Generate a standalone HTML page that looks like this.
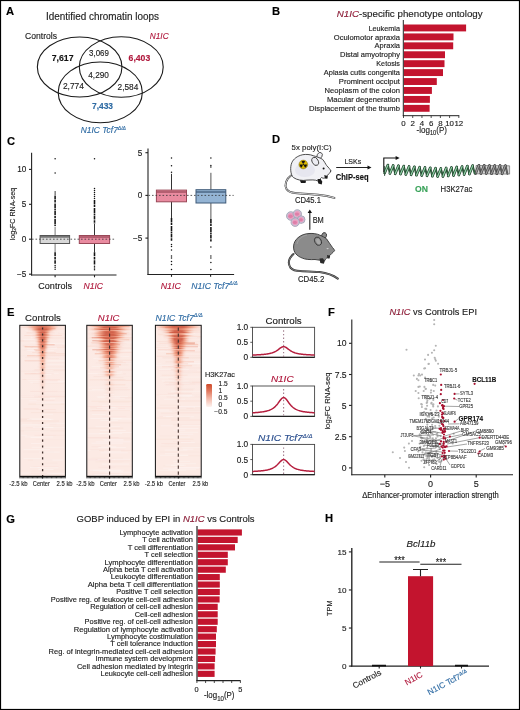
<!DOCTYPE html>
<html><head><meta charset="utf-8"><style>
html,body{margin:0;padding:0;background:#fff;}
body{width:520px;height:710px;overflow:hidden;}
svg{display:block;font-family:"Liberation Sans", sans-serif;will-change:transform;}
</style></head><body>
<svg width="520" height="710" viewBox="0 0 520 710">
<defs><linearGradient id="g0_0" x1="0.5" x2="1" y1="0" y2="0" spreadMethod="reflect"><stop offset="0.0" stop-color="#d0543a" stop-opacity="1.00"/><stop offset="0.08" stop-color="#d2583d" stop-opacity="1.00"/><stop offset="0.16" stop-color="#d76347" stop-opacity="1.00"/><stop offset="0.25" stop-color="#e07559" stop-opacity="1.00"/><stop offset="0.35" stop-color="#ec8e70" stop-opacity="1.00"/><stop offset="0.5" stop-color="#f4b39e" stop-opacity="0.98"/><stop offset="0.7" stop-color="#f9d7cc" stop-opacity="0.47"/><stop offset="1.0" stop-color="#fceae5" stop-opacity="0.19"/></linearGradient><linearGradient id="g0_1" x1="0.5" x2="1" y1="0" y2="0" spreadMethod="reflect"><stop offset="0.0" stop-color="#d0543a" stop-opacity="1.00"/><stop offset="0.08" stop-color="#d2583d" stop-opacity="1.00"/><stop offset="0.16" stop-color="#d76347" stop-opacity="1.00"/><stop offset="0.25" stop-color="#e07559" stop-opacity="1.00"/><stop offset="0.35" stop-color="#ec8e70" stop-opacity="1.00"/><stop offset="0.5" stop-color="#f4b39e" stop-opacity="0.98"/><stop offset="0.7" stop-color="#f9d7cc" stop-opacity="0.47"/><stop offset="1.0" stop-color="#fceae5" stop-opacity="0.19"/></linearGradient><linearGradient id="g0_2" x1="0.5" x2="1" y1="0" y2="0" spreadMethod="reflect"><stop offset="0.0" stop-color="#d0543a" stop-opacity="1.00"/><stop offset="0.08" stop-color="#d2583d" stop-opacity="1.00"/><stop offset="0.16" stop-color="#d76347" stop-opacity="1.00"/><stop offset="0.25" stop-color="#e07559" stop-opacity="1.00"/><stop offset="0.35" stop-color="#ec8e70" stop-opacity="1.00"/><stop offset="0.5" stop-color="#f4b39e" stop-opacity="0.98"/><stop offset="0.7" stop-color="#f9d7cc" stop-opacity="0.47"/><stop offset="1.0" stop-color="#fceae5" stop-opacity="0.19"/></linearGradient><linearGradient id="g0_3" x1="0.5" x2="1" y1="0" y2="0" spreadMethod="reflect"><stop offset="0.0" stop-color="#c8442a" stop-opacity="1.00"/><stop offset="0.08" stop-color="#c8442a" stop-opacity="1.00"/><stop offset="0.16" stop-color="#cc4d32" stop-opacity="1.00"/><stop offset="0.25" stop-color="#dc6e52" stop-opacity="1.00"/><stop offset="0.35" stop-color="#f09577" stop-opacity="1.00"/><stop offset="0.5" stop-color="#f7c6b7" stop-opacity="0.70"/><stop offset="0.7" stop-color="#fbe5de" stop-opacity="0.27"/><stop offset="1.0" stop-color="#fcede9" stop-opacity="0.15"/></linearGradient><linearGradient id="g0_4" x1="0.5" x2="1" y1="0" y2="0" spreadMethod="reflect"><stop offset="0.0" stop-color="#c8442a" stop-opacity="1.00"/><stop offset="0.08" stop-color="#c8442a" stop-opacity="1.00"/><stop offset="0.16" stop-color="#c9462b" stop-opacity="1.00"/><stop offset="0.25" stop-color="#da6a4e" stop-opacity="1.00"/><stop offset="0.35" stop-color="#ef9476" stop-opacity="1.00"/><stop offset="0.5" stop-color="#f7c8b8" stop-opacity="0.69"/><stop offset="0.7" stop-color="#fbe6e0" stop-opacity="0.26"/><stop offset="1.0" stop-color="#fcede9" stop-opacity="0.15"/></linearGradient><linearGradient id="g0_5" x1="0.5" x2="1" y1="0" y2="0" spreadMethod="reflect"><stop offset="0.0" stop-color="#ce5137" stop-opacity="1.00"/><stop offset="0.08" stop-color="#d2593e" stop-opacity="1.00"/><stop offset="0.16" stop-color="#dd6f53" stop-opacity="1.00"/><stop offset="0.25" stop-color="#ed9072" stop-opacity="1.00"/><stop offset="0.35" stop-color="#f4b5a1" stop-opacity="0.95"/><stop offset="0.5" stop-color="#f9dad1" stop-opacity="0.42"/><stop offset="0.7" stop-color="#fcebe6" stop-opacity="0.18"/><stop offset="1.0" stop-color="#fcede9" stop-opacity="0.15"/></linearGradient><linearGradient id="g0_6" x1="0.5" x2="1" y1="0" y2="0" spreadMethod="reflect"><stop offset="0.0" stop-color="#d0543a" stop-opacity="1.00"/><stop offset="0.08" stop-color="#d66145" stop-opacity="1.00"/><stop offset="0.16" stop-color="#e57f62" stop-opacity="1.00"/><stop offset="0.25" stop-color="#f3a991" stop-opacity="1.00"/><stop offset="0.35" stop-color="#f8cfc2" stop-opacity="0.58"/><stop offset="0.5" stop-color="#fbe8e2" stop-opacity="0.23"/><stop offset="0.7" stop-color="#fcede9" stop-opacity="0.15"/><stop offset="1.0" stop-color="#fcede9" stop-opacity="0.15"/></linearGradient><linearGradient id="g0_7" x1="0.5" x2="1" y1="0" y2="0" spreadMethod="reflect"><stop offset="0.0" stop-color="#c8442a" stop-opacity="1.00"/><stop offset="0.08" stop-color="#c8442a" stop-opacity="1.00"/><stop offset="0.16" stop-color="#d9674b" stop-opacity="1.00"/><stop offset="0.25" stop-color="#f2a389" stop-opacity="1.00"/><stop offset="0.35" stop-color="#f8d1c5" stop-opacity="0.55"/><stop offset="0.5" stop-color="#fceae5" stop-opacity="0.20"/><stop offset="0.7" stop-color="#fcede9" stop-opacity="0.15"/><stop offset="1.0" stop-color="#fcede9" stop-opacity="0.15"/></linearGradient><linearGradient id="g0_8" x1="0.5" x2="1" y1="0" y2="0" spreadMethod="reflect"><stop offset="0.0" stop-color="#d45c41" stop-opacity="1.00"/><stop offset="0.08" stop-color="#db6b4f" stop-opacity="1.00"/><stop offset="0.16" stop-color="#ed9072" stop-opacity="1.00"/><stop offset="0.25" stop-color="#f5bdab" stop-opacity="0.84"/><stop offset="0.35" stop-color="#faddd4" stop-opacity="0.38"/><stop offset="0.5" stop-color="#fcebe7" stop-opacity="0.17"/><stop offset="0.7" stop-color="#fcede9" stop-opacity="0.15"/><stop offset="1.0" stop-color="#fcede9" stop-opacity="0.15"/></linearGradient><linearGradient id="g0_9" x1="0.5" x2="1" y1="0" y2="0" spreadMethod="reflect"><stop offset="0.0" stop-color="#c8442a" stop-opacity="1.00"/><stop offset="0.08" stop-color="#ca492f" stop-opacity="1.00"/><stop offset="0.16" stop-color="#de7155" stop-opacity="1.00"/><stop offset="0.25" stop-color="#f2a58b" stop-opacity="1.00"/><stop offset="0.35" stop-color="#f8d0c3" stop-opacity="0.57"/><stop offset="0.5" stop-color="#fbe9e4" stop-opacity="0.21"/><stop offset="0.7" stop-color="#fcede9" stop-opacity="0.15"/><stop offset="1.0" stop-color="#fcede9" stop-opacity="0.15"/></linearGradient><linearGradient id="g0_10" x1="0.5" x2="1" y1="0" y2="0" spreadMethod="reflect"><stop offset="0.0" stop-color="#cc4d32" stop-opacity="1.00"/><stop offset="0.08" stop-color="#d25a3e" stop-opacity="1.00"/><stop offset="0.16" stop-color="#e27a5e" stop-opacity="1.00"/><stop offset="0.25" stop-color="#f2a68d" stop-opacity="1.00"/><stop offset="0.35" stop-color="#f8cec0" stop-opacity="0.60"/><stop offset="0.5" stop-color="#fbe7e2" stop-opacity="0.23"/><stop offset="0.7" stop-color="#fcede9" stop-opacity="0.15"/><stop offset="1.0" stop-color="#fcede9" stop-opacity="0.15"/></linearGradient><linearGradient id="g0_11" x1="0.5" x2="1" y1="0" y2="0" spreadMethod="reflect"><stop offset="0.0" stop-color="#d9674b" stop-opacity="1.00"/><stop offset="0.08" stop-color="#e2795d" stop-opacity="1.00"/><stop offset="0.16" stop-color="#f2a388" stop-opacity="1.00"/><stop offset="0.25" stop-color="#f8cec1" stop-opacity="0.59"/><stop offset="0.35" stop-color="#fbe6df" stop-opacity="0.26"/><stop offset="0.5" stop-color="#fcede9" stop-opacity="0.16"/><stop offset="0.7" stop-color="#fcede9" stop-opacity="0.15"/><stop offset="1.0" stop-color="#fcede9" stop-opacity="0.15"/></linearGradient><linearGradient id="g0_12" x1="0.5" x2="1" y1="0" y2="0" spreadMethod="reflect"><stop offset="0.0" stop-color="#c8442a" stop-opacity="1.00"/><stop offset="0.08" stop-color="#cd4f34" stop-opacity="1.00"/><stop offset="0.16" stop-color="#e07559" stop-opacity="1.00"/><stop offset="0.25" stop-color="#f2a88f" stop-opacity="1.00"/><stop offset="0.35" stop-color="#f8d1c5" stop-opacity="0.55"/><stop offset="0.5" stop-color="#fbe9e4" stop-opacity="0.21"/><stop offset="0.7" stop-color="#fcede9" stop-opacity="0.15"/><stop offset="1.0" stop-color="#fcede9" stop-opacity="0.15"/></linearGradient><linearGradient id="g0_13" x1="0.5" x2="1" y1="0" y2="0" spreadMethod="reflect"><stop offset="0.0" stop-color="#cc4d33" stop-opacity="1.00"/><stop offset="0.08" stop-color="#d86448" stop-opacity="1.00"/><stop offset="0.16" stop-color="#f09779" stop-opacity="1.00"/><stop offset="0.25" stop-color="#f7cbbd" stop-opacity="0.64"/><stop offset="0.35" stop-color="#fbe5df" stop-opacity="0.26"/><stop offset="0.5" stop-color="#fcede9" stop-opacity="0.15"/><stop offset="0.7" stop-color="#fcede9" stop-opacity="0.15"/><stop offset="1.0" stop-color="#fcede9" stop-opacity="0.15"/></linearGradient><linearGradient id="g0_14" x1="0.5" x2="1" y1="0" y2="0" spreadMethod="reflect"><stop offset="0.0" stop-color="#c8442a" stop-opacity="1.00"/><stop offset="0.08" stop-color="#d2593e" stop-opacity="1.00"/><stop offset="0.16" stop-color="#ed8f72" stop-opacity="1.00"/><stop offset="0.25" stop-color="#f7c8b8" stop-opacity="0.69"/><stop offset="0.35" stop-color="#fbe5de" stop-opacity="0.27"/><stop offset="0.5" stop-color="#fcede9" stop-opacity="0.15"/><stop offset="0.7" stop-color="#fcede9" stop-opacity="0.15"/><stop offset="1.0" stop-color="#fcede9" stop-opacity="0.15"/></linearGradient><linearGradient id="g0_15" x1="0.5" x2="1" y1="0" y2="0" spreadMethod="reflect"><stop offset="0.0" stop-color="#df7356" stop-opacity="1.00"/><stop offset="0.08" stop-color="#e78366" stop-opacity="1.00"/><stop offset="0.16" stop-color="#f3a890" stop-opacity="1.00"/><stop offset="0.25" stop-color="#f8d0c3" stop-opacity="0.57"/><stop offset="0.35" stop-color="#fbe6e0" stop-opacity="0.25"/><stop offset="0.5" stop-color="#fcede9" stop-opacity="0.16"/><stop offset="0.7" stop-color="#fcede9" stop-opacity="0.15"/><stop offset="1.0" stop-color="#fcede9" stop-opacity="0.15"/></linearGradient><linearGradient id="g0_16" x1="0.5" x2="1" y1="0" y2="0" spreadMethod="reflect"><stop offset="0.0" stop-color="#cd4e34" stop-opacity="1.00"/><stop offset="0.08" stop-color="#d76247" stop-opacity="1.00"/><stop offset="0.16" stop-color="#ed9073" stop-opacity="1.00"/><stop offset="0.25" stop-color="#f6c4b3" stop-opacity="0.74"/><stop offset="0.35" stop-color="#fae2db" stop-opacity="0.31"/><stop offset="0.5" stop-color="#fcece8" stop-opacity="0.16"/><stop offset="0.7" stop-color="#fcede9" stop-opacity="0.15"/><stop offset="1.0" stop-color="#fcede9" stop-opacity="0.15"/></linearGradient><linearGradient id="g0_17" x1="0.5" x2="1" y1="0" y2="0" spreadMethod="reflect"><stop offset="0.0" stop-color="#d0543a" stop-opacity="1.00"/><stop offset="0.08" stop-color="#dc6e52" stop-opacity="1.00"/><stop offset="0.16" stop-color="#f2a48a" stop-opacity="1.00"/><stop offset="0.25" stop-color="#f9d5ca" stop-opacity="0.50"/><stop offset="0.35" stop-color="#fbe9e4" stop-opacity="0.21"/><stop offset="0.5" stop-color="#fcede9" stop-opacity="0.15"/><stop offset="0.7" stop-color="#fcede9" stop-opacity="0.15"/><stop offset="1.0" stop-color="#fcede9" stop-opacity="0.15"/></linearGradient><linearGradient id="g0_18" x1="0.5" x2="1" y1="0" y2="0" spreadMethod="reflect"><stop offset="0.0" stop-color="#df7458" stop-opacity="1.00"/><stop offset="0.08" stop-color="#e88669" stop-opacity="1.00"/><stop offset="0.16" stop-color="#f3ae97" stop-opacity="1.00"/><stop offset="0.25" stop-color="#f9d5ca" stop-opacity="0.49"/><stop offset="0.35" stop-color="#fbe8e3" stop-opacity="0.22"/><stop offset="0.5" stop-color="#fcede9" stop-opacity="0.15"/><stop offset="0.7" stop-color="#fcede9" stop-opacity="0.15"/><stop offset="1.0" stop-color="#fcede9" stop-opacity="0.15"/></linearGradient><linearGradient id="g0_19" x1="0.5" x2="1" y1="0" y2="0" spreadMethod="reflect"><stop offset="0.0" stop-color="#cd4e34" stop-opacity="1.00"/><stop offset="0.08" stop-color="#d8664a" stop-opacity="1.00"/><stop offset="0.16" stop-color="#f0997c" stop-opacity="1.00"/><stop offset="0.25" stop-color="#f8cdbf" stop-opacity="0.61"/><stop offset="0.35" stop-color="#fbe6e0" stop-opacity="0.25"/><stop offset="0.5" stop-color="#fcede9" stop-opacity="0.15"/><stop offset="0.7" stop-color="#fcede9" stop-opacity="0.15"/><stop offset="1.0" stop-color="#fcede9" stop-opacity="0.15"/></linearGradient><linearGradient id="g0_20" x1="0.5" x2="1" y1="0" y2="0" spreadMethod="reflect"><stop offset="0.0" stop-color="#d35a3f" stop-opacity="1.00"/><stop offset="0.08" stop-color="#e2795d" stop-opacity="1.00"/><stop offset="0.16" stop-color="#f4b6a1" stop-opacity="0.95"/><stop offset="0.25" stop-color="#fae0d8" stop-opacity="0.34"/><stop offset="0.35" stop-color="#fcece7" stop-opacity="0.17"/><stop offset="0.5" stop-color="#fcede9" stop-opacity="0.15"/><stop offset="0.7" stop-color="#fcede9" stop-opacity="0.15"/><stop offset="1.0" stop-color="#fcede9" stop-opacity="0.15"/></linearGradient><linearGradient id="g0_21" x1="0.5" x2="1" y1="0" y2="0" spreadMethod="reflect"><stop offset="0.0" stop-color="#cf5338" stop-opacity="1.00"/><stop offset="0.08" stop-color="#df7458" stop-opacity="1.00"/><stop offset="0.16" stop-color="#f4b29d" stop-opacity="0.99"/><stop offset="0.25" stop-color="#fadfd7" stop-opacity="0.35"/><stop offset="0.35" stop-color="#fcece7" stop-opacity="0.17"/><stop offset="0.5" stop-color="#fcede9" stop-opacity="0.15"/><stop offset="0.7" stop-color="#fcede9" stop-opacity="0.15"/><stop offset="1.0" stop-color="#fcede9" stop-opacity="0.15"/></linearGradient><linearGradient id="g0_22" x1="0.5" x2="1" y1="0" y2="0" spreadMethod="reflect"><stop offset="0.0" stop-color="#da684d" stop-opacity="1.00"/><stop offset="0.08" stop-color="#e57f62" stop-opacity="1.00"/><stop offset="0.16" stop-color="#f3af98" stop-opacity="1.00"/><stop offset="0.25" stop-color="#f9d9cf" stop-opacity="0.44"/><stop offset="0.35" stop-color="#fceae5" stop-opacity="0.20"/><stop offset="0.5" stop-color="#fcede9" stop-opacity="0.15"/><stop offset="0.7" stop-color="#fcede9" stop-opacity="0.15"/><stop offset="1.0" stop-color="#fcede9" stop-opacity="0.15"/></linearGradient><linearGradient id="g0_23" x1="0.5" x2="1" y1="0" y2="0" spreadMethod="reflect"><stop offset="0.0" stop-color="#da694e" stop-opacity="1.00"/><stop offset="0.08" stop-color="#e88669" stop-opacity="1.00"/><stop offset="0.16" stop-color="#f5bdaa" stop-opacity="0.84"/><stop offset="0.25" stop-color="#fae2db" stop-opacity="0.31"/><stop offset="0.35" stop-color="#fcece8" stop-opacity="0.16"/><stop offset="0.5" stop-color="#fcede9" stop-opacity="0.15"/><stop offset="0.7" stop-color="#fcede9" stop-opacity="0.15"/><stop offset="1.0" stop-color="#fcede9" stop-opacity="0.15"/></linearGradient><linearGradient id="g0_24" x1="0.5" x2="1" y1="0" y2="0" spreadMethod="reflect"><stop offset="0.0" stop-color="#e57f62" stop-opacity="1.00"/><stop offset="0.08" stop-color="#f0997c" stop-opacity="1.00"/><stop offset="0.16" stop-color="#f7c8ba" stop-opacity="0.68"/><stop offset="0.25" stop-color="#fbe6df" stop-opacity="0.26"/><stop offset="0.35" stop-color="#fcece8" stop-opacity="0.16"/><stop offset="0.5" stop-color="#fcede9" stop-opacity="0.15"/><stop offset="0.7" stop-color="#fcede9" stop-opacity="0.15"/><stop offset="1.0" stop-color="#fcede9" stop-opacity="0.15"/></linearGradient><linearGradient id="g0_25" x1="0.5" x2="1" y1="0" y2="0" spreadMethod="reflect"><stop offset="0.0" stop-color="#e37c5f" stop-opacity="1.00"/><stop offset="0.08" stop-color="#f09678" stop-opacity="1.00"/><stop offset="0.16" stop-color="#f7c6b7" stop-opacity="0.70"/><stop offset="0.25" stop-color="#fbe5df" stop-opacity="0.27"/><stop offset="0.35" stop-color="#fcece8" stop-opacity="0.16"/><stop offset="0.5" stop-color="#fcede9" stop-opacity="0.15"/><stop offset="0.7" stop-color="#fcede9" stop-opacity="0.15"/><stop offset="1.0" stop-color="#fcede9" stop-opacity="0.15"/></linearGradient><linearGradient id="g0_26" x1="0.5" x2="1" y1="0" y2="0" spreadMethod="reflect"><stop offset="0.0" stop-color="#f09779" stop-opacity="1.00"/><stop offset="0.08" stop-color="#f3ad96" stop-opacity="1.00"/><stop offset="0.16" stop-color="#f8d3c7" stop-opacity="0.53"/><stop offset="0.25" stop-color="#fbe8e3" stop-opacity="0.22"/><stop offset="0.35" stop-color="#fcede9" stop-opacity="0.15"/><stop offset="0.5" stop-color="#fcede9" stop-opacity="0.15"/><stop offset="0.7" stop-color="#fcede9" stop-opacity="0.15"/><stop offset="1.0" stop-color="#fcede9" stop-opacity="0.15"/></linearGradient><linearGradient id="g0_27" x1="0.5" x2="1" y1="0" y2="0" spreadMethod="reflect"><stop offset="0.0" stop-color="#de7054" stop-opacity="1.00"/><stop offset="0.08" stop-color="#ea8b6d" stop-opacity="1.00"/><stop offset="0.16" stop-color="#f6beac" stop-opacity="0.82"/><stop offset="0.25" stop-color="#fae2db" stop-opacity="0.31"/><stop offset="0.35" stop-color="#fcece8" stop-opacity="0.17"/><stop offset="0.5" stop-color="#fcede9" stop-opacity="0.15"/><stop offset="0.7" stop-color="#fcede9" stop-opacity="0.15"/><stop offset="1.0" stop-color="#fcede9" stop-opacity="0.15"/></linearGradient><linearGradient id="g0_28" x1="0.5" x2="1" y1="0" y2="0" spreadMethod="reflect"><stop offset="0.0" stop-color="#ef9375" stop-opacity="1.00"/><stop offset="0.08" stop-color="#f3aa92" stop-opacity="1.00"/><stop offset="0.16" stop-color="#f8d1c5" stop-opacity="0.55"/><stop offset="0.25" stop-color="#fbe8e2" stop-opacity="0.22"/><stop offset="0.35" stop-color="#fcede9" stop-opacity="0.15"/><stop offset="0.5" stop-color="#fcede9" stop-opacity="0.15"/><stop offset="0.7" stop-color="#fcede9" stop-opacity="0.15"/><stop offset="1.0" stop-color="#fcede9" stop-opacity="0.15"/></linearGradient><linearGradient id="g0_29" x1="0.5" x2="1" y1="0" y2="0" spreadMethod="reflect"><stop offset="0.0" stop-color="#ee9173" stop-opacity="1.00"/><stop offset="0.08" stop-color="#f3ab93" stop-opacity="1.00"/><stop offset="0.16" stop-color="#f9d4c9" stop-opacity="0.50"/><stop offset="0.25" stop-color="#fce9e4" stop-opacity="0.20"/><stop offset="0.35" stop-color="#fcede9" stop-opacity="0.15"/><stop offset="0.5" stop-color="#fcede9" stop-opacity="0.15"/><stop offset="0.7" stop-color="#fcede9" stop-opacity="0.15"/><stop offset="1.0" stop-color="#fcede9" stop-opacity="0.15"/></linearGradient><linearGradient id="g0_30" x1="0.5" x2="1" y1="0" y2="0" spreadMethod="reflect"><stop offset="0.0" stop-color="#e47d60" stop-opacity="1.00"/><stop offset="0.08" stop-color="#f0987b" stop-opacity="1.00"/><stop offset="0.16" stop-color="#f7cabb" stop-opacity="0.66"/><stop offset="0.25" stop-color="#fbe6e1" stop-opacity="0.24"/><stop offset="0.35" stop-color="#fcede8" stop-opacity="0.16"/><stop offset="0.5" stop-color="#fcede9" stop-opacity="0.15"/><stop offset="0.7" stop-color="#fcede9" stop-opacity="0.15"/><stop offset="1.0" stop-color="#fcede9" stop-opacity="0.15"/></linearGradient><linearGradient id="g0_31" x1="0.5" x2="1" y1="0" y2="0" spreadMethod="reflect"><stop offset="0.0" stop-color="#f19f84" stop-opacity="1.00"/><stop offset="0.08" stop-color="#f4b49e" stop-opacity="0.98"/><stop offset="0.16" stop-color="#f9d6cb" stop-opacity="0.49"/><stop offset="0.25" stop-color="#fbe9e4" stop-opacity="0.21"/><stop offset="0.35" stop-color="#fcede9" stop-opacity="0.15"/><stop offset="0.5" stop-color="#fcede9" stop-opacity="0.15"/><stop offset="0.7" stop-color="#fcede9" stop-opacity="0.15"/><stop offset="1.0" stop-color="#fcede9" stop-opacity="0.15"/></linearGradient><linearGradient id="g0_32" x1="0.5" x2="1" y1="0" y2="0" spreadMethod="reflect"><stop offset="0.0" stop-color="#f09577" stop-opacity="1.00"/><stop offset="0.08" stop-color="#f3ae97" stop-opacity="1.00"/><stop offset="0.16" stop-color="#f9d6cb" stop-opacity="0.48"/><stop offset="0.25" stop-color="#fceae5" stop-opacity="0.20"/><stop offset="0.35" stop-color="#fcede9" stop-opacity="0.15"/><stop offset="0.5" stop-color="#fcede9" stop-opacity="0.15"/><stop offset="0.7" stop-color="#fcede9" stop-opacity="0.15"/><stop offset="1.0" stop-color="#fcede9" stop-opacity="0.15"/></linearGradient><linearGradient id="g0_33" x1="0.5" x2="1" y1="0" y2="0" spreadMethod="reflect"><stop offset="0.0" stop-color="#f2a186" stop-opacity="1.00"/><stop offset="0.08" stop-color="#f4b6a2" stop-opacity="0.94"/><stop offset="0.16" stop-color="#f9d8ce" stop-opacity="0.45"/><stop offset="0.25" stop-color="#fceae5" stop-opacity="0.20"/><stop offset="0.35" stop-color="#fcede9" stop-opacity="0.15"/><stop offset="0.5" stop-color="#fcede9" stop-opacity="0.15"/><stop offset="0.7" stop-color="#fcede9" stop-opacity="0.15"/><stop offset="1.0" stop-color="#fcede9" stop-opacity="0.15"/></linearGradient><linearGradient id="g0_34" x1="0.5" x2="1" y1="0" y2="0" spreadMethod="reflect"><stop offset="0.0" stop-color="#f3ab93" stop-opacity="1.00"/><stop offset="0.08" stop-color="#f5beab" stop-opacity="0.83"/><stop offset="0.16" stop-color="#fadbd2" stop-opacity="0.40"/><stop offset="0.25" stop-color="#fceae6" stop-opacity="0.19"/><stop offset="0.35" stop-color="#fcede9" stop-opacity="0.15"/><stop offset="0.5" stop-color="#fcede9" stop-opacity="0.15"/><stop offset="0.7" stop-color="#fcede9" stop-opacity="0.15"/><stop offset="1.0" stop-color="#fcede9" stop-opacity="0.15"/></linearGradient><linearGradient id="g0_35" x1="0.5" x2="1" y1="0" y2="0" spreadMethod="reflect"><stop offset="0.0" stop-color="#f19c80" stop-opacity="1.00"/><stop offset="0.08" stop-color="#f4b49f" stop-opacity="0.97"/><stop offset="0.16" stop-color="#f9d9cf" stop-opacity="0.44"/><stop offset="0.25" stop-color="#fceae5" stop-opacity="0.19"/><stop offset="0.35" stop-color="#fcede9" stop-opacity="0.15"/><stop offset="0.5" stop-color="#fcede9" stop-opacity="0.15"/><stop offset="0.7" stop-color="#fcede9" stop-opacity="0.15"/><stop offset="1.0" stop-color="#fcede9" stop-opacity="0.15"/></linearGradient><linearGradient id="g0_36" x1="0.5" x2="1" y1="0" y2="0" spreadMethod="reflect"><stop offset="0.0" stop-color="#f2a186" stop-opacity="1.00"/><stop offset="0.08" stop-color="#f5b9a5" stop-opacity="0.90"/><stop offset="0.16" stop-color="#fadcd3" stop-opacity="0.40"/><stop offset="0.25" stop-color="#fcebe6" stop-opacity="0.18"/><stop offset="0.35" stop-color="#fcede9" stop-opacity="0.15"/><stop offset="0.5" stop-color="#fcede9" stop-opacity="0.15"/><stop offset="0.7" stop-color="#fcede9" stop-opacity="0.15"/><stop offset="1.0" stop-color="#fcede9" stop-opacity="0.15"/></linearGradient><linearGradient id="g0_37" x1="0.5" x2="1" y1="0" y2="0" spreadMethod="reflect"><stop offset="0.0" stop-color="#f4b29d" stop-opacity="0.99"/><stop offset="0.08" stop-color="#f6c4b4" stop-opacity="0.74"/><stop offset="0.16" stop-color="#fadfd7" stop-opacity="0.35"/><stop offset="0.25" stop-color="#fcebe7" stop-opacity="0.18"/><stop offset="0.35" stop-color="#fcede9" stop-opacity="0.15"/><stop offset="0.5" stop-color="#fcede9" stop-opacity="0.15"/><stop offset="0.7" stop-color="#fcede9" stop-opacity="0.15"/><stop offset="1.0" stop-color="#fcede9" stop-opacity="0.15"/></linearGradient><linearGradient id="g0_38" x1="0.5" x2="1" y1="0" y2="0" spreadMethod="reflect"><stop offset="0.0" stop-color="#f09577" stop-opacity="1.00"/><stop offset="0.08" stop-color="#f4b09a" stop-opacity="1.00"/><stop offset="0.16" stop-color="#f9d9cf" stop-opacity="0.44"/><stop offset="0.25" stop-color="#fcebe6" stop-opacity="0.18"/><stop offset="0.35" stop-color="#fcede9" stop-opacity="0.15"/><stop offset="0.5" stop-color="#fcede9" stop-opacity="0.15"/><stop offset="0.7" stop-color="#fcede9" stop-opacity="0.15"/><stop offset="1.0" stop-color="#fcede9" stop-opacity="0.15"/></linearGradient><linearGradient id="g0_39" x1="0.5" x2="1" y1="0" y2="0" spreadMethod="reflect"><stop offset="0.0" stop-color="#f3ae97" stop-opacity="1.00"/><stop offset="0.08" stop-color="#f6c2b1" stop-opacity="0.77"/><stop offset="0.16" stop-color="#fadfd7" stop-opacity="0.35"/><stop offset="0.25" stop-color="#fcebe7" stop-opacity="0.17"/><stop offset="0.35" stop-color="#fcede9" stop-opacity="0.15"/><stop offset="0.5" stop-color="#fcede9" stop-opacity="0.15"/><stop offset="0.7" stop-color="#fcede9" stop-opacity="0.15"/><stop offset="1.0" stop-color="#fcede9" stop-opacity="0.15"/></linearGradient><linearGradient id="g0_40" x1="0.5" x2="1" y1="0" y2="0" spreadMethod="reflect"><stop offset="0.0" stop-color="#f3ae97" stop-opacity="1.00"/><stop offset="0.08" stop-color="#f6c1b0" stop-opacity="0.78"/><stop offset="0.16" stop-color="#faded6" stop-opacity="0.36"/><stop offset="0.25" stop-color="#fcebe7" stop-opacity="0.18"/><stop offset="0.35" stop-color="#fcede9" stop-opacity="0.15"/><stop offset="0.5" stop-color="#fcede9" stop-opacity="0.15"/><stop offset="0.7" stop-color="#fcede9" stop-opacity="0.15"/><stop offset="1.0" stop-color="#fcede9" stop-opacity="0.15"/></linearGradient><linearGradient id="g0_41" x1="0.5" x2="1" y1="0" y2="0" spreadMethod="reflect"><stop offset="0.0" stop-color="#f4b09a" stop-opacity="1.00"/><stop offset="0.08" stop-color="#f6c4b3" stop-opacity="0.74"/><stop offset="0.16" stop-color="#fae0d8" stop-opacity="0.34"/><stop offset="0.25" stop-color="#fcece7" stop-opacity="0.17"/><stop offset="0.35" stop-color="#fcede9" stop-opacity="0.15"/><stop offset="0.5" stop-color="#fcede9" stop-opacity="0.15"/><stop offset="0.7" stop-color="#fcede9" stop-opacity="0.15"/><stop offset="1.0" stop-color="#fcede9" stop-opacity="0.15"/></linearGradient><linearGradient id="g0_42" x1="0.5" x2="1" y1="0" y2="0" spreadMethod="reflect"><stop offset="0.0" stop-color="#f2a389" stop-opacity="1.00"/><stop offset="0.08" stop-color="#f5baa7" stop-opacity="0.88"/><stop offset="0.16" stop-color="#fadcd3" stop-opacity="0.39"/><stop offset="0.25" stop-color="#fcebe6" stop-opacity="0.18"/><stop offset="0.35" stop-color="#fcede9" stop-opacity="0.15"/><stop offset="0.5" stop-color="#fcede9" stop-opacity="0.15"/><stop offset="0.7" stop-color="#fcede9" stop-opacity="0.15"/><stop offset="1.0" stop-color="#fcede9" stop-opacity="0.15"/></linearGradient><linearGradient id="g0_43" x1="0.5" x2="1" y1="0" y2="0" spreadMethod="reflect"><stop offset="0.0" stop-color="#f4b39e" stop-opacity="0.98"/><stop offset="0.08" stop-color="#f7c6b7" stop-opacity="0.71"/><stop offset="0.16" stop-color="#fae1da" stop-opacity="0.32"/><stop offset="0.25" stop-color="#fcece7" stop-opacity="0.17"/><stop offset="0.35" stop-color="#fcede9" stop-opacity="0.15"/><stop offset="0.5" stop-color="#fcede9" stop-opacity="0.15"/><stop offset="0.7" stop-color="#fcede9" stop-opacity="0.15"/><stop offset="1.0" stop-color="#fcede9" stop-opacity="0.15"/></linearGradient><linearGradient id="g0_44" x1="0.5" x2="1" y1="0" y2="0" spreadMethod="reflect"><stop offset="0.0" stop-color="#f4b39d" stop-opacity="0.99"/><stop offset="0.08" stop-color="#f7c6b7" stop-opacity="0.71"/><stop offset="0.16" stop-color="#fae2da" stop-opacity="0.32"/><stop offset="0.25" stop-color="#fcece8" stop-opacity="0.17"/><stop offset="0.35" stop-color="#fcede9" stop-opacity="0.15"/><stop offset="0.5" stop-color="#fcede9" stop-opacity="0.15"/><stop offset="0.7" stop-color="#fcede9" stop-opacity="0.15"/><stop offset="1.0" stop-color="#fcede9" stop-opacity="0.15"/></linearGradient><linearGradient id="g0_45" x1="0.5" x2="1" y1="0" y2="0" spreadMethod="reflect"><stop offset="0.0" stop-color="#f6c0ae" stop-opacity="0.80"/><stop offset="0.08" stop-color="#f8cfc1" stop-opacity="0.59"/><stop offset="0.16" stop-color="#fbe4dd" stop-opacity="0.29"/><stop offset="0.25" stop-color="#fcece8" stop-opacity="0.16"/><stop offset="0.35" stop-color="#fcede9" stop-opacity="0.15"/><stop offset="0.5" stop-color="#fcede9" stop-opacity="0.15"/><stop offset="0.7" stop-color="#fcede9" stop-opacity="0.15"/><stop offset="1.0" stop-color="#fcede9" stop-opacity="0.15"/></linearGradient><linearGradient id="g0_46" x1="0.5" x2="1" y1="0" y2="0" spreadMethod="reflect"><stop offset="0.0" stop-color="#f6bfad" stop-opacity="0.81"/><stop offset="0.08" stop-color="#f8cec1" stop-opacity="0.60"/><stop offset="0.16" stop-color="#fbe3dd" stop-opacity="0.29"/><stop offset="0.25" stop-color="#fcece8" stop-opacity="0.16"/><stop offset="0.35" stop-color="#fcede9" stop-opacity="0.15"/><stop offset="0.5" stop-color="#fcede9" stop-opacity="0.15"/><stop offset="0.7" stop-color="#fcede9" stop-opacity="0.15"/><stop offset="1.0" stop-color="#fcede9" stop-opacity="0.15"/></linearGradient><linearGradient id="g0_47" x1="0.5" x2="1" y1="0" y2="0" spreadMethod="reflect"><stop offset="0.0" stop-color="#f4b49f" stop-opacity="0.97"/><stop offset="0.08" stop-color="#f7c7b7" stop-opacity="0.70"/><stop offset="0.16" stop-color="#fae1da" stop-opacity="0.32"/><stop offset="0.25" stop-color="#fcece7" stop-opacity="0.17"/><stop offset="0.35" stop-color="#fcede9" stop-opacity="0.15"/><stop offset="0.5" stop-color="#fcede9" stop-opacity="0.15"/><stop offset="0.7" stop-color="#fcede9" stop-opacity="0.15"/><stop offset="1.0" stop-color="#fcede9" stop-opacity="0.15"/></linearGradient><linearGradient id="g0_48" x1="0.5" x2="1" y1="0" y2="0" spreadMethod="reflect"><stop offset="0.0" stop-color="#f4b39e" stop-opacity="0.98"/><stop offset="0.08" stop-color="#f7c7b7" stop-opacity="0.70"/><stop offset="0.16" stop-color="#fae2da" stop-opacity="0.31"/><stop offset="0.25" stop-color="#fcece8" stop-opacity="0.17"/><stop offset="0.35" stop-color="#fcede9" stop-opacity="0.15"/><stop offset="0.5" stop-color="#fcede9" stop-opacity="0.15"/><stop offset="0.7" stop-color="#fcede9" stop-opacity="0.15"/><stop offset="1.0" stop-color="#fcede9" stop-opacity="0.15"/></linearGradient><linearGradient id="g0_49" x1="0.5" x2="1" y1="0" y2="0" spreadMethod="reflect"><stop offset="0.0" stop-color="#f7c8ba" stop-opacity="0.67"/><stop offset="0.08" stop-color="#f9d5c9" stop-opacity="0.50"/><stop offset="0.16" stop-color="#fbe6e0" stop-opacity="0.25"/><stop offset="0.25" stop-color="#fcece8" stop-opacity="0.16"/><stop offset="0.35" stop-color="#fcede9" stop-opacity="0.15"/><stop offset="0.5" stop-color="#fcede9" stop-opacity="0.15"/><stop offset="0.7" stop-color="#fcede9" stop-opacity="0.15"/><stop offset="1.0" stop-color="#fcede9" stop-opacity="0.15"/></linearGradient><linearGradient id="g0_50" x1="0.5" x2="1" y1="0" y2="0" spreadMethod="reflect"><stop offset="0.0" stop-color="#f6bfad" stop-opacity="0.82"/><stop offset="0.08" stop-color="#f8cec1" stop-opacity="0.59"/><stop offset="0.16" stop-color="#fbe4dd" stop-opacity="0.28"/><stop offset="0.25" stop-color="#fcece8" stop-opacity="0.16"/><stop offset="0.35" stop-color="#fcede9" stop-opacity="0.15"/><stop offset="0.5" stop-color="#fcede9" stop-opacity="0.15"/><stop offset="0.7" stop-color="#fcede9" stop-opacity="0.15"/><stop offset="1.0" stop-color="#fcede9" stop-opacity="0.15"/></linearGradient><linearGradient id="g0_51" x1="0.5" x2="1" y1="0" y2="0" spreadMethod="reflect"><stop offset="0.0" stop-color="#f5bdaa" stop-opacity="0.85"/><stop offset="0.08" stop-color="#f8cdbf" stop-opacity="0.61"/><stop offset="0.16" stop-color="#fbe4dd" stop-opacity="0.28"/><stop offset="0.25" stop-color="#fcece8" stop-opacity="0.16"/><stop offset="0.35" stop-color="#fcede9" stop-opacity="0.15"/><stop offset="0.5" stop-color="#fcede9" stop-opacity="0.15"/><stop offset="0.7" stop-color="#fcede9" stop-opacity="0.15"/><stop offset="1.0" stop-color="#fcede9" stop-opacity="0.15"/></linearGradient><linearGradient id="g0_52" x1="0.5" x2="1" y1="0" y2="0" spreadMethod="reflect"><stop offset="0.0" stop-color="#f6c1b0" stop-opacity="0.78"/><stop offset="0.08" stop-color="#f8d0c3" stop-opacity="0.57"/><stop offset="0.16" stop-color="#fbe4de" stop-opacity="0.27"/><stop offset="0.25" stop-color="#fcece8" stop-opacity="0.16"/><stop offset="0.35" stop-color="#fcede9" stop-opacity="0.15"/><stop offset="0.5" stop-color="#fcede9" stop-opacity="0.15"/><stop offset="0.7" stop-color="#fcede9" stop-opacity="0.15"/><stop offset="1.0" stop-color="#fcede9" stop-opacity="0.15"/></linearGradient><linearGradient id="g0_53" x1="0.5" x2="1" y1="0" y2="0" spreadMethod="reflect"><stop offset="0.0" stop-color="#f8cdc0" stop-opacity="0.61"/><stop offset="0.08" stop-color="#f9d8ce" stop-opacity="0.45"/><stop offset="0.16" stop-color="#fbe7e1" stop-opacity="0.23"/><stop offset="0.25" stop-color="#fcece8" stop-opacity="0.16"/><stop offset="0.35" stop-color="#fcede9" stop-opacity="0.15"/><stop offset="0.5" stop-color="#fcede9" stop-opacity="0.15"/><stop offset="0.7" stop-color="#fcede9" stop-opacity="0.15"/><stop offset="1.0" stop-color="#fcede9" stop-opacity="0.15"/></linearGradient><linearGradient id="g0_54" x1="0.5" x2="1" y1="0" y2="0" spreadMethod="reflect"><stop offset="0.0" stop-color="#f5bdab" stop-opacity="0.84"/><stop offset="0.08" stop-color="#f8cec0" stop-opacity="0.60"/><stop offset="0.16" stop-color="#fbe4de" stop-opacity="0.27"/><stop offset="0.25" stop-color="#fcece8" stop-opacity="0.16"/><stop offset="0.35" stop-color="#fcede9" stop-opacity="0.15"/><stop offset="0.5" stop-color="#fcede9" stop-opacity="0.15"/><stop offset="0.7" stop-color="#fcede9" stop-opacity="0.15"/><stop offset="1.0" stop-color="#fcede9" stop-opacity="0.15"/></linearGradient><linearGradient id="g0_55" x1="0.5" x2="1" y1="0" y2="0" spreadMethod="reflect"><stop offset="0.0" stop-color="#f8cdc0" stop-opacity="0.61"/><stop offset="0.08" stop-color="#f9d8ce" stop-opacity="0.45"/><stop offset="0.16" stop-color="#fbe7e1" stop-opacity="0.23"/><stop offset="0.25" stop-color="#fcece8" stop-opacity="0.16"/><stop offset="0.35" stop-color="#fcede9" stop-opacity="0.15"/><stop offset="0.5" stop-color="#fcede9" stop-opacity="0.15"/><stop offset="0.7" stop-color="#fcede9" stop-opacity="0.15"/><stop offset="1.0" stop-color="#fcede9" stop-opacity="0.15"/></linearGradient><linearGradient id="g0_56" x1="0.5" x2="1" y1="0" y2="0" spreadMethod="reflect"><stop offset="0.0" stop-color="#f6c3b2" stop-opacity="0.76"/><stop offset="0.08" stop-color="#f8d1c5" stop-opacity="0.55"/><stop offset="0.16" stop-color="#fbe5df" stop-opacity="0.26"/><stop offset="0.25" stop-color="#fcece8" stop-opacity="0.16"/><stop offset="0.35" stop-color="#fcede9" stop-opacity="0.15"/><stop offset="0.5" stop-color="#fcede9" stop-opacity="0.15"/><stop offset="0.7" stop-color="#fcede9" stop-opacity="0.15"/><stop offset="1.0" stop-color="#fcede9" stop-opacity="0.15"/></linearGradient><linearGradient id="g0_57" x1="0.5" x2="1" y1="0" y2="0" spreadMethod="reflect"><stop offset="0.0" stop-color="#f6c3b2" stop-opacity="0.76"/><stop offset="0.08" stop-color="#f8d2c5" stop-opacity="0.55"/><stop offset="0.16" stop-color="#fbe5df" stop-opacity="0.26"/><stop offset="0.25" stop-color="#fcece8" stop-opacity="0.16"/><stop offset="0.35" stop-color="#fcede9" stop-opacity="0.15"/><stop offset="0.5" stop-color="#fcede9" stop-opacity="0.15"/><stop offset="0.7" stop-color="#fcede9" stop-opacity="0.15"/><stop offset="1.0" stop-color="#fcede9" stop-opacity="0.15"/></linearGradient><linearGradient id="g0_58" x1="0.5" x2="1" y1="0" y2="0" spreadMethod="reflect"><stop offset="0.0" stop-color="#f8d1c4" stop-opacity="0.56"/><stop offset="0.08" stop-color="#f9dbd1" stop-opacity="0.42"/><stop offset="0.16" stop-color="#fbe8e2" stop-opacity="0.22"/><stop offset="0.25" stop-color="#fcede8" stop-opacity="0.16"/><stop offset="0.35" stop-color="#fcede9" stop-opacity="0.15"/><stop offset="0.5" stop-color="#fcede9" stop-opacity="0.15"/><stop offset="0.7" stop-color="#fcede9" stop-opacity="0.15"/><stop offset="1.0" stop-color="#fcede9" stop-opacity="0.15"/></linearGradient><linearGradient id="g0_59" x1="0.5" x2="1" y1="0" y2="0" spreadMethod="reflect"><stop offset="0.0" stop-color="#f7c6b7" stop-opacity="0.71"/><stop offset="0.08" stop-color="#f9d4c8" stop-opacity="0.51"/><stop offset="0.16" stop-color="#fbe6e0" stop-opacity="0.25"/><stop offset="0.25" stop-color="#fcece8" stop-opacity="0.16"/><stop offset="0.35" stop-color="#fcede9" stop-opacity="0.15"/><stop offset="0.5" stop-color="#fcede9" stop-opacity="0.15"/><stop offset="0.7" stop-color="#fcede9" stop-opacity="0.15"/><stop offset="1.0" stop-color="#fcede9" stop-opacity="0.15"/></linearGradient><linearGradient id="g0_60" x1="0.5" x2="1" y1="0" y2="0" spreadMethod="reflect"><stop offset="0.0" stop-color="#f7cabc" stop-opacity="0.65"/><stop offset="0.08" stop-color="#f9d6cc" stop-opacity="0.47"/><stop offset="0.16" stop-color="#fbe7e1" stop-opacity="0.24"/><stop offset="0.25" stop-color="#fcece8" stop-opacity="0.16"/><stop offset="0.35" stop-color="#fcede9" stop-opacity="0.15"/><stop offset="0.5" stop-color="#fcede9" stop-opacity="0.15"/><stop offset="0.7" stop-color="#fcede9" stop-opacity="0.15"/><stop offset="1.0" stop-color="#fcede9" stop-opacity="0.15"/></linearGradient><linearGradient id="g0_61" x1="0.5" x2="1" y1="0" y2="0" spreadMethod="reflect"><stop offset="0.0" stop-color="#f8cfc2" stop-opacity="0.58"/><stop offset="0.08" stop-color="#f9dad0" stop-opacity="0.43"/><stop offset="0.16" stop-color="#fbe8e2" stop-opacity="0.23"/><stop offset="0.25" stop-color="#fcede8" stop-opacity="0.16"/><stop offset="0.35" stop-color="#fcede9" stop-opacity="0.15"/><stop offset="0.5" stop-color="#fcede9" stop-opacity="0.15"/><stop offset="0.7" stop-color="#fcede9" stop-opacity="0.15"/><stop offset="1.0" stop-color="#fcede9" stop-opacity="0.15"/></linearGradient><linearGradient id="g0_62" x1="0.5" x2="1" y1="0" y2="0" spreadMethod="reflect"><stop offset="0.0" stop-color="#f9d7cc" stop-opacity="0.47"/><stop offset="0.08" stop-color="#fadfd6" stop-opacity="0.36"/><stop offset="0.16" stop-color="#fbe9e4" stop-opacity="0.21"/><stop offset="0.25" stop-color="#fcede9" stop-opacity="0.15"/><stop offset="0.35" stop-color="#fcede9" stop-opacity="0.15"/><stop offset="0.5" stop-color="#fcede9" stop-opacity="0.15"/><stop offset="0.7" stop-color="#fcede9" stop-opacity="0.15"/><stop offset="1.0" stop-color="#fcede9" stop-opacity="0.15"/></linearGradient><linearGradient id="g0_63" x1="0.5" x2="1" y1="0" y2="0" spreadMethod="reflect"><stop offset="0.0" stop-color="#f9d4c8" stop-opacity="0.51"/><stop offset="0.08" stop-color="#faddd4" stop-opacity="0.39"/><stop offset="0.16" stop-color="#fbe8e3" stop-opacity="0.22"/><stop offset="0.25" stop-color="#fcede9" stop-opacity="0.16"/><stop offset="0.35" stop-color="#fcede9" stop-opacity="0.15"/><stop offset="0.5" stop-color="#fcede9" stop-opacity="0.15"/><stop offset="0.7" stop-color="#fcede9" stop-opacity="0.15"/><stop offset="1.0" stop-color="#fcede9" stop-opacity="0.15"/></linearGradient><linearGradient id="g0_64" x1="0.5" x2="1" y1="0" y2="0" spreadMethod="reflect"><stop offset="0.0" stop-color="#f9d5ca" stop-opacity="0.49"/><stop offset="0.08" stop-color="#faded5" stop-opacity="0.37"/><stop offset="0.16" stop-color="#fbe9e4" stop-opacity="0.21"/><stop offset="0.25" stop-color="#fcede9" stop-opacity="0.15"/><stop offset="0.35" stop-color="#fcede9" stop-opacity="0.15"/><stop offset="0.5" stop-color="#fcede9" stop-opacity="0.15"/><stop offset="0.7" stop-color="#fcede9" stop-opacity="0.15"/><stop offset="1.0" stop-color="#fcede9" stop-opacity="0.15"/></linearGradient><linearGradient id="g0_65" x1="0.5" x2="1" y1="0" y2="0" spreadMethod="reflect"><stop offset="0.0" stop-color="#f9d9ce" stop-opacity="0.44"/><stop offset="0.08" stop-color="#fae0d8" stop-opacity="0.34"/><stop offset="0.16" stop-color="#fce9e4" stop-opacity="0.20"/><stop offset="0.25" stop-color="#fcede9" stop-opacity="0.15"/><stop offset="0.35" stop-color="#fcede9" stop-opacity="0.15"/><stop offset="0.5" stop-color="#fcede9" stop-opacity="0.15"/><stop offset="0.7" stop-color="#fcede9" stop-opacity="0.15"/><stop offset="1.0" stop-color="#fcede9" stop-opacity="0.15"/></linearGradient><linearGradient id="g0_66" x1="0.5" x2="1" y1="0" y2="0" spreadMethod="reflect"><stop offset="0.0" stop-color="#f9d8ce" stop-opacity="0.45"/><stop offset="0.08" stop-color="#fadfd7" stop-opacity="0.34"/><stop offset="0.16" stop-color="#fbe9e4" stop-opacity="0.20"/><stop offset="0.25" stop-color="#fcede9" stop-opacity="0.15"/><stop offset="0.35" stop-color="#fcede9" stop-opacity="0.15"/><stop offset="0.5" stop-color="#fcede9" stop-opacity="0.15"/><stop offset="0.7" stop-color="#fcede9" stop-opacity="0.15"/><stop offset="1.0" stop-color="#fcede9" stop-opacity="0.15"/></linearGradient><linearGradient id="g0_67" x1="0.5" x2="1" y1="0" y2="0" spreadMethod="reflect"><stop offset="0.0" stop-color="#f9d5ca" stop-opacity="0.49"/><stop offset="0.08" stop-color="#faddd5" stop-opacity="0.37"/><stop offset="0.16" stop-color="#fbe9e4" stop-opacity="0.21"/><stop offset="0.25" stop-color="#fcede9" stop-opacity="0.15"/><stop offset="0.35" stop-color="#fcede9" stop-opacity="0.15"/><stop offset="0.5" stop-color="#fcede9" stop-opacity="0.15"/><stop offset="0.7" stop-color="#fcede9" stop-opacity="0.15"/><stop offset="1.0" stop-color="#fcede9" stop-opacity="0.15"/></linearGradient><linearGradient id="g0_68" x1="0.5" x2="1" y1="0" y2="0" spreadMethod="reflect"><stop offset="0.0" stop-color="#fadcd3" stop-opacity="0.39"/><stop offset="0.08" stop-color="#fbe2db" stop-opacity="0.31"/><stop offset="0.16" stop-color="#fceae5" stop-opacity="0.19"/><stop offset="0.25" stop-color="#fcede9" stop-opacity="0.15"/><stop offset="0.35" stop-color="#fcede9" stop-opacity="0.15"/><stop offset="0.5" stop-color="#fcede9" stop-opacity="0.15"/><stop offset="0.7" stop-color="#fcede9" stop-opacity="0.15"/><stop offset="1.0" stop-color="#fcede9" stop-opacity="0.15"/></linearGradient><linearGradient id="g0_69" x1="0.5" x2="1" y1="0" y2="0" spreadMethod="reflect"><stop offset="0.0" stop-color="#f9d6cb" stop-opacity="0.48"/><stop offset="0.08" stop-color="#faded6" stop-opacity="0.36"/><stop offset="0.16" stop-color="#fbe9e4" stop-opacity="0.21"/><stop offset="0.25" stop-color="#fcede9" stop-opacity="0.15"/><stop offset="0.35" stop-color="#fcede9" stop-opacity="0.15"/><stop offset="0.5" stop-color="#fcede9" stop-opacity="0.15"/><stop offset="0.7" stop-color="#fcede9" stop-opacity="0.15"/><stop offset="1.0" stop-color="#fcede9" stop-opacity="0.15"/></linearGradient><linearGradient id="g0_70" x1="0.5" x2="1" y1="0" y2="0" spreadMethod="reflect"><stop offset="0.0" stop-color="#faded5" stop-opacity="0.37"/><stop offset="0.08" stop-color="#fbe3dc" stop-opacity="0.29"/><stop offset="0.16" stop-color="#fceae6" stop-opacity="0.19"/><stop offset="0.25" stop-color="#fcede9" stop-opacity="0.15"/><stop offset="0.35" stop-color="#fcede9" stop-opacity="0.15"/><stop offset="0.5" stop-color="#fcede9" stop-opacity="0.15"/><stop offset="0.7" stop-color="#fcede9" stop-opacity="0.15"/><stop offset="1.0" stop-color="#fcede9" stop-opacity="0.15"/></linearGradient><linearGradient id="g0_71" x1="0.5" x2="1" y1="0" y2="0" spreadMethod="reflect"><stop offset="0.0" stop-color="#f9d9d0" stop-opacity="0.43"/><stop offset="0.08" stop-color="#fae0d9" stop-opacity="0.33"/><stop offset="0.16" stop-color="#fceae5" stop-opacity="0.20"/><stop offset="0.25" stop-color="#fcede9" stop-opacity="0.15"/><stop offset="0.35" stop-color="#fcede9" stop-opacity="0.15"/><stop offset="0.5" stop-color="#fcede9" stop-opacity="0.15"/><stop offset="0.7" stop-color="#fcede9" stop-opacity="0.15"/><stop offset="1.0" stop-color="#fcede9" stop-opacity="0.15"/></linearGradient><linearGradient id="g0_72" x1="0.5" x2="1" y1="0" y2="0" spreadMethod="reflect"><stop offset="0.0" stop-color="#f9dad1" stop-opacity="0.42"/><stop offset="0.08" stop-color="#fae1d9" stop-opacity="0.32"/><stop offset="0.16" stop-color="#fceae5" stop-opacity="0.20"/><stop offset="0.25" stop-color="#fcede9" stop-opacity="0.15"/><stop offset="0.35" stop-color="#fcede9" stop-opacity="0.15"/><stop offset="0.5" stop-color="#fcede9" stop-opacity="0.15"/><stop offset="0.7" stop-color="#fcede9" stop-opacity="0.15"/><stop offset="1.0" stop-color="#fcede9" stop-opacity="0.15"/></linearGradient><linearGradient id="g0_73" x1="0.5" x2="1" y1="0" y2="0" spreadMethod="reflect"><stop offset="0.0" stop-color="#fadfd6" stop-opacity="0.36"/><stop offset="0.08" stop-color="#fbe4dd" stop-opacity="0.28"/><stop offset="0.16" stop-color="#fcebe6" stop-opacity="0.19"/><stop offset="0.25" stop-color="#fcede9" stop-opacity="0.15"/><stop offset="0.35" stop-color="#fcede9" stop-opacity="0.15"/><stop offset="0.5" stop-color="#fcede9" stop-opacity="0.15"/><stop offset="0.7" stop-color="#fcede9" stop-opacity="0.15"/><stop offset="1.0" stop-color="#fcede9" stop-opacity="0.15"/></linearGradient><linearGradient id="g0_74" x1="0.5" x2="1" y1="0" y2="0" spreadMethod="reflect"><stop offset="0.0" stop-color="#fadfd7" stop-opacity="0.35"/><stop offset="0.08" stop-color="#fbe4de" stop-opacity="0.28"/><stop offset="0.16" stop-color="#fcebe6" stop-opacity="0.18"/><stop offset="0.25" stop-color="#fcede9" stop-opacity="0.15"/><stop offset="0.35" stop-color="#fcede9" stop-opacity="0.15"/><stop offset="0.5" stop-color="#fcede9" stop-opacity="0.15"/><stop offset="0.7" stop-color="#fcede9" stop-opacity="0.15"/><stop offset="1.0" stop-color="#fcede9" stop-opacity="0.15"/></linearGradient><linearGradient id="g1_0" x1="0.5" x2="1" y1="0" y2="0" spreadMethod="reflect"><stop offset="0.0" stop-color="#c8442a" stop-opacity="1.00"/><stop offset="0.08" stop-color="#c9462c" stop-opacity="1.00"/><stop offset="0.16" stop-color="#cc4c32" stop-opacity="1.00"/><stop offset="0.25" stop-color="#d2583d" stop-opacity="1.00"/><stop offset="0.35" stop-color="#da684d" stop-opacity="1.00"/><stop offset="0.5" stop-color="#e88668" stop-opacity="1.00"/><stop offset="0.7" stop-color="#f3ad96" stop-opacity="1.00"/><stop offset="1.0" stop-color="#f9d6cc" stop-opacity="0.47"/></linearGradient><linearGradient id="g1_1" x1="0.5" x2="1" y1="0" y2="0" spreadMethod="reflect"><stop offset="0.0" stop-color="#c8442a" stop-opacity="1.00"/><stop offset="0.08" stop-color="#c9462c" stop-opacity="1.00"/><stop offset="0.16" stop-color="#cc4c32" stop-opacity="1.00"/><stop offset="0.25" stop-color="#d2583d" stop-opacity="1.00"/><stop offset="0.35" stop-color="#da684d" stop-opacity="1.00"/><stop offset="0.5" stop-color="#e88668" stop-opacity="1.00"/><stop offset="0.7" stop-color="#f3ad96" stop-opacity="1.00"/><stop offset="1.0" stop-color="#f9d6cc" stop-opacity="0.47"/></linearGradient><linearGradient id="g1_2" x1="0.5" x2="1" y1="0" y2="0" spreadMethod="reflect"><stop offset="0.0" stop-color="#c8442a" stop-opacity="1.00"/><stop offset="0.08" stop-color="#c8442a" stop-opacity="1.00"/><stop offset="0.16" stop-color="#c8442a" stop-opacity="1.00"/><stop offset="0.25" stop-color="#c8442a" stop-opacity="1.00"/><stop offset="0.35" stop-color="#d9664a" stop-opacity="1.00"/><stop offset="0.5" stop-color="#f2a389" stop-opacity="1.00"/><stop offset="0.7" stop-color="#f9d6cb" stop-opacity="0.48"/><stop offset="1.0" stop-color="#fcebe7" stop-opacity="0.18"/></linearGradient><linearGradient id="g1_3" x1="0.5" x2="1" y1="0" y2="0" spreadMethod="reflect"><stop offset="0.0" stop-color="#d2583d" stop-opacity="1.00"/><stop offset="0.08" stop-color="#d35a3f" stop-opacity="1.00"/><stop offset="0.16" stop-color="#d66045" stop-opacity="1.00"/><stop offset="0.25" stop-color="#db6c50" stop-opacity="1.00"/><stop offset="0.35" stop-color="#e37c60" stop-opacity="1.00"/><stop offset="0.5" stop-color="#f0997b" stop-opacity="1.00"/><stop offset="0.7" stop-color="#f5bdab" stop-opacity="0.83"/><stop offset="1.0" stop-color="#fadfd7" stop-opacity="0.35"/></linearGradient><linearGradient id="g1_4" x1="0.5" x2="1" y1="0" y2="0" spreadMethod="reflect"><stop offset="0.0" stop-color="#c8442a" stop-opacity="1.00"/><stop offset="0.08" stop-color="#c8442a" stop-opacity="1.00"/><stop offset="0.16" stop-color="#c8442a" stop-opacity="1.00"/><stop offset="0.25" stop-color="#c8442a" stop-opacity="1.00"/><stop offset="0.35" stop-color="#c8442a" stop-opacity="1.00"/><stop offset="0.5" stop-color="#e07458" stop-opacity="1.00"/><stop offset="0.7" stop-color="#f5b7a3" stop-opacity="0.93"/><stop offset="1.0" stop-color="#fbe4dd" stop-opacity="0.29"/></linearGradient><linearGradient id="g1_5" x1="0.5" x2="1" y1="0" y2="0" spreadMethod="reflect"><stop offset="0.0" stop-color="#e9886a" stop-opacity="1.00"/><stop offset="0.08" stop-color="#eb8b6e" stop-opacity="1.00"/><stop offset="0.16" stop-color="#f09678" stop-opacity="1.00"/><stop offset="0.25" stop-color="#f2a88f" stop-opacity="1.00"/><stop offset="0.35" stop-color="#f5bdab" stop-opacity="0.83"/><stop offset="0.5" stop-color="#f9d7cd" stop-opacity="0.46"/><stop offset="0.7" stop-color="#fbe8e3" stop-opacity="0.22"/><stop offset="1.0" stop-color="#fcede9" stop-opacity="0.15"/></linearGradient><linearGradient id="g1_6" x1="0.5" x2="1" y1="0" y2="0" spreadMethod="reflect"><stop offset="0.0" stop-color="#c8442a" stop-opacity="1.00"/><stop offset="0.08" stop-color="#c8442a" stop-opacity="1.00"/><stop offset="0.16" stop-color="#c8442a" stop-opacity="1.00"/><stop offset="0.25" stop-color="#d05439" stop-opacity="1.00"/><stop offset="0.35" stop-color="#e37c5f" stop-opacity="1.00"/><stop offset="0.5" stop-color="#f4b29c" stop-opacity="1.00"/><stop offset="0.7" stop-color="#fadcd3" stop-opacity="0.40"/><stop offset="1.0" stop-color="#fcece7" stop-opacity="0.17"/></linearGradient><linearGradient id="g1_7" x1="0.5" x2="1" y1="0" y2="0" spreadMethod="reflect"><stop offset="0.0" stop-color="#c8442a" stop-opacity="1.00"/><stop offset="0.08" stop-color="#c8442a" stop-opacity="1.00"/><stop offset="0.16" stop-color="#c8442a" stop-opacity="1.00"/><stop offset="0.25" stop-color="#d2593e" stop-opacity="1.00"/><stop offset="0.35" stop-color="#e2785c" stop-opacity="1.00"/><stop offset="0.5" stop-color="#f2a78e" stop-opacity="1.00"/><stop offset="0.7" stop-color="#f8d3c7" stop-opacity="0.53"/><stop offset="1.0" stop-color="#fceae5" stop-opacity="0.20"/></linearGradient><linearGradient id="g1_8" x1="0.5" x2="1" y1="0" y2="0" spreadMethod="reflect"><stop offset="0.0" stop-color="#c8442a" stop-opacity="1.00"/><stop offset="0.08" stop-color="#c8442a" stop-opacity="1.00"/><stop offset="0.16" stop-color="#c8442a" stop-opacity="1.00"/><stop offset="0.25" stop-color="#d1573c" stop-opacity="1.00"/><stop offset="0.35" stop-color="#de7255" stop-opacity="1.00"/><stop offset="0.5" stop-color="#f19b7f" stop-opacity="1.00"/><stop offset="0.7" stop-color="#f7c8b9" stop-opacity="0.68"/><stop offset="1.0" stop-color="#fbe6e0" stop-opacity="0.25"/></linearGradient><linearGradient id="g1_9" x1="0.5" x2="1" y1="0" y2="0" spreadMethod="reflect"><stop offset="0.0" stop-color="#c8442a" stop-opacity="1.00"/><stop offset="0.08" stop-color="#c8442a" stop-opacity="1.00"/><stop offset="0.16" stop-color="#c8442a" stop-opacity="1.00"/><stop offset="0.25" stop-color="#d35b40" stop-opacity="1.00"/><stop offset="0.35" stop-color="#e47e61" stop-opacity="1.00"/><stop offset="0.5" stop-color="#f4b099" stop-opacity="1.00"/><stop offset="0.7" stop-color="#f9d9cf" stop-opacity="0.43"/><stop offset="1.0" stop-color="#fcebe7" stop-opacity="0.18"/></linearGradient><linearGradient id="g1_10" x1="0.5" x2="1" y1="0" y2="0" spreadMethod="reflect"><stop offset="0.0" stop-color="#c8442a" stop-opacity="1.00"/><stop offset="0.08" stop-color="#c8442a" stop-opacity="1.00"/><stop offset="0.16" stop-color="#c8442a" stop-opacity="1.00"/><stop offset="0.25" stop-color="#c8442a" stop-opacity="1.00"/><stop offset="0.35" stop-color="#d66045" stop-opacity="1.00"/><stop offset="0.5" stop-color="#f19e82" stop-opacity="1.00"/><stop offset="0.7" stop-color="#f8d3c7" stop-opacity="0.52"/><stop offset="1.0" stop-color="#fcebe6" stop-opacity="0.18"/></linearGradient><linearGradient id="g1_11" x1="0.5" x2="1" y1="0" y2="0" spreadMethod="reflect"><stop offset="0.0" stop-color="#d86549" stop-opacity="1.00"/><stop offset="0.08" stop-color="#da694d" stop-opacity="1.00"/><stop offset="0.16" stop-color="#e07559" stop-opacity="1.00"/><stop offset="0.25" stop-color="#ea896c" stop-opacity="1.00"/><stop offset="0.35" stop-color="#f2a389" stop-opacity="1.00"/><stop offset="0.5" stop-color="#f7c7b7" stop-opacity="0.70"/><stop offset="0.7" stop-color="#fae2da" stop-opacity="0.31"/><stop offset="1.0" stop-color="#fcece8" stop-opacity="0.16"/></linearGradient><linearGradient id="g1_12" x1="0.5" x2="1" y1="0" y2="0" spreadMethod="reflect"><stop offset="0.0" stop-color="#c8442a" stop-opacity="1.00"/><stop offset="0.08" stop-color="#c8442a" stop-opacity="1.00"/><stop offset="0.16" stop-color="#c8442a" stop-opacity="1.00"/><stop offset="0.25" stop-color="#c8442a" stop-opacity="1.00"/><stop offset="0.35" stop-color="#d66045" stop-opacity="1.00"/><stop offset="0.5" stop-color="#f09779" stop-opacity="1.00"/><stop offset="0.7" stop-color="#f8cdbf" stop-opacity="0.62"/><stop offset="1.0" stop-color="#fbe9e4" stop-opacity="0.21"/></linearGradient><linearGradient id="g1_13" x1="0.5" x2="1" y1="0" y2="0" spreadMethod="reflect"><stop offset="0.0" stop-color="#c8442a" stop-opacity="1.00"/><stop offset="0.08" stop-color="#c8442a" stop-opacity="1.00"/><stop offset="0.16" stop-color="#c8442a" stop-opacity="1.00"/><stop offset="0.25" stop-color="#da684c" stop-opacity="1.00"/><stop offset="0.35" stop-color="#f19c7f" stop-opacity="1.00"/><stop offset="0.5" stop-color="#f8d2c6" stop-opacity="0.54"/><stop offset="0.7" stop-color="#fceae4" stop-opacity="0.20"/><stop offset="1.0" stop-color="#fcede9" stop-opacity="0.15"/></linearGradient><linearGradient id="g1_14" x1="0.5" x2="1" y1="0" y2="0" spreadMethod="reflect"><stop offset="0.0" stop-color="#e57f62" stop-opacity="1.00"/><stop offset="0.08" stop-color="#e88568" stop-opacity="1.00"/><stop offset="0.16" stop-color="#f09577" stop-opacity="1.00"/><stop offset="0.25" stop-color="#f3af99" stop-opacity="1.00"/><stop offset="0.35" stop-color="#f7cabc" stop-opacity="0.65"/><stop offset="0.5" stop-color="#fbe3db" stop-opacity="0.30"/><stop offset="0.7" stop-color="#fcece8" stop-opacity="0.17"/><stop offset="1.0" stop-color="#fcede9" stop-opacity="0.15"/></linearGradient><linearGradient id="g1_15" x1="0.5" x2="1" y1="0" y2="0" spreadMethod="reflect"><stop offset="0.0" stop-color="#c8442a" stop-opacity="1.00"/><stop offset="0.08" stop-color="#c8442a" stop-opacity="1.00"/><stop offset="0.16" stop-color="#c8442a" stop-opacity="1.00"/><stop offset="0.25" stop-color="#de7256" stop-opacity="1.00"/><stop offset="0.35" stop-color="#f2a88f" stop-opacity="1.00"/><stop offset="0.5" stop-color="#f9dad0" stop-opacity="0.43"/><stop offset="0.7" stop-color="#fcebe7" stop-opacity="0.18"/><stop offset="1.0" stop-color="#fcede9" stop-opacity="0.15"/></linearGradient><linearGradient id="g1_16" x1="0.5" x2="1" y1="0" y2="0" spreadMethod="reflect"><stop offset="0.0" stop-color="#c8442a" stop-opacity="1.00"/><stop offset="0.08" stop-color="#c8442a" stop-opacity="1.00"/><stop offset="0.16" stop-color="#c8442a" stop-opacity="1.00"/><stop offset="0.25" stop-color="#cb4a30" stop-opacity="1.00"/><stop offset="0.35" stop-color="#e37c60" stop-opacity="1.00"/><stop offset="0.5" stop-color="#f5baa7" stop-opacity="0.88"/><stop offset="0.7" stop-color="#fae2db" stop-opacity="0.31"/><stop offset="1.0" stop-color="#fcede8" stop-opacity="0.16"/></linearGradient><linearGradient id="g1_17" x1="0.5" x2="1" y1="0" y2="0" spreadMethod="reflect"><stop offset="0.0" stop-color="#f2a58b" stop-opacity="1.00"/><stop offset="0.08" stop-color="#f3a890" stop-opacity="1.00"/><stop offset="0.16" stop-color="#f4b29c" stop-opacity="1.00"/><stop offset="0.25" stop-color="#f6c0af" stop-opacity="0.79"/><stop offset="0.35" stop-color="#f8d1c5" stop-opacity="0.55"/><stop offset="0.5" stop-color="#fbe3dc" stop-opacity="0.30"/><stop offset="0.7" stop-color="#fcebe7" stop-opacity="0.17"/><stop offset="1.0" stop-color="#fcede9" stop-opacity="0.15"/></linearGradient><linearGradient id="g1_18" x1="0.5" x2="1" y1="0" y2="0" spreadMethod="reflect"><stop offset="0.0" stop-color="#c8442a" stop-opacity="1.00"/><stop offset="0.08" stop-color="#c8442a" stop-opacity="1.00"/><stop offset="0.16" stop-color="#cd4e34" stop-opacity="1.00"/><stop offset="0.25" stop-color="#de7256" stop-opacity="1.00"/><stop offset="0.35" stop-color="#f19b7f" stop-opacity="1.00"/><stop offset="0.5" stop-color="#f7ccbe" stop-opacity="0.62"/><stop offset="0.7" stop-color="#fbe7e1" stop-opacity="0.23"/><stop offset="1.0" stop-color="#fcede9" stop-opacity="0.15"/></linearGradient><linearGradient id="g1_19" x1="0.5" x2="1" y1="0" y2="0" spreadMethod="reflect"><stop offset="0.0" stop-color="#c8442a" stop-opacity="1.00"/><stop offset="0.08" stop-color="#cb4a2f" stop-opacity="1.00"/><stop offset="0.16" stop-color="#d76347" stop-opacity="1.00"/><stop offset="0.25" stop-color="#e9896b" stop-opacity="1.00"/><stop offset="0.35" stop-color="#f4b29d" stop-opacity="1.00"/><stop offset="0.5" stop-color="#f9dad1" stop-opacity="0.42"/><stop offset="0.7" stop-color="#fcebe6" stop-opacity="0.18"/><stop offset="1.0" stop-color="#fcede9" stop-opacity="0.15"/></linearGradient><linearGradient id="g1_20" x1="0.5" x2="1" y1="0" y2="0" spreadMethod="reflect"><stop offset="0.0" stop-color="#d55f44" stop-opacity="1.00"/><stop offset="0.08" stop-color="#d9664b" stop-opacity="1.00"/><stop offset="0.16" stop-color="#e27a5d" stop-opacity="1.00"/><stop offset="0.25" stop-color="#f0987a" stop-opacity="1.00"/><stop offset="0.35" stop-color="#f5baa7" stop-opacity="0.89"/><stop offset="0.5" stop-color="#fadcd3" stop-opacity="0.40"/><stop offset="0.7" stop-color="#fcebe6" stop-opacity="0.18"/><stop offset="1.0" stop-color="#fcede9" stop-opacity="0.15"/></linearGradient><linearGradient id="g1_21" x1="0.5" x2="1" y1="0" y2="0" spreadMethod="reflect"><stop offset="0.0" stop-color="#de7255" stop-opacity="1.00"/><stop offset="0.08" stop-color="#e1775b" stop-opacity="1.00"/><stop offset="0.16" stop-color="#e88669" stop-opacity="1.00"/><stop offset="0.25" stop-color="#f19e82" stop-opacity="1.00"/><stop offset="0.35" stop-color="#f5baa7" stop-opacity="0.88"/><stop offset="0.5" stop-color="#f9d9d0" stop-opacity="0.43"/><stop offset="0.7" stop-color="#fceae5" stop-opacity="0.20"/><stop offset="1.0" stop-color="#fcede9" stop-opacity="0.15"/></linearGradient><linearGradient id="g1_22" x1="0.5" x2="1" y1="0" y2="0" spreadMethod="reflect"><stop offset="0.0" stop-color="#cd4d33" stop-opacity="1.00"/><stop offset="0.08" stop-color="#d0543a" stop-opacity="1.00"/><stop offset="0.16" stop-color="#d9674c" stop-opacity="1.00"/><stop offset="0.25" stop-color="#e88568" stop-opacity="1.00"/><stop offset="0.35" stop-color="#f3a890" stop-opacity="1.00"/><stop offset="0.5" stop-color="#f8d1c5" stop-opacity="0.55"/><stop offset="0.7" stop-color="#fbe8e2" stop-opacity="0.22"/><stop offset="1.0" stop-color="#fcede9" stop-opacity="0.15"/></linearGradient><linearGradient id="g1_23" x1="0.5" x2="1" y1="0" y2="0" spreadMethod="reflect"><stop offset="0.0" stop-color="#e2795d" stop-opacity="1.00"/><stop offset="0.08" stop-color="#e68164" stop-opacity="1.00"/><stop offset="0.16" stop-color="#f09678" stop-opacity="1.00"/><stop offset="0.25" stop-color="#f4b4a0" stop-opacity="0.96"/><stop offset="0.35" stop-color="#f8d1c5" stop-opacity="0.55"/><stop offset="0.5" stop-color="#fbe7e1" stop-opacity="0.24"/><stop offset="0.7" stop-color="#fcede8" stop-opacity="0.16"/><stop offset="1.0" stop-color="#fcede9" stop-opacity="0.15"/></linearGradient><linearGradient id="g1_24" x1="0.5" x2="1" y1="0" y2="0" spreadMethod="reflect"><stop offset="0.0" stop-color="#c8442a" stop-opacity="1.00"/><stop offset="0.08" stop-color="#c8442a" stop-opacity="1.00"/><stop offset="0.16" stop-color="#c8442a" stop-opacity="1.00"/><stop offset="0.25" stop-color="#da6a4e" stop-opacity="1.00"/><stop offset="0.35" stop-color="#f19b7e" stop-opacity="1.00"/><stop offset="0.5" stop-color="#f8d0c3" stop-opacity="0.57"/><stop offset="0.7" stop-color="#fbe9e4" stop-opacity="0.21"/><stop offset="1.0" stop-color="#fcede9" stop-opacity="0.15"/></linearGradient><linearGradient id="g1_25" x1="0.5" x2="1" y1="0" y2="0" spreadMethod="reflect"><stop offset="0.0" stop-color="#ea8b6d" stop-opacity="1.00"/><stop offset="0.08" stop-color="#ed9073" stop-opacity="1.00"/><stop offset="0.16" stop-color="#f1a085" stop-opacity="1.00"/><stop offset="0.25" stop-color="#f5b7a3" stop-opacity="0.92"/><stop offset="0.35" stop-color="#f8cfc2" stop-opacity="0.58"/><stop offset="0.5" stop-color="#fbe5de" stop-opacity="0.27"/><stop offset="0.7" stop-color="#fcece8" stop-opacity="0.16"/><stop offset="1.0" stop-color="#fcede9" stop-opacity="0.15"/></linearGradient><linearGradient id="g1_26" x1="0.5" x2="1" y1="0" y2="0" spreadMethod="reflect"><stop offset="0.0" stop-color="#c8442a" stop-opacity="1.00"/><stop offset="0.08" stop-color="#c9452b" stop-opacity="1.00"/><stop offset="0.16" stop-color="#d76347" stop-opacity="1.00"/><stop offset="0.25" stop-color="#ec8d70" stop-opacity="1.00"/><stop offset="0.35" stop-color="#f5baa6" stop-opacity="0.89"/><stop offset="0.5" stop-color="#fadfd7" stop-opacity="0.34"/><stop offset="0.7" stop-color="#fcece8" stop-opacity="0.17"/><stop offset="1.0" stop-color="#fcede9" stop-opacity="0.15"/></linearGradient><linearGradient id="g1_27" x1="0.5" x2="1" y1="0" y2="0" spreadMethod="reflect"><stop offset="0.0" stop-color="#da684c" stop-opacity="1.00"/><stop offset="0.08" stop-color="#dd6f53" stop-opacity="1.00"/><stop offset="0.16" stop-color="#e68265" stop-opacity="1.00"/><stop offset="0.25" stop-color="#f19f83" stop-opacity="1.00"/><stop offset="0.35" stop-color="#f6bfad" stop-opacity="0.81"/><stop offset="0.5" stop-color="#faded5" stop-opacity="0.37"/><stop offset="0.7" stop-color="#fcebe7" stop-opacity="0.18"/><stop offset="1.0" stop-color="#fcede9" stop-opacity="0.15"/></linearGradient><linearGradient id="g1_28" x1="0.5" x2="1" y1="0" y2="0" spreadMethod="reflect"><stop offset="0.0" stop-color="#d55e43" stop-opacity="1.00"/><stop offset="0.08" stop-color="#d9684c" stop-opacity="1.00"/><stop offset="0.16" stop-color="#e68164" stop-opacity="1.00"/><stop offset="0.25" stop-color="#f2a48b" stop-opacity="1.00"/><stop offset="0.35" stop-color="#f7c8b9" stop-opacity="0.68"/><stop offset="0.5" stop-color="#fbe4dd" stop-opacity="0.28"/><stop offset="0.7" stop-color="#fcece8" stop-opacity="0.16"/><stop offset="1.0" stop-color="#fcede9" stop-opacity="0.15"/></linearGradient><linearGradient id="g1_29" x1="0.5" x2="1" y1="0" y2="0" spreadMethod="reflect"><stop offset="0.0" stop-color="#ed9173" stop-opacity="1.00"/><stop offset="0.08" stop-color="#f0987b" stop-opacity="1.00"/><stop offset="0.16" stop-color="#f3ab94" stop-opacity="1.00"/><stop offset="0.25" stop-color="#f6c5b5" stop-opacity="0.73"/><stop offset="0.35" stop-color="#fadbd2" stop-opacity="0.41"/><stop offset="0.5" stop-color="#fceae5" stop-opacity="0.20"/><stop offset="0.7" stop-color="#fcede9" stop-opacity="0.15"/><stop offset="1.0" stop-color="#fcede9" stop-opacity="0.15"/></linearGradient><linearGradient id="g1_30" x1="0.5" x2="1" y1="0" y2="0" spreadMethod="reflect"><stop offset="0.0" stop-color="#dc6d51" stop-opacity="1.00"/><stop offset="0.08" stop-color="#e1775b" stop-opacity="1.00"/><stop offset="0.16" stop-color="#ed9173" stop-opacity="1.00"/><stop offset="0.25" stop-color="#f4b4a0" stop-opacity="0.96"/><stop offset="0.35" stop-color="#f9d4c8" stop-opacity="0.51"/><stop offset="0.5" stop-color="#fbe8e3" stop-opacity="0.22"/><stop offset="0.7" stop-color="#fcede9" stop-opacity="0.15"/><stop offset="1.0" stop-color="#fcede9" stop-opacity="0.15"/></linearGradient><linearGradient id="g1_31" x1="0.5" x2="1" y1="0" y2="0" spreadMethod="reflect"><stop offset="0.0" stop-color="#df7357" stop-opacity="1.00"/><stop offset="0.08" stop-color="#e37b5e" stop-opacity="1.00"/><stop offset="0.16" stop-color="#ec8e71" stop-opacity="1.00"/><stop offset="0.25" stop-color="#f3ac94" stop-opacity="1.00"/><stop offset="0.35" stop-color="#f7cabb" stop-opacity="0.66"/><stop offset="0.5" stop-color="#fbe4dd" stop-opacity="0.29"/><stop offset="0.7" stop-color="#fcece8" stop-opacity="0.16"/><stop offset="1.0" stop-color="#fcede9" stop-opacity="0.15"/></linearGradient><linearGradient id="g1_32" x1="0.5" x2="1" y1="0" y2="0" spreadMethod="reflect"><stop offset="0.0" stop-color="#d9674c" stop-opacity="1.00"/><stop offset="0.08" stop-color="#de7054" stop-opacity="1.00"/><stop offset="0.16" stop-color="#e9876a" stop-opacity="1.00"/><stop offset="0.25" stop-color="#f3a890" stop-opacity="1.00"/><stop offset="0.35" stop-color="#f7cabb" stop-opacity="0.66"/><stop offset="0.5" stop-color="#fbe4de" stop-opacity="0.27"/><stop offset="0.7" stop-color="#fcece8" stop-opacity="0.16"/><stop offset="1.0" stop-color="#fcede9" stop-opacity="0.15"/></linearGradient><linearGradient id="g1_33" x1="0.5" x2="1" y1="0" y2="0" spreadMethod="reflect"><stop offset="0.0" stop-color="#f5bcaa" stop-opacity="0.85"/><stop offset="0.08" stop-color="#f6c0af" stop-opacity="0.80"/><stop offset="0.16" stop-color="#f7c9bb" stop-opacity="0.66"/><stop offset="0.25" stop-color="#f9d6cc" stop-opacity="0.47"/><stop offset="0.35" stop-color="#fbe2db" stop-opacity="0.30"/><stop offset="0.5" stop-color="#fcebe6" stop-opacity="0.18"/><stop offset="0.7" stop-color="#fcede9" stop-opacity="0.15"/><stop offset="1.0" stop-color="#fcede9" stop-opacity="0.15"/></linearGradient><linearGradient id="g1_34" x1="0.5" x2="1" y1="0" y2="0" spreadMethod="reflect"><stop offset="0.0" stop-color="#f19b7f" stop-opacity="1.00"/><stop offset="0.08" stop-color="#f2a288" stop-opacity="1.00"/><stop offset="0.16" stop-color="#f4b49f" stop-opacity="0.97"/><stop offset="0.25" stop-color="#f7cbbd" stop-opacity="0.64"/><stop offset="0.35" stop-color="#faded6" stop-opacity="0.36"/><stop offset="0.5" stop-color="#fcebe6" stop-opacity="0.19"/><stop offset="0.7" stop-color="#fcede9" stop-opacity="0.15"/><stop offset="1.0" stop-color="#fcede9" stop-opacity="0.15"/></linearGradient><linearGradient id="g1_35" x1="0.5" x2="1" y1="0" y2="0" spreadMethod="reflect"><stop offset="0.0" stop-color="#f0977a" stop-opacity="1.00"/><stop offset="0.08" stop-color="#f19e83" stop-opacity="1.00"/><stop offset="0.16" stop-color="#f4af99" stop-opacity="1.00"/><stop offset="0.25" stop-color="#f7c7b7" stop-opacity="0.70"/><stop offset="0.35" stop-color="#fadbd2" stop-opacity="0.40"/><stop offset="0.5" stop-color="#fceae5" stop-opacity="0.20"/><stop offset="0.7" stop-color="#fcede9" stop-opacity="0.15"/><stop offset="1.0" stop-color="#fcede9" stop-opacity="0.15"/></linearGradient><linearGradient id="g1_36" x1="0.5" x2="1" y1="0" y2="0" spreadMethod="reflect"><stop offset="0.0" stop-color="#f6c5b5" stop-opacity="0.73"/><stop offset="0.08" stop-color="#f7c9ba" stop-opacity="0.67"/><stop offset="0.16" stop-color="#f8d3c7" stop-opacity="0.53"/><stop offset="0.25" stop-color="#faded6" stop-opacity="0.36"/><stop offset="0.35" stop-color="#fbe8e2" stop-opacity="0.23"/><stop offset="0.5" stop-color="#fcece8" stop-opacity="0.16"/><stop offset="0.7" stop-color="#fcede9" stop-opacity="0.15"/><stop offset="1.0" stop-color="#fcede9" stop-opacity="0.15"/></linearGradient><linearGradient id="g1_37" x1="0.5" x2="1" y1="0" y2="0" spreadMethod="reflect"><stop offset="0.0" stop-color="#e58063" stop-opacity="1.00"/><stop offset="0.08" stop-color="#ea8b6d" stop-opacity="1.00"/><stop offset="0.16" stop-color="#f2a48b" stop-opacity="1.00"/><stop offset="0.25" stop-color="#f6c5b5" stop-opacity="0.73"/><stop offset="0.35" stop-color="#faded5" stop-opacity="0.37"/><stop offset="0.5" stop-color="#fcebe6" stop-opacity="0.18"/><stop offset="0.7" stop-color="#fcede9" stop-opacity="0.15"/><stop offset="1.0" stop-color="#fcede9" stop-opacity="0.15"/></linearGradient><linearGradient id="g1_38" x1="0.5" x2="1" y1="0" y2="0" spreadMethod="reflect"><stop offset="0.0" stop-color="#f4b19b" stop-opacity="1.00"/><stop offset="0.08" stop-color="#f4b5a1" stop-opacity="0.95"/><stop offset="0.16" stop-color="#f6c2b1" stop-opacity="0.77"/><stop offset="0.25" stop-color="#f8d2c6" stop-opacity="0.54"/><stop offset="0.35" stop-color="#fae1d9" stop-opacity="0.33"/><stop offset="0.5" stop-color="#fcebe6" stop-opacity="0.18"/><stop offset="0.7" stop-color="#fcede9" stop-opacity="0.15"/><stop offset="1.0" stop-color="#fcede9" stop-opacity="0.15"/></linearGradient><linearGradient id="g1_39" x1="0.5" x2="1" y1="0" y2="0" spreadMethod="reflect"><stop offset="0.0" stop-color="#e27a5d" stop-opacity="1.00"/><stop offset="0.08" stop-color="#e88568" stop-opacity="1.00"/><stop offset="0.16" stop-color="#f2a287" stop-opacity="1.00"/><stop offset="0.25" stop-color="#f6c5b5" stop-opacity="0.73"/><stop offset="0.35" stop-color="#fadfd6" stop-opacity="0.36"/><stop offset="0.5" stop-color="#fcebe7" stop-opacity="0.17"/><stop offset="0.7" stop-color="#fcede9" stop-opacity="0.15"/><stop offset="1.0" stop-color="#fcede9" stop-opacity="0.15"/></linearGradient><linearGradient id="g1_40" x1="0.5" x2="1" y1="0" y2="0" spreadMethod="reflect"><stop offset="0.0" stop-color="#f6c0ae" stop-opacity="0.80"/><stop offset="0.08" stop-color="#f6c4b4" stop-opacity="0.74"/><stop offset="0.16" stop-color="#f8cec0" stop-opacity="0.60"/><stop offset="0.25" stop-color="#f9dbd1" stop-opacity="0.41"/><stop offset="0.35" stop-color="#fbe5df" stop-opacity="0.26"/><stop offset="0.5" stop-color="#fcece7" stop-opacity="0.17"/><stop offset="0.7" stop-color="#fcede9" stop-opacity="0.15"/><stop offset="1.0" stop-color="#fcede9" stop-opacity="0.15"/></linearGradient><linearGradient id="g1_41" x1="0.5" x2="1" y1="0" y2="0" spreadMethod="reflect"><stop offset="0.0" stop-color="#f3a991" stop-opacity="1.00"/><stop offset="0.08" stop-color="#f3af98" stop-opacity="1.00"/><stop offset="0.16" stop-color="#f5bdaa" stop-opacity="0.84"/><stop offset="0.25" stop-color="#f8cfc3" stop-opacity="0.57"/><stop offset="0.35" stop-color="#fae0d8" stop-opacity="0.34"/><stop offset="0.5" stop-color="#fcebe6" stop-opacity="0.19"/><stop offset="0.7" stop-color="#fcede9" stop-opacity="0.15"/><stop offset="1.0" stop-color="#fcede9" stop-opacity="0.15"/></linearGradient><linearGradient id="g1_42" x1="0.5" x2="1" y1="0" y2="0" spreadMethod="reflect"><stop offset="0.0" stop-color="#f3af98" stop-opacity="1.00"/><stop offset="0.08" stop-color="#f4b5a0" stop-opacity="0.96"/><stop offset="0.16" stop-color="#f6c3b2" stop-opacity="0.76"/><stop offset="0.25" stop-color="#f9d5ca" stop-opacity="0.50"/><stop offset="0.35" stop-color="#fbe3dc" stop-opacity="0.29"/><stop offset="0.5" stop-color="#fcece7" stop-opacity="0.17"/><stop offset="0.7" stop-color="#fcede9" stop-opacity="0.15"/><stop offset="1.0" stop-color="#fcede9" stop-opacity="0.15"/></linearGradient><linearGradient id="g1_43" x1="0.5" x2="1" y1="0" y2="0" spreadMethod="reflect"><stop offset="0.0" stop-color="#f2a78e" stop-opacity="1.00"/><stop offset="0.08" stop-color="#f3af98" stop-opacity="1.00"/><stop offset="0.16" stop-color="#f6c1b0" stop-opacity="0.78"/><stop offset="0.25" stop-color="#f9d6cc" stop-opacity="0.47"/><stop offset="0.35" stop-color="#fbe5df" stop-opacity="0.26"/><stop offset="0.5" stop-color="#fcece8" stop-opacity="0.16"/><stop offset="0.7" stop-color="#fcede9" stop-opacity="0.15"/><stop offset="1.0" stop-color="#fcede9" stop-opacity="0.15"/></linearGradient><linearGradient id="g1_44" x1="0.5" x2="1" y1="0" y2="0" spreadMethod="reflect"><stop offset="0.0" stop-color="#f8cec1" stop-opacity="0.60"/><stop offset="0.08" stop-color="#f8d1c5" stop-opacity="0.55"/><stop offset="0.16" stop-color="#f9d9cf" stop-opacity="0.44"/><stop offset="0.25" stop-color="#fbe2db" stop-opacity="0.30"/><stop offset="0.35" stop-color="#fbe9e4" stop-opacity="0.21"/><stop offset="0.5" stop-color="#fcede8" stop-opacity="0.16"/><stop offset="0.7" stop-color="#fcede9" stop-opacity="0.15"/><stop offset="1.0" stop-color="#fcede9" stop-opacity="0.15"/></linearGradient><linearGradient id="g1_45" x1="0.5" x2="1" y1="0" y2="0" spreadMethod="reflect"><stop offset="0.0" stop-color="#f8cfc2" stop-opacity="0.58"/><stop offset="0.08" stop-color="#f8d3c7" stop-opacity="0.53"/><stop offset="0.16" stop-color="#f9dad1" stop-opacity="0.42"/><stop offset="0.25" stop-color="#fbe3dd" stop-opacity="0.29"/><stop offset="0.35" stop-color="#fceae5" stop-opacity="0.20"/><stop offset="0.5" stop-color="#fcede9" stop-opacity="0.15"/><stop offset="0.7" stop-color="#fcede9" stop-opacity="0.15"/><stop offset="1.0" stop-color="#fcede9" stop-opacity="0.15"/></linearGradient><linearGradient id="g1_46" x1="0.5" x2="1" y1="0" y2="0" spreadMethod="reflect"><stop offset="0.0" stop-color="#ee9173" stop-opacity="1.00"/><stop offset="0.08" stop-color="#f0997c" stop-opacity="1.00"/><stop offset="0.16" stop-color="#f3ad96" stop-opacity="1.00"/><stop offset="0.25" stop-color="#f7c8b9" stop-opacity="0.69"/><stop offset="0.35" stop-color="#faddd5" stop-opacity="0.38"/><stop offset="0.5" stop-color="#fcebe6" stop-opacity="0.19"/><stop offset="0.7" stop-color="#fcede9" stop-opacity="0.15"/><stop offset="1.0" stop-color="#fcede9" stop-opacity="0.15"/></linearGradient><linearGradient id="g1_47" x1="0.5" x2="1" y1="0" y2="0" spreadMethod="reflect"><stop offset="0.0" stop-color="#f4b29c" stop-opacity="1.00"/><stop offset="0.08" stop-color="#f5b7a3" stop-opacity="0.93"/><stop offset="0.16" stop-color="#f6c4b4" stop-opacity="0.74"/><stop offset="0.25" stop-color="#f9d5ca" stop-opacity="0.49"/><stop offset="0.35" stop-color="#fbe3dc" stop-opacity="0.29"/><stop offset="0.5" stop-color="#fcebe7" stop-opacity="0.17"/><stop offset="0.7" stop-color="#fcede9" stop-opacity="0.15"/><stop offset="1.0" stop-color="#fcede9" stop-opacity="0.15"/></linearGradient><linearGradient id="g1_48" x1="0.5" x2="1" y1="0" y2="0" spreadMethod="reflect"><stop offset="0.0" stop-color="#f6c3b2" stop-opacity="0.76"/><stop offset="0.08" stop-color="#f7c7b8" stop-opacity="0.70"/><stop offset="0.16" stop-color="#f8d2c5" stop-opacity="0.54"/><stop offset="0.25" stop-color="#faded6" stop-opacity="0.36"/><stop offset="0.35" stop-color="#fbe8e2" stop-opacity="0.23"/><stop offset="0.5" stop-color="#fcece8" stop-opacity="0.16"/><stop offset="0.7" stop-color="#fcede9" stop-opacity="0.15"/><stop offset="1.0" stop-color="#fcede9" stop-opacity="0.15"/></linearGradient><linearGradient id="g1_49" x1="0.5" x2="1" y1="0" y2="0" spreadMethod="reflect"><stop offset="0.0" stop-color="#f19d80" stop-opacity="1.00"/><stop offset="0.08" stop-color="#f2a58b" stop-opacity="1.00"/><stop offset="0.16" stop-color="#f5b8a5" stop-opacity="0.91"/><stop offset="0.25" stop-color="#f8d1c4" stop-opacity="0.56"/><stop offset="0.35" stop-color="#fbe3db" stop-opacity="0.30"/><stop offset="0.5" stop-color="#fcece7" stop-opacity="0.17"/><stop offset="0.7" stop-color="#fcede9" stop-opacity="0.15"/><stop offset="1.0" stop-color="#fcede9" stop-opacity="0.15"/></linearGradient><linearGradient id="g1_50" x1="0.5" x2="1" y1="0" y2="0" spreadMethod="reflect"><stop offset="0.0" stop-color="#f3ab93" stop-opacity="1.00"/><stop offset="0.08" stop-color="#f4b29d" stop-opacity="1.00"/><stop offset="0.16" stop-color="#f6c4b3" stop-opacity="0.75"/><stop offset="0.25" stop-color="#f9d8ce" stop-opacity="0.45"/><stop offset="0.35" stop-color="#fbe6e0" stop-opacity="0.25"/><stop offset="0.5" stop-color="#fcece8" stop-opacity="0.16"/><stop offset="0.7" stop-color="#fcede9" stop-opacity="0.15"/><stop offset="1.0" stop-color="#fcede9" stop-opacity="0.15"/></linearGradient><linearGradient id="g1_51" x1="0.5" x2="1" y1="0" y2="0" spreadMethod="reflect"><stop offset="0.0" stop-color="#f7c8b9" stop-opacity="0.68"/><stop offset="0.08" stop-color="#f7ccbe" stop-opacity="0.62"/><stop offset="0.16" stop-color="#f9d6cb" stop-opacity="0.48"/><stop offset="0.25" stop-color="#fae1d9" stop-opacity="0.32"/><stop offset="0.35" stop-color="#fbe9e4" stop-opacity="0.21"/><stop offset="0.5" stop-color="#fcede8" stop-opacity="0.16"/><stop offset="0.7" stop-color="#fcede9" stop-opacity="0.15"/><stop offset="1.0" stop-color="#fcede9" stop-opacity="0.15"/></linearGradient><linearGradient id="g1_52" x1="0.5" x2="1" y1="0" y2="0" spreadMethod="reflect"><stop offset="0.0" stop-color="#f9d6cb" stop-opacity="0.48"/><stop offset="0.08" stop-color="#f9d9ce" stop-opacity="0.44"/><stop offset="0.16" stop-color="#faded6" stop-opacity="0.36"/><stop offset="0.25" stop-color="#fbe5df" stop-opacity="0.26"/><stop offset="0.35" stop-color="#fceae5" stop-opacity="0.19"/><stop offset="0.5" stop-color="#fcede9" stop-opacity="0.15"/><stop offset="0.7" stop-color="#fcede9" stop-opacity="0.15"/><stop offset="1.0" stop-color="#fcede9" stop-opacity="0.15"/></linearGradient><linearGradient id="g1_53" x1="0.5" x2="1" y1="0" y2="0" spreadMethod="reflect"><stop offset="0.0" stop-color="#f9d8ce" stop-opacity="0.45"/><stop offset="0.08" stop-color="#f9dbd1" stop-opacity="0.41"/><stop offset="0.16" stop-color="#fae0d9" stop-opacity="0.33"/><stop offset="0.25" stop-color="#fbe7e1" stop-opacity="0.24"/><stop offset="0.35" stop-color="#fcebe7" stop-opacity="0.18"/><stop offset="0.5" stop-color="#fcede9" stop-opacity="0.15"/><stop offset="0.7" stop-color="#fcede9" stop-opacity="0.15"/><stop offset="1.0" stop-color="#fcede9" stop-opacity="0.15"/></linearGradient><linearGradient id="g1_54" x1="0.5" x2="1" y1="0" y2="0" spreadMethod="reflect"><stop offset="0.0" stop-color="#f7cbbd" stop-opacity="0.63"/><stop offset="0.08" stop-color="#f8d0c3" stop-opacity="0.57"/><stop offset="0.16" stop-color="#f9d9cf" stop-opacity="0.44"/><stop offset="0.25" stop-color="#fbe4dd" stop-opacity="0.28"/><stop offset="0.35" stop-color="#fceae5" stop-opacity="0.19"/><stop offset="0.5" stop-color="#fcede9" stop-opacity="0.15"/><stop offset="0.7" stop-color="#fcede9" stop-opacity="0.15"/><stop offset="1.0" stop-color="#fcede9" stop-opacity="0.15"/></linearGradient><linearGradient id="g1_55" x1="0.5" x2="1" y1="0" y2="0" spreadMethod="reflect"><stop offset="0.0" stop-color="#f8d4c8" stop-opacity="0.52"/><stop offset="0.08" stop-color="#f9d6cb" stop-opacity="0.48"/><stop offset="0.16" stop-color="#fadcd4" stop-opacity="0.39"/><stop offset="0.25" stop-color="#fbe4de" stop-opacity="0.28"/><stop offset="0.35" stop-color="#fceae5" stop-opacity="0.20"/><stop offset="0.5" stop-color="#fcede9" stop-opacity="0.16"/><stop offset="0.7" stop-color="#fcede9" stop-opacity="0.15"/><stop offset="1.0" stop-color="#fcede9" stop-opacity="0.15"/></linearGradient><linearGradient id="g1_56" x1="0.5" x2="1" y1="0" y2="0" spreadMethod="reflect"><stop offset="0.0" stop-color="#f9dad0" stop-opacity="0.43"/><stop offset="0.08" stop-color="#fadcd3" stop-opacity="0.40"/><stop offset="0.16" stop-color="#fae1da" stop-opacity="0.32"/><stop offset="0.25" stop-color="#fbe7e1" stop-opacity="0.23"/><stop offset="0.35" stop-color="#fcebe7" stop-opacity="0.18"/><stop offset="0.5" stop-color="#fcede9" stop-opacity="0.15"/><stop offset="0.7" stop-color="#fcede9" stop-opacity="0.15"/><stop offset="1.0" stop-color="#fcede9" stop-opacity="0.15"/></linearGradient><linearGradient id="g1_57" x1="0.5" x2="1" y1="0" y2="0" spreadMethod="reflect"><stop offset="0.0" stop-color="#f8cfc2" stop-opacity="0.58"/><stop offset="0.08" stop-color="#f8d2c6" stop-opacity="0.53"/><stop offset="0.16" stop-color="#fadbd2" stop-opacity="0.41"/><stop offset="0.25" stop-color="#fbe4de" stop-opacity="0.27"/><stop offset="0.35" stop-color="#fceae6" stop-opacity="0.19"/><stop offset="0.5" stop-color="#fcede9" stop-opacity="0.15"/><stop offset="0.7" stop-color="#fcede9" stop-opacity="0.15"/><stop offset="1.0" stop-color="#fcede9" stop-opacity="0.15"/></linearGradient><linearGradient id="g1_58" x1="0.5" x2="1" y1="0" y2="0" spreadMethod="reflect"><stop offset="0.0" stop-color="#f8d0c4" stop-opacity="0.56"/><stop offset="0.08" stop-color="#f8d4c8" stop-opacity="0.52"/><stop offset="0.16" stop-color="#fadbd2" stop-opacity="0.41"/><stop offset="0.25" stop-color="#fbe4dd" stop-opacity="0.28"/><stop offset="0.35" stop-color="#fceae5" stop-opacity="0.19"/><stop offset="0.5" stop-color="#fcede9" stop-opacity="0.15"/><stop offset="0.7" stop-color="#fcede9" stop-opacity="0.15"/><stop offset="1.0" stop-color="#fcede9" stop-opacity="0.15"/></linearGradient><linearGradient id="g1_59" x1="0.5" x2="1" y1="0" y2="0" spreadMethod="reflect"><stop offset="0.0" stop-color="#f5bdaa" stop-opacity="0.84"/><stop offset="0.08" stop-color="#f6c2b1" stop-opacity="0.77"/><stop offset="0.16" stop-color="#f8cfc2" stop-opacity="0.58"/><stop offset="0.25" stop-color="#faded5" stop-opacity="0.37"/><stop offset="0.35" stop-color="#fbe8e2" stop-opacity="0.22"/><stop offset="0.5" stop-color="#fcede8" stop-opacity="0.16"/><stop offset="0.7" stop-color="#fcede9" stop-opacity="0.15"/><stop offset="1.0" stop-color="#fcede9" stop-opacity="0.15"/></linearGradient><linearGradient id="g1_60" x1="0.5" x2="1" y1="0" y2="0" spreadMethod="reflect"><stop offset="0.0" stop-color="#fadcd3" stop-opacity="0.39"/><stop offset="0.08" stop-color="#faded6" stop-opacity="0.36"/><stop offset="0.16" stop-color="#fbe3dc" stop-opacity="0.29"/><stop offset="0.25" stop-color="#fbe9e3" stop-opacity="0.21"/><stop offset="0.35" stop-color="#fcece7" stop-opacity="0.17"/><stop offset="0.5" stop-color="#fcede9" stop-opacity="0.15"/><stop offset="0.7" stop-color="#fcede9" stop-opacity="0.15"/><stop offset="1.0" stop-color="#fcede9" stop-opacity="0.15"/></linearGradient><linearGradient id="g1_61" x1="0.5" x2="1" y1="0" y2="0" spreadMethod="reflect"><stop offset="0.0" stop-color="#f9d7cd" stop-opacity="0.46"/><stop offset="0.08" stop-color="#f9dad0" stop-opacity="0.43"/><stop offset="0.16" stop-color="#fae0d8" stop-opacity="0.34"/><stop offset="0.25" stop-color="#fbe6e0" stop-opacity="0.25"/><stop offset="0.35" stop-color="#fcebe6" stop-opacity="0.18"/><stop offset="0.5" stop-color="#fcede9" stop-opacity="0.15"/><stop offset="0.7" stop-color="#fcede9" stop-opacity="0.15"/><stop offset="1.0" stop-color="#fcede9" stop-opacity="0.15"/></linearGradient><linearGradient id="g1_62" x1="0.5" x2="1" y1="0" y2="0" spreadMethod="reflect"><stop offset="0.0" stop-color="#f9d6cc" stop-opacity="0.48"/><stop offset="0.08" stop-color="#f9d9cf" stop-opacity="0.44"/><stop offset="0.16" stop-color="#fadfd7" stop-opacity="0.35"/><stop offset="0.25" stop-color="#fbe6e0" stop-opacity="0.25"/><stop offset="0.35" stop-color="#fcebe6" stop-opacity="0.18"/><stop offset="0.5" stop-color="#fcede9" stop-opacity="0.15"/><stop offset="0.7" stop-color="#fcede9" stop-opacity="0.15"/><stop offset="1.0" stop-color="#fcede9" stop-opacity="0.15"/></linearGradient><linearGradient id="g1_63" x1="0.5" x2="1" y1="0" y2="0" spreadMethod="reflect"><stop offset="0.0" stop-color="#f8cdbf" stop-opacity="0.61"/><stop offset="0.08" stop-color="#f8d1c4" stop-opacity="0.56"/><stop offset="0.16" stop-color="#f9dad1" stop-opacity="0.42"/><stop offset="0.25" stop-color="#fbe5de" stop-opacity="0.27"/><stop offset="0.35" stop-color="#fcebe6" stop-opacity="0.18"/><stop offset="0.5" stop-color="#fcede9" stop-opacity="0.15"/><stop offset="0.7" stop-color="#fcede9" stop-opacity="0.15"/><stop offset="1.0" stop-color="#fcede9" stop-opacity="0.15"/></linearGradient><linearGradient id="g1_64" x1="0.5" x2="1" y1="0" y2="0" spreadMethod="reflect"><stop offset="0.0" stop-color="#fae1d9" stop-opacity="0.33"/><stop offset="0.08" stop-color="#fbe2db" stop-opacity="0.31"/><stop offset="0.16" stop-color="#fbe6df" stop-opacity="0.26"/><stop offset="0.25" stop-color="#fceae5" stop-opacity="0.20"/><stop offset="0.35" stop-color="#fcece8" stop-opacity="0.16"/><stop offset="0.5" stop-color="#fcede9" stop-opacity="0.15"/><stop offset="0.7" stop-color="#fcede9" stop-opacity="0.15"/><stop offset="1.0" stop-color="#fcede9" stop-opacity="0.15"/></linearGradient><linearGradient id="g1_65" x1="0.5" x2="1" y1="0" y2="0" spreadMethod="reflect"><stop offset="0.0" stop-color="#f8d2c6" stop-opacity="0.53"/><stop offset="0.08" stop-color="#f9d5ca" stop-opacity="0.49"/><stop offset="0.16" stop-color="#faddd4" stop-opacity="0.38"/><stop offset="0.25" stop-color="#fbe5df" stop-opacity="0.26"/><stop offset="0.35" stop-color="#fceae6" stop-opacity="0.19"/><stop offset="0.5" stop-color="#fcede9" stop-opacity="0.15"/><stop offset="0.7" stop-color="#fcede9" stop-opacity="0.15"/><stop offset="1.0" stop-color="#fcede9" stop-opacity="0.15"/></linearGradient><linearGradient id="g1_66" x1="0.5" x2="1" y1="0" y2="0" spreadMethod="reflect"><stop offset="0.0" stop-color="#fbe2db" stop-opacity="0.31"/><stop offset="0.08" stop-color="#fbe4dd" stop-opacity="0.29"/><stop offset="0.16" stop-color="#fbe7e1" stop-opacity="0.24"/><stop offset="0.25" stop-color="#fceae5" stop-opacity="0.19"/><stop offset="0.35" stop-color="#fcece8" stop-opacity="0.16"/><stop offset="0.5" stop-color="#fcede9" stop-opacity="0.15"/><stop offset="0.7" stop-color="#fcede9" stop-opacity="0.15"/><stop offset="1.0" stop-color="#fcede9" stop-opacity="0.15"/></linearGradient><linearGradient id="g1_67" x1="0.5" x2="1" y1="0" y2="0" spreadMethod="reflect"><stop offset="0.0" stop-color="#f9d5ca" stop-opacity="0.49"/><stop offset="0.08" stop-color="#f9d8ce" stop-opacity="0.45"/><stop offset="0.16" stop-color="#fadfd6" stop-opacity="0.36"/><stop offset="0.25" stop-color="#fbe6e0" stop-opacity="0.25"/><stop offset="0.35" stop-color="#fcebe6" stop-opacity="0.18"/><stop offset="0.5" stop-color="#fcede9" stop-opacity="0.15"/><stop offset="0.7" stop-color="#fcede9" stop-opacity="0.15"/><stop offset="1.0" stop-color="#fcede9" stop-opacity="0.15"/></linearGradient><linearGradient id="g1_68" x1="0.5" x2="1" y1="0" y2="0" spreadMethod="reflect"><stop offset="0.0" stop-color="#fadbd2" stop-opacity="0.41"/><stop offset="0.08" stop-color="#faddd5" stop-opacity="0.37"/><stop offset="0.16" stop-color="#fbe3db" stop-opacity="0.30"/><stop offset="0.25" stop-color="#fbe8e3" stop-opacity="0.22"/><stop offset="0.35" stop-color="#fcece7" stop-opacity="0.17"/><stop offset="0.5" stop-color="#fcede9" stop-opacity="0.15"/><stop offset="0.7" stop-color="#fcede9" stop-opacity="0.15"/><stop offset="1.0" stop-color="#fcede9" stop-opacity="0.15"/></linearGradient><linearGradient id="g1_69" x1="0.5" x2="1" y1="0" y2="0" spreadMethod="reflect"><stop offset="0.0" stop-color="#fadfd7" stop-opacity="0.35"/><stop offset="0.08" stop-color="#fae1d9" stop-opacity="0.32"/><stop offset="0.16" stop-color="#fbe5df" stop-opacity="0.26"/><stop offset="0.25" stop-color="#fbe9e4" stop-opacity="0.20"/><stop offset="0.35" stop-color="#fcece8" stop-opacity="0.16"/><stop offset="0.5" stop-color="#fcede9" stop-opacity="0.15"/><stop offset="0.7" stop-color="#fcede9" stop-opacity="0.15"/><stop offset="1.0" stop-color="#fcede9" stop-opacity="0.15"/></linearGradient><linearGradient id="g1_70" x1="0.5" x2="1" y1="0" y2="0" spreadMethod="reflect"><stop offset="0.0" stop-color="#fadcd2" stop-opacity="0.40"/><stop offset="0.08" stop-color="#faded5" stop-opacity="0.37"/><stop offset="0.16" stop-color="#fbe3dc" stop-opacity="0.30"/><stop offset="0.25" stop-color="#fbe8e3" stop-opacity="0.22"/><stop offset="0.35" stop-color="#fcece7" stop-opacity="0.17"/><stop offset="0.5" stop-color="#fcede9" stop-opacity="0.15"/><stop offset="0.7" stop-color="#fcede9" stop-opacity="0.15"/><stop offset="1.0" stop-color="#fcede9" stop-opacity="0.15"/></linearGradient><linearGradient id="g1_71" x1="0.5" x2="1" y1="0" y2="0" spreadMethod="reflect"><stop offset="0.0" stop-color="#fae1d9" stop-opacity="0.33"/><stop offset="0.08" stop-color="#fbe2db" stop-opacity="0.31"/><stop offset="0.16" stop-color="#fbe6e0" stop-opacity="0.25"/><stop offset="0.25" stop-color="#fceae5" stop-opacity="0.20"/><stop offset="0.35" stop-color="#fcece8" stop-opacity="0.16"/><stop offset="0.5" stop-color="#fcede9" stop-opacity="0.15"/><stop offset="0.7" stop-color="#fcede9" stop-opacity="0.15"/><stop offset="1.0" stop-color="#fcede9" stop-opacity="0.15"/></linearGradient><linearGradient id="g1_72" x1="0.5" x2="1" y1="0" y2="0" spreadMethod="reflect"><stop offset="0.0" stop-color="#f9dad0" stop-opacity="0.43"/><stop offset="0.08" stop-color="#fadcd3" stop-opacity="0.39"/><stop offset="0.16" stop-color="#fae2db" stop-opacity="0.31"/><stop offset="0.25" stop-color="#fbe8e3" stop-opacity="0.22"/><stop offset="0.35" stop-color="#fcece7" stop-opacity="0.17"/><stop offset="0.5" stop-color="#fcede9" stop-opacity="0.15"/><stop offset="0.7" stop-color="#fcede9" stop-opacity="0.15"/><stop offset="1.0" stop-color="#fcede9" stop-opacity="0.15"/></linearGradient><linearGradient id="g1_73" x1="0.5" x2="1" y1="0" y2="0" spreadMethod="reflect"><stop offset="0.0" stop-color="#fbe4dd" stop-opacity="0.28"/><stop offset="0.08" stop-color="#fbe5df" stop-opacity="0.26"/><stop offset="0.16" stop-color="#fbe8e2" stop-opacity="0.22"/><stop offset="0.25" stop-color="#fcebe6" stop-opacity="0.18"/><stop offset="0.35" stop-color="#fcece8" stop-opacity="0.16"/><stop offset="0.5" stop-color="#fcede9" stop-opacity="0.15"/><stop offset="0.7" stop-color="#fcede9" stop-opacity="0.15"/><stop offset="1.0" stop-color="#fcede9" stop-opacity="0.15"/></linearGradient><linearGradient id="g1_74" x1="0.5" x2="1" y1="0" y2="0" spreadMethod="reflect"><stop offset="0.0" stop-color="#fae1d9" stop-opacity="0.33"/><stop offset="0.08" stop-color="#fbe2db" stop-opacity="0.31"/><stop offset="0.16" stop-color="#fbe6e0" stop-opacity="0.25"/><stop offset="0.25" stop-color="#fceae5" stop-opacity="0.20"/><stop offset="0.35" stop-color="#fcece8" stop-opacity="0.16"/><stop offset="0.5" stop-color="#fcede9" stop-opacity="0.15"/><stop offset="0.7" stop-color="#fcede9" stop-opacity="0.15"/><stop offset="1.0" stop-color="#fcede9" stop-opacity="0.15"/></linearGradient><linearGradient id="g2_0" x1="0.5" x2="1" y1="0" y2="0" spreadMethod="reflect"><stop offset="0.0" stop-color="#c8442a" stop-opacity="1.00"/><stop offset="0.08" stop-color="#c8442a" stop-opacity="1.00"/><stop offset="0.16" stop-color="#c8442a" stop-opacity="1.00"/><stop offset="0.25" stop-color="#cc4c32" stop-opacity="1.00"/><stop offset="0.35" stop-color="#d66146" stop-opacity="1.00"/><stop offset="0.5" stop-color="#e78467" stop-opacity="1.00"/><stop offset="0.7" stop-color="#f4b19b" stop-opacity="1.00"/><stop offset="1.0" stop-color="#fadbd2" stop-opacity="0.41"/></linearGradient><linearGradient id="g2_1" x1="0.5" x2="1" y1="0" y2="0" spreadMethod="reflect"><stop offset="0.0" stop-color="#c8442a" stop-opacity="1.00"/><stop offset="0.08" stop-color="#c8442a" stop-opacity="1.00"/><stop offset="0.16" stop-color="#c8442a" stop-opacity="1.00"/><stop offset="0.25" stop-color="#cc4c32" stop-opacity="1.00"/><stop offset="0.35" stop-color="#d66146" stop-opacity="1.00"/><stop offset="0.5" stop-color="#e78467" stop-opacity="1.00"/><stop offset="0.7" stop-color="#f4b19b" stop-opacity="1.00"/><stop offset="1.0" stop-color="#fadbd2" stop-opacity="0.41"/></linearGradient><linearGradient id="g2_2" x1="0.5" x2="1" y1="0" y2="0" spreadMethod="reflect"><stop offset="0.0" stop-color="#c8442a" stop-opacity="1.00"/><stop offset="0.08" stop-color="#c8442a" stop-opacity="1.00"/><stop offset="0.16" stop-color="#c8442a" stop-opacity="1.00"/><stop offset="0.25" stop-color="#cc4c32" stop-opacity="1.00"/><stop offset="0.35" stop-color="#d66146" stop-opacity="1.00"/><stop offset="0.5" stop-color="#e78467" stop-opacity="1.00"/><stop offset="0.7" stop-color="#f4b19b" stop-opacity="1.00"/><stop offset="1.0" stop-color="#fadbd2" stop-opacity="0.41"/></linearGradient><linearGradient id="g2_3" x1="0.5" x2="1" y1="0" y2="0" spreadMethod="reflect"><stop offset="0.0" stop-color="#d66045" stop-opacity="1.00"/><stop offset="0.08" stop-color="#d76348" stop-opacity="1.00"/><stop offset="0.16" stop-color="#dc6d51" stop-opacity="1.00"/><stop offset="0.25" stop-color="#e47d61" stop-opacity="1.00"/><stop offset="0.35" stop-color="#ef9476" stop-opacity="1.00"/><stop offset="0.5" stop-color="#f5b7a3" stop-opacity="0.93"/><stop offset="0.7" stop-color="#f9d8cd" stop-opacity="0.45"/><stop offset="1.0" stop-color="#fceae5" stop-opacity="0.19"/></linearGradient><linearGradient id="g2_4" x1="0.5" x2="1" y1="0" y2="0" spreadMethod="reflect"><stop offset="0.0" stop-color="#d9684c" stop-opacity="1.00"/><stop offset="0.08" stop-color="#db6b4f" stop-opacity="1.00"/><stop offset="0.16" stop-color="#e07559" stop-opacity="1.00"/><stop offset="0.25" stop-color="#e98769" stop-opacity="1.00"/><stop offset="0.35" stop-color="#f19e82" stop-opacity="1.00"/><stop offset="0.5" stop-color="#f6c0ae" stop-opacity="0.80"/><stop offset="0.7" stop-color="#faddd5" stop-opacity="0.37"/><stop offset="1.0" stop-color="#fcebe7" stop-opacity="0.17"/></linearGradient><linearGradient id="g2_5" x1="0.5" x2="1" y1="0" y2="0" spreadMethod="reflect"><stop offset="0.0" stop-color="#c8442a" stop-opacity="1.00"/><stop offset="0.08" stop-color="#c8442a" stop-opacity="1.00"/><stop offset="0.16" stop-color="#cb4a2f" stop-opacity="1.00"/><stop offset="0.25" stop-color="#d55f44" stop-opacity="1.00"/><stop offset="0.35" stop-color="#e37c5f" stop-opacity="1.00"/><stop offset="0.5" stop-color="#f2a78e" stop-opacity="1.00"/><stop offset="0.7" stop-color="#f8d2c6" stop-opacity="0.54"/><stop offset="1.0" stop-color="#fbe9e4" stop-opacity="0.20"/></linearGradient><linearGradient id="g2_6" x1="0.5" x2="1" y1="0" y2="0" spreadMethod="reflect"><stop offset="0.0" stop-color="#c8442a" stop-opacity="1.00"/><stop offset="0.08" stop-color="#c8442a" stop-opacity="1.00"/><stop offset="0.16" stop-color="#c8442a" stop-opacity="1.00"/><stop offset="0.25" stop-color="#d86449" stop-opacity="1.00"/><stop offset="0.35" stop-color="#ed9173" stop-opacity="1.00"/><stop offset="0.5" stop-color="#f7c6b6" stop-opacity="0.71"/><stop offset="0.7" stop-color="#fbe5df" stop-opacity="0.26"/><stop offset="1.0" stop-color="#fcede9" stop-opacity="0.15"/></linearGradient><linearGradient id="g2_7" x1="0.5" x2="1" y1="0" y2="0" spreadMethod="reflect"><stop offset="0.0" stop-color="#c8442a" stop-opacity="1.00"/><stop offset="0.08" stop-color="#c8442a" stop-opacity="1.00"/><stop offset="0.16" stop-color="#c8442a" stop-opacity="1.00"/><stop offset="0.25" stop-color="#c8442a" stop-opacity="1.00"/><stop offset="0.35" stop-color="#d8664a" stop-opacity="1.00"/><stop offset="0.5" stop-color="#f3ac94" stop-opacity="1.00"/><stop offset="0.7" stop-color="#faddd4" stop-opacity="0.38"/><stop offset="1.0" stop-color="#fcece8" stop-opacity="0.16"/></linearGradient><linearGradient id="g2_8" x1="0.5" x2="1" y1="0" y2="0" spreadMethod="reflect"><stop offset="0.0" stop-color="#e78466" stop-opacity="1.00"/><stop offset="0.08" stop-color="#ea896c" stop-opacity="1.00"/><stop offset="0.16" stop-color="#f0997c" stop-opacity="1.00"/><stop offset="0.25" stop-color="#f4b19b" stop-opacity="1.00"/><stop offset="0.35" stop-color="#f7cbbc" stop-opacity="0.64"/><stop offset="0.5" stop-color="#fbe2db" stop-opacity="0.30"/><stop offset="0.7" stop-color="#fcece7" stop-opacity="0.17"/><stop offset="1.0" stop-color="#fcede9" stop-opacity="0.15"/></linearGradient><linearGradient id="g2_9" x1="0.5" x2="1" y1="0" y2="0" spreadMethod="reflect"><stop offset="0.0" stop-color="#de7255" stop-opacity="1.00"/><stop offset="0.08" stop-color="#e2795c" stop-opacity="1.00"/><stop offset="0.16" stop-color="#eb8d6f" stop-opacity="1.00"/><stop offset="0.25" stop-color="#f3aa92" stop-opacity="1.00"/><stop offset="0.35" stop-color="#f7c8b9" stop-opacity="0.68"/><stop offset="0.5" stop-color="#fbe3dc" stop-opacity="0.30"/><stop offset="0.7" stop-color="#fcece8" stop-opacity="0.16"/><stop offset="1.0" stop-color="#fcede9" stop-opacity="0.15"/></linearGradient><linearGradient id="g2_10" x1="0.5" x2="1" y1="0" y2="0" spreadMethod="reflect"><stop offset="0.0" stop-color="#c8442a" stop-opacity="1.00"/><stop offset="0.08" stop-color="#c8442a" stop-opacity="1.00"/><stop offset="0.16" stop-color="#c8442a" stop-opacity="1.00"/><stop offset="0.25" stop-color="#cf5338" stop-opacity="1.00"/><stop offset="0.35" stop-color="#e47e61" stop-opacity="1.00"/><stop offset="0.5" stop-color="#f4b6a1" stop-opacity="0.94"/><stop offset="0.7" stop-color="#fadfd6" stop-opacity="0.35"/><stop offset="1.0" stop-color="#fcece8" stop-opacity="0.16"/></linearGradient><linearGradient id="g2_11" x1="0.5" x2="1" y1="0" y2="0" spreadMethod="reflect"><stop offset="0.0" stop-color="#c8442a" stop-opacity="1.00"/><stop offset="0.08" stop-color="#c8442a" stop-opacity="1.00"/><stop offset="0.16" stop-color="#c8442a" stop-opacity="1.00"/><stop offset="0.25" stop-color="#de7255" stop-opacity="1.00"/><stop offset="0.35" stop-color="#f2a58c" stop-opacity="1.00"/><stop offset="0.5" stop-color="#f9d7cc" stop-opacity="0.47"/><stop offset="0.7" stop-color="#fcebe6" stop-opacity="0.18"/><stop offset="1.0" stop-color="#fcede9" stop-opacity="0.15"/></linearGradient><linearGradient id="g2_12" x1="0.5" x2="1" y1="0" y2="0" spreadMethod="reflect"><stop offset="0.0" stop-color="#d66146" stop-opacity="1.00"/><stop offset="0.08" stop-color="#db6a4e" stop-opacity="1.00"/><stop offset="0.16" stop-color="#e68164" stop-opacity="1.00"/><stop offset="0.25" stop-color="#f2a389" stop-opacity="1.00"/><stop offset="0.35" stop-color="#f7c6b6" stop-opacity="0.71"/><stop offset="0.5" stop-color="#fbe3dc" stop-opacity="0.30"/><stop offset="0.7" stop-color="#fcece8" stop-opacity="0.16"/><stop offset="1.0" stop-color="#fcede9" stop-opacity="0.15"/></linearGradient><linearGradient id="g2_13" x1="0.5" x2="1" y1="0" y2="0" spreadMethod="reflect"><stop offset="0.0" stop-color="#c8442a" stop-opacity="1.00"/><stop offset="0.08" stop-color="#c8442a" stop-opacity="1.00"/><stop offset="0.16" stop-color="#c8442a" stop-opacity="1.00"/><stop offset="0.25" stop-color="#dc6c50" stop-opacity="1.00"/><stop offset="0.35" stop-color="#f2a186" stop-opacity="1.00"/><stop offset="0.5" stop-color="#f9d5ca" stop-opacity="0.49"/><stop offset="0.7" stop-color="#fceae6" stop-opacity="0.19"/><stop offset="1.0" stop-color="#fcede9" stop-opacity="0.15"/></linearGradient><linearGradient id="g2_14" x1="0.5" x2="1" y1="0" y2="0" spreadMethod="reflect"><stop offset="0.0" stop-color="#c8442a" stop-opacity="1.00"/><stop offset="0.08" stop-color="#c8442a" stop-opacity="1.00"/><stop offset="0.16" stop-color="#c9452b" stop-opacity="1.00"/><stop offset="0.25" stop-color="#e78366" stop-opacity="1.00"/><stop offset="0.35" stop-color="#f5bba8" stop-opacity="0.87"/><stop offset="0.5" stop-color="#fbe3dc" stop-opacity="0.29"/><stop offset="0.7" stop-color="#fcede8" stop-opacity="0.16"/><stop offset="1.0" stop-color="#fcede9" stop-opacity="0.15"/></linearGradient><linearGradient id="g2_15" x1="0.5" x2="1" y1="0" y2="0" spreadMethod="reflect"><stop offset="0.0" stop-color="#c8442a" stop-opacity="1.00"/><stop offset="0.08" stop-color="#c8442a" stop-opacity="1.00"/><stop offset="0.16" stop-color="#d0553b" stop-opacity="1.00"/><stop offset="0.25" stop-color="#e78366" stop-opacity="1.00"/><stop offset="0.35" stop-color="#f4b29c" stop-opacity="1.00"/><stop offset="0.5" stop-color="#faddd4" stop-opacity="0.39"/><stop offset="0.7" stop-color="#fcece7" stop-opacity="0.17"/><stop offset="1.0" stop-color="#fcede9" stop-opacity="0.15"/></linearGradient><linearGradient id="g2_16" x1="0.5" x2="1" y1="0" y2="0" spreadMethod="reflect"><stop offset="0.0" stop-color="#c8442a" stop-opacity="1.00"/><stop offset="0.08" stop-color="#c8442a" stop-opacity="1.00"/><stop offset="0.16" stop-color="#d66146" stop-opacity="1.00"/><stop offset="0.25" stop-color="#ec8e70" stop-opacity="1.00"/><stop offset="0.35" stop-color="#f5bba9" stop-opacity="0.86"/><stop offset="0.5" stop-color="#fae1d9" stop-opacity="0.33"/><stop offset="0.7" stop-color="#fcece8" stop-opacity="0.16"/><stop offset="1.0" stop-color="#fcede9" stop-opacity="0.15"/></linearGradient><linearGradient id="g2_17" x1="0.5" x2="1" y1="0" y2="0" spreadMethod="reflect"><stop offset="0.0" stop-color="#c8442a" stop-opacity="1.00"/><stop offset="0.08" stop-color="#c8442a" stop-opacity="1.00"/><stop offset="0.16" stop-color="#d66044" stop-opacity="1.00"/><stop offset="0.25" stop-color="#ea8a6c" stop-opacity="1.00"/><stop offset="0.35" stop-color="#f4b6a1" stop-opacity="0.94"/><stop offset="0.5" stop-color="#faddd5" stop-opacity="0.37"/><stop offset="0.7" stop-color="#fcece7" stop-opacity="0.17"/><stop offset="1.0" stop-color="#fcede9" stop-opacity="0.15"/></linearGradient><linearGradient id="g2_18" x1="0.5" x2="1" y1="0" y2="0" spreadMethod="reflect"><stop offset="0.0" stop-color="#c8442a" stop-opacity="1.00"/><stop offset="0.08" stop-color="#c8442a" stop-opacity="1.00"/><stop offset="0.16" stop-color="#da6a4e" stop-opacity="1.00"/><stop offset="0.25" stop-color="#f2a88f" stop-opacity="1.00"/><stop offset="0.35" stop-color="#f9d5ca" stop-opacity="0.49"/><stop offset="0.5" stop-color="#fcebe6" stop-opacity="0.18"/><stop offset="0.7" stop-color="#fcede9" stop-opacity="0.15"/><stop offset="1.0" stop-color="#fcede9" stop-opacity="0.15"/></linearGradient><linearGradient id="g2_19" x1="0.5" x2="1" y1="0" y2="0" spreadMethod="reflect"><stop offset="0.0" stop-color="#d0553a" stop-opacity="1.00"/><stop offset="0.08" stop-color="#d66145" stop-opacity="1.00"/><stop offset="0.16" stop-color="#e47e61" stop-opacity="1.00"/><stop offset="0.25" stop-color="#f2a68d" stop-opacity="1.00"/><stop offset="0.35" stop-color="#f7ccbe" stop-opacity="0.63"/><stop offset="0.5" stop-color="#fbe6e0" stop-opacity="0.25"/><stop offset="0.7" stop-color="#fcede9" stop-opacity="0.15"/><stop offset="1.0" stop-color="#fcede9" stop-opacity="0.15"/></linearGradient><linearGradient id="g2_20" x1="0.5" x2="1" y1="0" y2="0" spreadMethod="reflect"><stop offset="0.0" stop-color="#d86448" stop-opacity="1.00"/><stop offset="0.08" stop-color="#dd6f53" stop-opacity="1.00"/><stop offset="0.16" stop-color="#ea8a6d" stop-opacity="1.00"/><stop offset="0.25" stop-color="#f4b09a" stop-opacity="1.00"/><stop offset="0.35" stop-color="#f8d2c6" stop-opacity="0.54"/><stop offset="0.5" stop-color="#fbe8e3" stop-opacity="0.22"/><stop offset="0.7" stop-color="#fcede9" stop-opacity="0.15"/><stop offset="1.0" stop-color="#fcede9" stop-opacity="0.15"/></linearGradient><linearGradient id="g2_21" x1="0.5" x2="1" y1="0" y2="0" spreadMethod="reflect"><stop offset="0.0" stop-color="#c8442a" stop-opacity="1.00"/><stop offset="0.08" stop-color="#c9462c" stop-opacity="1.00"/><stop offset="0.16" stop-color="#dc6d51" stop-opacity="1.00"/><stop offset="0.25" stop-color="#f1a085" stop-opacity="1.00"/><stop offset="0.35" stop-color="#f8cdbf" stop-opacity="0.61"/><stop offset="0.5" stop-color="#fbe8e2" stop-opacity="0.22"/><stop offset="0.7" stop-color="#fcede9" stop-opacity="0.15"/><stop offset="1.0" stop-color="#fcede9" stop-opacity="0.15"/></linearGradient><linearGradient id="g2_22" x1="0.5" x2="1" y1="0" y2="0" spreadMethod="reflect"><stop offset="0.0" stop-color="#e37b5e" stop-opacity="1.00"/><stop offset="0.08" stop-color="#e88568" stop-opacity="1.00"/><stop offset="0.16" stop-color="#f19f84" stop-opacity="1.00"/><stop offset="0.25" stop-color="#f6c1b0" stop-opacity="0.78"/><stop offset="0.35" stop-color="#fadcd3" stop-opacity="0.40"/><stop offset="0.5" stop-color="#fcebe6" stop-opacity="0.18"/><stop offset="0.7" stop-color="#fcede9" stop-opacity="0.15"/><stop offset="1.0" stop-color="#fcede9" stop-opacity="0.15"/></linearGradient><linearGradient id="g2_23" x1="0.5" x2="1" y1="0" y2="0" spreadMethod="reflect"><stop offset="0.0" stop-color="#c8442a" stop-opacity="1.00"/><stop offset="0.08" stop-color="#cc4d32" stop-opacity="1.00"/><stop offset="0.16" stop-color="#e37b5e" stop-opacity="1.00"/><stop offset="0.25" stop-color="#f4b29c" stop-opacity="1.00"/><stop offset="0.35" stop-color="#f9d9cf" stop-opacity="0.44"/><stop offset="0.5" stop-color="#fcebe6" stop-opacity="0.18"/><stop offset="0.7" stop-color="#fcede9" stop-opacity="0.15"/><stop offset="1.0" stop-color="#fcede9" stop-opacity="0.15"/></linearGradient><linearGradient id="g2_24" x1="0.5" x2="1" y1="0" y2="0" spreadMethod="reflect"><stop offset="0.0" stop-color="#f2a68d" stop-opacity="1.00"/><stop offset="0.08" stop-color="#f3ac95" stop-opacity="1.00"/><stop offset="0.16" stop-color="#f5bca9" stop-opacity="0.85"/><stop offset="0.25" stop-color="#f8d0c4" stop-opacity="0.56"/><stop offset="0.35" stop-color="#fae1d9" stop-opacity="0.32"/><stop offset="0.5" stop-color="#fcebe7" stop-opacity="0.18"/><stop offset="0.7" stop-color="#fcede9" stop-opacity="0.15"/><stop offset="1.0" stop-color="#fcede9" stop-opacity="0.15"/></linearGradient><linearGradient id="g2_25" x1="0.5" x2="1" y1="0" y2="0" spreadMethod="reflect"><stop offset="0.0" stop-color="#d8654a" stop-opacity="1.00"/><stop offset="0.08" stop-color="#de7256" stop-opacity="1.00"/><stop offset="0.16" stop-color="#ee9173" stop-opacity="1.00"/><stop offset="0.25" stop-color="#f5baa6" stop-opacity="0.89"/><stop offset="0.35" stop-color="#f9d9cf" stop-opacity="0.43"/><stop offset="0.5" stop-color="#fceae6" stop-opacity="0.19"/><stop offset="0.7" stop-color="#fcede9" stop-opacity="0.15"/><stop offset="1.0" stop-color="#fcede9" stop-opacity="0.15"/></linearGradient><linearGradient id="g2_26" x1="0.5" x2="1" y1="0" y2="0" spreadMethod="reflect"><stop offset="0.0" stop-color="#e1775a" stop-opacity="1.00"/><stop offset="0.08" stop-color="#e78366" stop-opacity="1.00"/><stop offset="0.16" stop-color="#f2a186" stop-opacity="1.00"/><stop offset="0.25" stop-color="#f7c6b6" stop-opacity="0.72"/><stop offset="0.35" stop-color="#fadfd7" stop-opacity="0.34"/><stop offset="0.5" stop-color="#fcece7" stop-opacity="0.17"/><stop offset="0.7" stop-color="#fcede9" stop-opacity="0.15"/><stop offset="1.0" stop-color="#fcede9" stop-opacity="0.15"/></linearGradient><linearGradient id="g2_27" x1="0.5" x2="1" y1="0" y2="0" spreadMethod="reflect"><stop offset="0.0" stop-color="#d0543a" stop-opacity="1.00"/><stop offset="0.08" stop-color="#da694d" stop-opacity="1.00"/><stop offset="0.16" stop-color="#f0987a" stop-opacity="1.00"/><stop offset="0.25" stop-color="#f7c9bb" stop-opacity="0.66"/><stop offset="0.35" stop-color="#fbe4de" stop-opacity="0.27"/><stop offset="0.5" stop-color="#fcede8" stop-opacity="0.16"/><stop offset="0.7" stop-color="#fcede9" stop-opacity="0.15"/><stop offset="1.0" stop-color="#fcede9" stop-opacity="0.15"/></linearGradient><linearGradient id="g2_28" x1="0.5" x2="1" y1="0" y2="0" spreadMethod="reflect"><stop offset="0.0" stop-color="#d76347" stop-opacity="1.00"/><stop offset="0.08" stop-color="#e07559" stop-opacity="1.00"/><stop offset="0.16" stop-color="#f19f83" stop-opacity="1.00"/><stop offset="0.25" stop-color="#f7ccbe" stop-opacity="0.63"/><stop offset="0.35" stop-color="#fbe5de" stop-opacity="0.27"/><stop offset="0.5" stop-color="#fcede8" stop-opacity="0.16"/><stop offset="0.7" stop-color="#fcede9" stop-opacity="0.15"/><stop offset="1.0" stop-color="#fcede9" stop-opacity="0.15"/></linearGradient><linearGradient id="g2_29" x1="0.5" x2="1" y1="0" y2="0" spreadMethod="reflect"><stop offset="0.0" stop-color="#e88669" stop-opacity="1.00"/><stop offset="0.08" stop-color="#ee9275" stop-opacity="1.00"/><stop offset="0.16" stop-color="#f4b09a" stop-opacity="1.00"/><stop offset="0.25" stop-color="#f8d1c4" stop-opacity="0.55"/><stop offset="0.35" stop-color="#fbe5df" stop-opacity="0.27"/><stop offset="0.5" stop-color="#fcece8" stop-opacity="0.16"/><stop offset="0.7" stop-color="#fcede9" stop-opacity="0.15"/><stop offset="1.0" stop-color="#fcede9" stop-opacity="0.15"/></linearGradient><linearGradient id="g2_30" x1="0.5" x2="1" y1="0" y2="0" spreadMethod="reflect"><stop offset="0.0" stop-color="#df7256" stop-opacity="1.00"/><stop offset="0.08" stop-color="#e68265" stop-opacity="1.00"/><stop offset="0.16" stop-color="#f2a58c" stop-opacity="1.00"/><stop offset="0.25" stop-color="#f8ccbf" stop-opacity="0.62"/><stop offset="0.35" stop-color="#fbe4dd" stop-opacity="0.28"/><stop offset="0.5" stop-color="#fcece8" stop-opacity="0.16"/><stop offset="0.7" stop-color="#fcede9" stop-opacity="0.15"/><stop offset="1.0" stop-color="#fcede9" stop-opacity="0.15"/></linearGradient><linearGradient id="g2_31" x1="0.5" x2="1" y1="0" y2="0" spreadMethod="reflect"><stop offset="0.0" stop-color="#f3ad96" stop-opacity="1.00"/><stop offset="0.08" stop-color="#f4b5a1" stop-opacity="0.95"/><stop offset="0.16" stop-color="#f7c8b9" stop-opacity="0.68"/><stop offset="0.25" stop-color="#fadcd3" stop-opacity="0.39"/><stop offset="0.35" stop-color="#fbe8e3" stop-opacity="0.22"/><stop offset="0.5" stop-color="#fcede9" stop-opacity="0.15"/><stop offset="0.7" stop-color="#fcede9" stop-opacity="0.15"/><stop offset="1.0" stop-color="#fcede9" stop-opacity="0.15"/></linearGradient><linearGradient id="g2_32" x1="0.5" x2="1" y1="0" y2="0" spreadMethod="reflect"><stop offset="0.0" stop-color="#f09779" stop-opacity="1.00"/><stop offset="0.08" stop-color="#f2a288" stop-opacity="1.00"/><stop offset="0.16" stop-color="#f5bca9" stop-opacity="0.86"/><stop offset="0.25" stop-color="#f9d7cc" stop-opacity="0.47"/><stop offset="0.35" stop-color="#fbe7e1" stop-opacity="0.24"/><stop offset="0.5" stop-color="#fcede9" stop-opacity="0.16"/><stop offset="0.7" stop-color="#fcede9" stop-opacity="0.15"/><stop offset="1.0" stop-color="#fcede9" stop-opacity="0.15"/></linearGradient><linearGradient id="g2_33" x1="0.5" x2="1" y1="0" y2="0" spreadMethod="reflect"><stop offset="0.0" stop-color="#f3aa91" stop-opacity="1.00"/><stop offset="0.08" stop-color="#f4b5a0" stop-opacity="0.96"/><stop offset="0.16" stop-color="#f8cdbf" stop-opacity="0.62"/><stop offset="0.25" stop-color="#fae2da" stop-opacity="0.31"/><stop offset="0.35" stop-color="#fcebe6" stop-opacity="0.18"/><stop offset="0.5" stop-color="#fcede9" stop-opacity="0.15"/><stop offset="0.7" stop-color="#fcede9" stop-opacity="0.15"/><stop offset="1.0" stop-color="#fcede9" stop-opacity="0.15"/></linearGradient><linearGradient id="g2_34" x1="0.5" x2="1" y1="0" y2="0" spreadMethod="reflect"><stop offset="0.0" stop-color="#f1a085" stop-opacity="1.00"/><stop offset="0.08" stop-color="#f3aa93" stop-opacity="1.00"/><stop offset="0.16" stop-color="#f6c2b1" stop-opacity="0.77"/><stop offset="0.25" stop-color="#f9dbd1" stop-opacity="0.41"/><stop offset="0.35" stop-color="#fbe8e3" stop-opacity="0.22"/><stop offset="0.5" stop-color="#fcede9" stop-opacity="0.15"/><stop offset="0.7" stop-color="#fcede9" stop-opacity="0.15"/><stop offset="1.0" stop-color="#fcede9" stop-opacity="0.15"/></linearGradient><linearGradient id="g2_35" x1="0.5" x2="1" y1="0" y2="0" spreadMethod="reflect"><stop offset="0.0" stop-color="#f19d81" stop-opacity="1.00"/><stop offset="0.08" stop-color="#f3a990" stop-opacity="1.00"/><stop offset="0.16" stop-color="#f6c3b2" stop-opacity="0.75"/><stop offset="0.25" stop-color="#fadcd3" stop-opacity="0.39"/><stop offset="0.35" stop-color="#fbe9e4" stop-opacity="0.20"/><stop offset="0.5" stop-color="#fcede9" stop-opacity="0.15"/><stop offset="0.7" stop-color="#fcede9" stop-opacity="0.15"/><stop offset="1.0" stop-color="#fcede9" stop-opacity="0.15"/></linearGradient><linearGradient id="g2_36" x1="0.5" x2="1" y1="0" y2="0" spreadMethod="reflect"><stop offset="0.0" stop-color="#ec8d70" stop-opacity="1.00"/><stop offset="0.08" stop-color="#f19c80" stop-opacity="1.00"/><stop offset="0.16" stop-color="#f5bdaa" stop-opacity="0.84"/><stop offset="0.25" stop-color="#fadbd2" stop-opacity="0.41"/><stop offset="0.35" stop-color="#fce9e4" stop-opacity="0.20"/><stop offset="0.5" stop-color="#fcede9" stop-opacity="0.15"/><stop offset="0.7" stop-color="#fcede9" stop-opacity="0.15"/><stop offset="1.0" stop-color="#fcede9" stop-opacity="0.15"/></linearGradient><linearGradient id="g2_37" x1="0.5" x2="1" y1="0" y2="0" spreadMethod="reflect"><stop offset="0.0" stop-color="#ed9173" stop-opacity="1.00"/><stop offset="0.08" stop-color="#f19f84" stop-opacity="1.00"/><stop offset="0.16" stop-color="#f6bfad" stop-opacity="0.81"/><stop offset="0.25" stop-color="#fadcd3" stop-opacity="0.39"/><stop offset="0.35" stop-color="#fceae5" stop-opacity="0.20"/><stop offset="0.5" stop-color="#fcede9" stop-opacity="0.15"/><stop offset="0.7" stop-color="#fcede9" stop-opacity="0.15"/><stop offset="1.0" stop-color="#fcede9" stop-opacity="0.15"/></linearGradient><linearGradient id="g2_38" x1="0.5" x2="1" y1="0" y2="0" spreadMethod="reflect"><stop offset="0.0" stop-color="#f5b7a3" stop-opacity="0.92"/><stop offset="0.08" stop-color="#f6c0ae" stop-opacity="0.80"/><stop offset="0.16" stop-color="#f8d2c6" stop-opacity="0.54"/><stop offset="0.25" stop-color="#fbe3dc" stop-opacity="0.30"/><stop offset="0.35" stop-color="#fcebe6" stop-opacity="0.18"/><stop offset="0.5" stop-color="#fcede9" stop-opacity="0.15"/><stop offset="0.7" stop-color="#fcede9" stop-opacity="0.15"/><stop offset="1.0" stop-color="#fcede9" stop-opacity="0.15"/></linearGradient><linearGradient id="g2_39" x1="0.5" x2="1" y1="0" y2="0" spreadMethod="reflect"><stop offset="0.0" stop-color="#f6c0ae" stop-opacity="0.80"/><stop offset="0.08" stop-color="#f7c7b7" stop-opacity="0.70"/><stop offset="0.16" stop-color="#f9d6cb" stop-opacity="0.49"/><stop offset="0.25" stop-color="#fbe4dd" stop-opacity="0.28"/><stop offset="0.35" stop-color="#fcebe6" stop-opacity="0.18"/><stop offset="0.5" stop-color="#fcede9" stop-opacity="0.15"/><stop offset="0.7" stop-color="#fcede9" stop-opacity="0.15"/><stop offset="1.0" stop-color="#fcede9" stop-opacity="0.15"/></linearGradient><linearGradient id="g2_40" x1="0.5" x2="1" y1="0" y2="0" spreadMethod="reflect"><stop offset="0.0" stop-color="#f2a48a" stop-opacity="1.00"/><stop offset="0.08" stop-color="#f3af99" stop-opacity="1.00"/><stop offset="0.16" stop-color="#f7c7b8" stop-opacity="0.69"/><stop offset="0.25" stop-color="#faded6" stop-opacity="0.36"/><stop offset="0.35" stop-color="#fceae5" stop-opacity="0.19"/><stop offset="0.5" stop-color="#fcede9" stop-opacity="0.15"/><stop offset="0.7" stop-color="#fcede9" stop-opacity="0.15"/><stop offset="1.0" stop-color="#fcede9" stop-opacity="0.15"/></linearGradient><linearGradient id="g2_41" x1="0.5" x2="1" y1="0" y2="0" spreadMethod="reflect"><stop offset="0.0" stop-color="#f6c2b1" stop-opacity="0.77"/><stop offset="0.08" stop-color="#f7c9bb" stop-opacity="0.66"/><stop offset="0.16" stop-color="#f9dad0" stop-opacity="0.43"/><stop offset="0.25" stop-color="#fbe7e1" stop-opacity="0.24"/><stop offset="0.35" stop-color="#fcece8" stop-opacity="0.16"/><stop offset="0.5" stop-color="#fcede9" stop-opacity="0.15"/><stop offset="0.7" stop-color="#fcede9" stop-opacity="0.15"/><stop offset="1.0" stop-color="#fcede9" stop-opacity="0.15"/></linearGradient><linearGradient id="g2_42" x1="0.5" x2="1" y1="0" y2="0" spreadMethod="reflect"><stop offset="0.0" stop-color="#ee9173" stop-opacity="1.00"/><stop offset="0.08" stop-color="#f2a288" stop-opacity="1.00"/><stop offset="0.16" stop-color="#f7c5b5" stop-opacity="0.72"/><stop offset="0.25" stop-color="#fae1da" stop-opacity="0.32"/><stop offset="0.35" stop-color="#fcebe7" stop-opacity="0.17"/><stop offset="0.5" stop-color="#fcede9" stop-opacity="0.15"/><stop offset="0.7" stop-color="#fcede9" stop-opacity="0.15"/><stop offset="1.0" stop-color="#fcede9" stop-opacity="0.15"/></linearGradient><linearGradient id="g2_43" x1="0.5" x2="1" y1="0" y2="0" spreadMethod="reflect"><stop offset="0.0" stop-color="#f7cabb" stop-opacity="0.66"/><stop offset="0.08" stop-color="#f8cfc2" stop-opacity="0.58"/><stop offset="0.16" stop-color="#fadcd2" stop-opacity="0.40"/><stop offset="0.25" stop-color="#fbe7e1" stop-opacity="0.24"/><stop offset="0.35" stop-color="#fcece7" stop-opacity="0.17"/><stop offset="0.5" stop-color="#fcede9" stop-opacity="0.15"/><stop offset="0.7" stop-color="#fcede9" stop-opacity="0.15"/><stop offset="1.0" stop-color="#fcede9" stop-opacity="0.15"/></linearGradient><linearGradient id="g2_44" x1="0.5" x2="1" y1="0" y2="0" spreadMethod="reflect"><stop offset="0.0" stop-color="#f5bdaa" stop-opacity="0.85"/><stop offset="0.08" stop-color="#f7c6b6" stop-opacity="0.71"/><stop offset="0.16" stop-color="#f9d8ce" stop-opacity="0.45"/><stop offset="0.25" stop-color="#fbe7e1" stop-opacity="0.24"/><stop offset="0.35" stop-color="#fcece8" stop-opacity="0.16"/><stop offset="0.5" stop-color="#fcede9" stop-opacity="0.15"/><stop offset="0.7" stop-color="#fcede9" stop-opacity="0.15"/><stop offset="1.0" stop-color="#fcede9" stop-opacity="0.15"/></linearGradient><linearGradient id="g2_45" x1="0.5" x2="1" y1="0" y2="0" spreadMethod="reflect"><stop offset="0.0" stop-color="#f4b4a0" stop-opacity="0.96"/><stop offset="0.08" stop-color="#f6beac" stop-opacity="0.83"/><stop offset="0.16" stop-color="#f8d2c6" stop-opacity="0.54"/><stop offset="0.25" stop-color="#fbe4dd" stop-opacity="0.29"/><stop offset="0.35" stop-color="#fcebe7" stop-opacity="0.17"/><stop offset="0.5" stop-color="#fcede9" stop-opacity="0.15"/><stop offset="0.7" stop-color="#fcede9" stop-opacity="0.15"/><stop offset="1.0" stop-color="#fcede9" stop-opacity="0.15"/></linearGradient><linearGradient id="g2_46" x1="0.5" x2="1" y1="0" y2="0" spreadMethod="reflect"><stop offset="0.0" stop-color="#f3ad96" stop-opacity="1.00"/><stop offset="0.08" stop-color="#f5b8a5" stop-opacity="0.91"/><stop offset="0.16" stop-color="#f8cfc2" stop-opacity="0.58"/><stop offset="0.25" stop-color="#fbe3dc" stop-opacity="0.29"/><stop offset="0.35" stop-color="#fcebe7" stop-opacity="0.17"/><stop offset="0.5" stop-color="#fcede9" stop-opacity="0.15"/><stop offset="0.7" stop-color="#fcede9" stop-opacity="0.15"/><stop offset="1.0" stop-color="#fcede9" stop-opacity="0.15"/></linearGradient><linearGradient id="g2_47" x1="0.5" x2="1" y1="0" y2="0" spreadMethod="reflect"><stop offset="0.0" stop-color="#f6c3b3" stop-opacity="0.75"/><stop offset="0.08" stop-color="#f7cbbc" stop-opacity="0.64"/><stop offset="0.16" stop-color="#f9dad0" stop-opacity="0.43"/><stop offset="0.25" stop-color="#fbe6e1" stop-opacity="0.24"/><stop offset="0.35" stop-color="#fcece8" stop-opacity="0.17"/><stop offset="0.5" stop-color="#fcede9" stop-opacity="0.15"/><stop offset="0.7" stop-color="#fcede9" stop-opacity="0.15"/><stop offset="1.0" stop-color="#fcede9" stop-opacity="0.15"/></linearGradient><linearGradient id="g2_48" x1="0.5" x2="1" y1="0" y2="0" spreadMethod="reflect"><stop offset="0.0" stop-color="#f5bba8" stop-opacity="0.87"/><stop offset="0.08" stop-color="#f6c4b4" stop-opacity="0.73"/><stop offset="0.16" stop-color="#f9d8ce" stop-opacity="0.45"/><stop offset="0.25" stop-color="#fbe7e1" stop-opacity="0.24"/><stop offset="0.35" stop-color="#fcece8" stop-opacity="0.16"/><stop offset="0.5" stop-color="#fcede9" stop-opacity="0.15"/><stop offset="0.7" stop-color="#fcede9" stop-opacity="0.15"/><stop offset="1.0" stop-color="#fcede9" stop-opacity="0.15"/></linearGradient><linearGradient id="g2_49" x1="0.5" x2="1" y1="0" y2="0" spreadMethod="reflect"><stop offset="0.0" stop-color="#f5bdaa" stop-opacity="0.84"/><stop offset="0.08" stop-color="#f7c5b5" stop-opacity="0.72"/><stop offset="0.16" stop-color="#f9d7cc" stop-opacity="0.47"/><stop offset="0.25" stop-color="#fbe6e0" stop-opacity="0.25"/><stop offset="0.35" stop-color="#fcece7" stop-opacity="0.17"/><stop offset="0.5" stop-color="#fcede9" stop-opacity="0.15"/><stop offset="0.7" stop-color="#fcede9" stop-opacity="0.15"/><stop offset="1.0" stop-color="#fcede9" stop-opacity="0.15"/></linearGradient><linearGradient id="g2_50" x1="0.5" x2="1" y1="0" y2="0" spreadMethod="reflect"><stop offset="0.0" stop-color="#f4b5a1" stop-opacity="0.95"/><stop offset="0.08" stop-color="#f6c0ae" stop-opacity="0.80"/><stop offset="0.16" stop-color="#f9d4c9" stop-opacity="0.50"/><stop offset="0.25" stop-color="#fbe5df" stop-opacity="0.26"/><stop offset="0.35" stop-color="#fcece8" stop-opacity="0.17"/><stop offset="0.5" stop-color="#fcede9" stop-opacity="0.15"/><stop offset="0.7" stop-color="#fcede9" stop-opacity="0.15"/><stop offset="1.0" stop-color="#fcede9" stop-opacity="0.15"/></linearGradient><linearGradient id="g2_51" x1="0.5" x2="1" y1="0" y2="0" spreadMethod="reflect"><stop offset="0.0" stop-color="#f7cabb" stop-opacity="0.65"/><stop offset="0.08" stop-color="#f8d0c4" stop-opacity="0.56"/><stop offset="0.16" stop-color="#faddd5" stop-opacity="0.37"/><stop offset="0.25" stop-color="#fbe8e3" stop-opacity="0.22"/><stop offset="0.35" stop-color="#fcece8" stop-opacity="0.16"/><stop offset="0.5" stop-color="#fcede9" stop-opacity="0.15"/><stop offset="0.7" stop-color="#fcede9" stop-opacity="0.15"/><stop offset="1.0" stop-color="#fcede9" stop-opacity="0.15"/></linearGradient><linearGradient id="g2_52" x1="0.5" x2="1" y1="0" y2="0" spreadMethod="reflect"><stop offset="0.0" stop-color="#f4b5a0" stop-opacity="0.96"/><stop offset="0.08" stop-color="#f6bfae" stop-opacity="0.81"/><stop offset="0.16" stop-color="#f9d4c9" stop-opacity="0.50"/><stop offset="0.25" stop-color="#fbe5df" stop-opacity="0.26"/><stop offset="0.35" stop-color="#fcece8" stop-opacity="0.17"/><stop offset="0.5" stop-color="#fcede9" stop-opacity="0.15"/><stop offset="0.7" stop-color="#fcede9" stop-opacity="0.15"/><stop offset="1.0" stop-color="#fcede9" stop-opacity="0.15"/></linearGradient><linearGradient id="g2_53" x1="0.5" x2="1" y1="0" y2="0" spreadMethod="reflect"><stop offset="0.0" stop-color="#f9d6cb" stop-opacity="0.48"/><stop offset="0.08" stop-color="#f9dbd1" stop-opacity="0.42"/><stop offset="0.16" stop-color="#fbe4dd" stop-opacity="0.29"/><stop offset="0.25" stop-color="#fceae6" stop-opacity="0.19"/><stop offset="0.35" stop-color="#fcede9" stop-opacity="0.15"/><stop offset="0.5" stop-color="#fcede9" stop-opacity="0.15"/><stop offset="0.7" stop-color="#fcede9" stop-opacity="0.15"/><stop offset="1.0" stop-color="#fcede9" stop-opacity="0.15"/></linearGradient><linearGradient id="g2_54" x1="0.5" x2="1" y1="0" y2="0" spreadMethod="reflect"><stop offset="0.0" stop-color="#f5bdaa" stop-opacity="0.84"/><stop offset="0.08" stop-color="#f7c6b7" stop-opacity="0.71"/><stop offset="0.16" stop-color="#f9d9cf" stop-opacity="0.44"/><stop offset="0.25" stop-color="#fbe7e2" stop-opacity="0.23"/><stop offset="0.35" stop-color="#fcece8" stop-opacity="0.16"/><stop offset="0.5" stop-color="#fcede9" stop-opacity="0.15"/><stop offset="0.7" stop-color="#fcede9" stop-opacity="0.15"/><stop offset="1.0" stop-color="#fcede9" stop-opacity="0.15"/></linearGradient><linearGradient id="g2_55" x1="0.5" x2="1" y1="0" y2="0" spreadMethod="reflect"><stop offset="0.0" stop-color="#f7cbbc" stop-opacity="0.65"/><stop offset="0.08" stop-color="#f8d2c5" stop-opacity="0.54"/><stop offset="0.16" stop-color="#fadfd7" stop-opacity="0.35"/><stop offset="0.25" stop-color="#fbe9e4" stop-opacity="0.20"/><stop offset="0.35" stop-color="#fcede8" stop-opacity="0.16"/><stop offset="0.5" stop-color="#fcede9" stop-opacity="0.15"/><stop offset="0.7" stop-color="#fcede9" stop-opacity="0.15"/><stop offset="1.0" stop-color="#fcede9" stop-opacity="0.15"/></linearGradient><linearGradient id="g2_56" x1="0.5" x2="1" y1="0" y2="0" spreadMethod="reflect"><stop offset="0.0" stop-color="#f9d4c9" stop-opacity="0.51"/><stop offset="0.08" stop-color="#f9d9cf" stop-opacity="0.44"/><stop offset="0.16" stop-color="#fbe2db" stop-opacity="0.30"/><stop offset="0.25" stop-color="#fceae5" stop-opacity="0.19"/><stop offset="0.35" stop-color="#fcede8" stop-opacity="0.16"/><stop offset="0.5" stop-color="#fcede9" stop-opacity="0.15"/><stop offset="0.7" stop-color="#fcede9" stop-opacity="0.15"/><stop offset="1.0" stop-color="#fcede9" stop-opacity="0.15"/></linearGradient><linearGradient id="g2_57" x1="0.5" x2="1" y1="0" y2="0" spreadMethod="reflect"><stop offset="0.0" stop-color="#f8cec1" stop-opacity="0.59"/><stop offset="0.08" stop-color="#f9d4c9" stop-opacity="0.51"/><stop offset="0.16" stop-color="#fae0d8" stop-opacity="0.34"/><stop offset="0.25" stop-color="#fbe9e4" stop-opacity="0.20"/><stop offset="0.35" stop-color="#fcede8" stop-opacity="0.16"/><stop offset="0.5" stop-color="#fcede9" stop-opacity="0.15"/><stop offset="0.7" stop-color="#fcede9" stop-opacity="0.15"/><stop offset="1.0" stop-color="#fcede9" stop-opacity="0.15"/></linearGradient><linearGradient id="g2_58" x1="0.5" x2="1" y1="0" y2="0" spreadMethod="reflect"><stop offset="0.0" stop-color="#f6c2b2" stop-opacity="0.76"/><stop offset="0.08" stop-color="#f7cbbd" stop-opacity="0.64"/><stop offset="0.16" stop-color="#fadcd3" stop-opacity="0.40"/><stop offset="0.25" stop-color="#fbe8e3" stop-opacity="0.22"/><stop offset="0.35" stop-color="#fcece8" stop-opacity="0.16"/><stop offset="0.5" stop-color="#fcede9" stop-opacity="0.15"/><stop offset="0.7" stop-color="#fcede9" stop-opacity="0.15"/><stop offset="1.0" stop-color="#fcede9" stop-opacity="0.15"/></linearGradient><linearGradient id="g2_59" x1="0.5" x2="1" y1="0" y2="0" spreadMethod="reflect"><stop offset="0.0" stop-color="#f7ccbe" stop-opacity="0.62"/><stop offset="0.08" stop-color="#f8d3c7" stop-opacity="0.53"/><stop offset="0.16" stop-color="#fadfd7" stop-opacity="0.34"/><stop offset="0.25" stop-color="#fbe9e4" stop-opacity="0.20"/><stop offset="0.35" stop-color="#fcede8" stop-opacity="0.16"/><stop offset="0.5" stop-color="#fcede9" stop-opacity="0.15"/><stop offset="0.7" stop-color="#fcede9" stop-opacity="0.15"/><stop offset="1.0" stop-color="#fcede9" stop-opacity="0.15"/></linearGradient><linearGradient id="g2_60" x1="0.5" x2="1" y1="0" y2="0" spreadMethod="reflect"><stop offset="0.0" stop-color="#f9d5c9" stop-opacity="0.50"/><stop offset="0.08" stop-color="#f9dad0" stop-opacity="0.43"/><stop offset="0.16" stop-color="#fbe3dc" stop-opacity="0.29"/><stop offset="0.25" stop-color="#fceae5" stop-opacity="0.19"/><stop offset="0.35" stop-color="#fcede9" stop-opacity="0.15"/><stop offset="0.5" stop-color="#fcede9" stop-opacity="0.15"/><stop offset="0.7" stop-color="#fcede9" stop-opacity="0.15"/><stop offset="1.0" stop-color="#fcede9" stop-opacity="0.15"/></linearGradient><linearGradient id="g2_61" x1="0.5" x2="1" y1="0" y2="0" spreadMethod="reflect"><stop offset="0.0" stop-color="#f8cdc0" stop-opacity="0.60"/><stop offset="0.08" stop-color="#f9d4c8" stop-opacity="0.51"/><stop offset="0.16" stop-color="#fae1d9" stop-opacity="0.33"/><stop offset="0.25" stop-color="#fceae5" stop-opacity="0.20"/><stop offset="0.35" stop-color="#fcede9" stop-opacity="0.16"/><stop offset="0.5" stop-color="#fcede9" stop-opacity="0.15"/><stop offset="0.7" stop-color="#fcede9" stop-opacity="0.15"/><stop offset="1.0" stop-color="#fcede9" stop-opacity="0.15"/></linearGradient><linearGradient id="g2_62" x1="0.5" x2="1" y1="0" y2="0" spreadMethod="reflect"><stop offset="0.0" stop-color="#f7c8b9" stop-opacity="0.68"/><stop offset="0.08" stop-color="#f8d0c3" stop-opacity="0.57"/><stop offset="0.16" stop-color="#faded6" stop-opacity="0.36"/><stop offset="0.25" stop-color="#fbe9e4" stop-opacity="0.21"/><stop offset="0.35" stop-color="#fcede8" stop-opacity="0.16"/><stop offset="0.5" stop-color="#fcede9" stop-opacity="0.15"/><stop offset="0.7" stop-color="#fcede9" stop-opacity="0.15"/><stop offset="1.0" stop-color="#fcede9" stop-opacity="0.15"/></linearGradient><linearGradient id="g2_63" x1="0.5" x2="1" y1="0" y2="0" spreadMethod="reflect"><stop offset="0.0" stop-color="#f9d6cb" stop-opacity="0.48"/><stop offset="0.08" stop-color="#f9dbd1" stop-opacity="0.41"/><stop offset="0.16" stop-color="#fbe4dd" stop-opacity="0.28"/><stop offset="0.25" stop-color="#fcebe6" stop-opacity="0.18"/><stop offset="0.35" stop-color="#fcede9" stop-opacity="0.15"/><stop offset="0.5" stop-color="#fcede9" stop-opacity="0.15"/><stop offset="0.7" stop-color="#fcede9" stop-opacity="0.15"/><stop offset="1.0" stop-color="#fcede9" stop-opacity="0.15"/></linearGradient><linearGradient id="g2_64" x1="0.5" x2="1" y1="0" y2="0" spreadMethod="reflect"><stop offset="0.0" stop-color="#f8cec1" stop-opacity="0.59"/><stop offset="0.08" stop-color="#f9d5c9" stop-opacity="0.50"/><stop offset="0.16" stop-color="#fae1d9" stop-opacity="0.32"/><stop offset="0.25" stop-color="#fceae5" stop-opacity="0.20"/><stop offset="0.35" stop-color="#fcede9" stop-opacity="0.16"/><stop offset="0.5" stop-color="#fcede9" stop-opacity="0.15"/><stop offset="0.7" stop-color="#fcede9" stop-opacity="0.15"/><stop offset="1.0" stop-color="#fcede9" stop-opacity="0.15"/></linearGradient><linearGradient id="g2_65" x1="0.5" x2="1" y1="0" y2="0" spreadMethod="reflect"><stop offset="0.0" stop-color="#fae0d8" stop-opacity="0.34"/><stop offset="0.08" stop-color="#fbe2db" stop-opacity="0.30"/><stop offset="0.16" stop-color="#fbe8e2" stop-opacity="0.23"/><stop offset="0.25" stop-color="#fcece7" stop-opacity="0.17"/><stop offset="0.35" stop-color="#fcede9" stop-opacity="0.15"/><stop offset="0.5" stop-color="#fcede9" stop-opacity="0.15"/><stop offset="0.7" stop-color="#fcede9" stop-opacity="0.15"/><stop offset="1.0" stop-color="#fcede9" stop-opacity="0.15"/></linearGradient><linearGradient id="g2_66" x1="0.5" x2="1" y1="0" y2="0" spreadMethod="reflect"><stop offset="0.0" stop-color="#f9d9cf" stop-opacity="0.44"/><stop offset="0.08" stop-color="#faddd4" stop-opacity="0.38"/><stop offset="0.16" stop-color="#fbe5df" stop-opacity="0.26"/><stop offset="0.25" stop-color="#fcebe6" stop-opacity="0.18"/><stop offset="0.35" stop-color="#fcede9" stop-opacity="0.15"/><stop offset="0.5" stop-color="#fcede9" stop-opacity="0.15"/><stop offset="0.7" stop-color="#fcede9" stop-opacity="0.15"/><stop offset="1.0" stop-color="#fcede9" stop-opacity="0.15"/></linearGradient><linearGradient id="g2_67" x1="0.5" x2="1" y1="0" y2="0" spreadMethod="reflect"><stop offset="0.0" stop-color="#f8d1c4" stop-opacity="0.56"/><stop offset="0.08" stop-color="#f9d7cc" stop-opacity="0.47"/><stop offset="0.16" stop-color="#fae2db" stop-opacity="0.31"/><stop offset="0.25" stop-color="#fceae5" stop-opacity="0.19"/><stop offset="0.35" stop-color="#fcede9" stop-opacity="0.15"/><stop offset="0.5" stop-color="#fcede9" stop-opacity="0.15"/><stop offset="0.7" stop-color="#fcede9" stop-opacity="0.15"/><stop offset="1.0" stop-color="#fcede9" stop-opacity="0.15"/></linearGradient><linearGradient id="g2_68" x1="0.5" x2="1" y1="0" y2="0" spreadMethod="reflect"><stop offset="0.0" stop-color="#f9d8ce" stop-opacity="0.44"/><stop offset="0.08" stop-color="#faddd4" stop-opacity="0.38"/><stop offset="0.16" stop-color="#fbe5df" stop-opacity="0.27"/><stop offset="0.25" stop-color="#fcebe6" stop-opacity="0.18"/><stop offset="0.35" stop-color="#fcede9" stop-opacity="0.15"/><stop offset="0.5" stop-color="#fcede9" stop-opacity="0.15"/><stop offset="0.7" stop-color="#fcede9" stop-opacity="0.15"/><stop offset="1.0" stop-color="#fcede9" stop-opacity="0.15"/></linearGradient><linearGradient id="g2_69" x1="0.5" x2="1" y1="0" y2="0" spreadMethod="reflect"><stop offset="0.0" stop-color="#fae2da" stop-opacity="0.31"/><stop offset="0.08" stop-color="#fbe4dd" stop-opacity="0.28"/><stop offset="0.16" stop-color="#fbe9e3" stop-opacity="0.21"/><stop offset="0.25" stop-color="#fcece8" stop-opacity="0.17"/><stop offset="0.35" stop-color="#fcede9" stop-opacity="0.15"/><stop offset="0.5" stop-color="#fcede9" stop-opacity="0.15"/><stop offset="0.7" stop-color="#fcede9" stop-opacity="0.15"/><stop offset="1.0" stop-color="#fcede9" stop-opacity="0.15"/></linearGradient><linearGradient id="g2_70" x1="0.5" x2="1" y1="0" y2="0" spreadMethod="reflect"><stop offset="0.0" stop-color="#fadfd7" stop-opacity="0.35"/><stop offset="0.08" stop-color="#fae2db" stop-opacity="0.31"/><stop offset="0.16" stop-color="#fbe8e2" stop-opacity="0.23"/><stop offset="0.25" stop-color="#fcece7" stop-opacity="0.17"/><stop offset="0.35" stop-color="#fcede9" stop-opacity="0.15"/><stop offset="0.5" stop-color="#fcede9" stop-opacity="0.15"/><stop offset="0.7" stop-color="#fcede9" stop-opacity="0.15"/><stop offset="1.0" stop-color="#fcede9" stop-opacity="0.15"/></linearGradient><linearGradient id="g2_71" x1="0.5" x2="1" y1="0" y2="0" spreadMethod="reflect"><stop offset="0.0" stop-color="#fadcd3" stop-opacity="0.39"/><stop offset="0.08" stop-color="#fae0d8" stop-opacity="0.34"/><stop offset="0.16" stop-color="#fbe7e1" stop-opacity="0.24"/><stop offset="0.25" stop-color="#fcebe7" stop-opacity="0.17"/><stop offset="0.35" stop-color="#fcede9" stop-opacity="0.15"/><stop offset="0.5" stop-color="#fcede9" stop-opacity="0.15"/><stop offset="0.7" stop-color="#fcede9" stop-opacity="0.15"/><stop offset="1.0" stop-color="#fcede9" stop-opacity="0.15"/></linearGradient><linearGradient id="g2_72" x1="0.5" x2="1" y1="0" y2="0" spreadMethod="reflect"><stop offset="0.0" stop-color="#f9d8ce" stop-opacity="0.45"/><stop offset="0.08" stop-color="#faddd4" stop-opacity="0.39"/><stop offset="0.16" stop-color="#fbe5df" stop-opacity="0.27"/><stop offset="0.25" stop-color="#fcebe6" stop-opacity="0.18"/><stop offset="0.35" stop-color="#fcede9" stop-opacity="0.15"/><stop offset="0.5" stop-color="#fcede9" stop-opacity="0.15"/><stop offset="0.7" stop-color="#fcede9" stop-opacity="0.15"/><stop offset="1.0" stop-color="#fcede9" stop-opacity="0.15"/></linearGradient><linearGradient id="g2_73" x1="0.5" x2="1" y1="0" y2="0" spreadMethod="reflect"><stop offset="0.0" stop-color="#fadfd6" stop-opacity="0.36"/><stop offset="0.08" stop-color="#fae2da" stop-opacity="0.31"/><stop offset="0.16" stop-color="#fbe7e2" stop-opacity="0.23"/><stop offset="0.25" stop-color="#fcece7" stop-opacity="0.17"/><stop offset="0.35" stop-color="#fcede9" stop-opacity="0.15"/><stop offset="0.5" stop-color="#fcede9" stop-opacity="0.15"/><stop offset="0.7" stop-color="#fcede9" stop-opacity="0.15"/><stop offset="1.0" stop-color="#fcede9" stop-opacity="0.15"/></linearGradient><linearGradient id="g2_74" x1="0.5" x2="1" y1="0" y2="0" spreadMethod="reflect"><stop offset="0.0" stop-color="#f9dbd1" stop-opacity="0.42"/><stop offset="0.08" stop-color="#fadfd6" stop-opacity="0.36"/><stop offset="0.16" stop-color="#fbe6e0" stop-opacity="0.25"/><stop offset="0.25" stop-color="#fcebe7" stop-opacity="0.17"/><stop offset="0.35" stop-color="#fcede9" stop-opacity="0.15"/><stop offset="0.5" stop-color="#fcede9" stop-opacity="0.15"/><stop offset="0.7" stop-color="#fcede9" stop-opacity="0.15"/><stop offset="1.0" stop-color="#fcede9" stop-opacity="0.15"/></linearGradient><linearGradient id="cbar" x1="0" x2="0" y1="0" y2="1"><stop offset="0" stop-color="#cf4a2a"/><stop offset="0.3" stop-color="#e0775c"/><stop offset="0.6" stop-color="#f2b3a2"/><stop offset="1" stop-color="#fdf3f0"/></linearGradient></defs>
<rect x="0" y="0" width="520" height="710" fill="#fff"/>
<text x="6" y="14.8" font-size="11.2" text-anchor="start" font-weight="bold" font-style="normal" fill="#000" stroke="#000" stroke-width="0.14" >A</text>
<text x="46" y="19.5" font-size="10" text-anchor="start" font-weight="normal" font-style="normal" fill="#222" stroke="#222" stroke-width="0.14" textLength="113" lengthAdjust="spacingAndGlyphs">Identified chromatin loops</text>
<g fill="none" stroke="#1a1a1a" stroke-width="1.1">
<ellipse cx="79.65" cy="67" rx="42.3" ry="30"/>
<ellipse cx="121.25" cy="67" rx="41.95" ry="30.2"/>
<ellipse cx="100.25" cy="92.4" rx="42.05" ry="30.4"/>
</g>
<text x="25" y="38.75" font-size="9" text-anchor="start" font-weight="normal" font-style="normal" fill="#222" stroke="#222" stroke-width="0.14" textLength="32" lengthAdjust="spacingAndGlyphs">Controls</text>
<text x="149.8" y="39.4" font-size="9" text-anchor="start" font-weight="normal" font-style="italic" fill="#b0183c" stroke="#b0183c" stroke-width="0.14" textLength="18.8" lengthAdjust="spacingAndGlyphs">N1IC</text>
<text x="51.7" y="60.5" font-size="8.7" text-anchor="start" font-weight="bold" font-style="normal" fill="#111" stroke="#111" stroke-width="0.14" textLength="21.80" lengthAdjust="spacingAndGlyphs">7,617</text>
<text x="89.1" y="56" font-size="8.7" text-anchor="start" font-weight="normal" font-style="normal" fill="#222" stroke="#222" stroke-width="0.14" textLength="19.80" lengthAdjust="spacingAndGlyphs">3,069</text>
<text x="128.6" y="60.6" font-size="8.7" text-anchor="start" font-weight="bold" font-style="normal" fill="#b0183c" stroke="#b0183c" stroke-width="0.14" textLength="21.60" lengthAdjust="spacingAndGlyphs">6,403</text>
<text x="88.3" y="78" font-size="8.7" text-anchor="start" font-weight="normal" font-style="normal" fill="#222" stroke="#222" stroke-width="0.14" textLength="20.60" lengthAdjust="spacingAndGlyphs">4,290</text>
<text x="62.9" y="88.7" font-size="8.7" text-anchor="start" font-weight="normal" font-style="normal" fill="#222" stroke="#222" stroke-width="0.14" textLength="21.10" lengthAdjust="spacingAndGlyphs">2,774</text>
<text x="117.6" y="90.3" font-size="8.7" text-anchor="start" font-weight="normal" font-style="normal" fill="#222" stroke="#222" stroke-width="0.14" textLength="20.70" lengthAdjust="spacingAndGlyphs">2,584</text>
<text x="92" y="109" font-size="8.7" text-anchor="start" font-weight="bold" font-style="normal" fill="#2d6aa3" stroke="#2d6aa3" stroke-width="0.14" textLength="21.00" lengthAdjust="spacingAndGlyphs">7,433</text>
<text x="80.8" y="133.4" font-size="9" font-style="italic" fill="#2d6aa3" stroke="#2d6aa3" stroke-width="0.14"><tspan textLength="37" lengthAdjust="spacingAndGlyphs">N1IC Tcf7</tspan><tspan font-size="5" dy="-3.6">Δ/Δ</tspan></text>
<text x="272" y="14.8" font-size="11.2" text-anchor="start" font-weight="bold" font-style="normal" fill="#000" stroke="#000" stroke-width="0.14" >B</text>
<text x="336.7" y="17" font-size="9.9" fill="#222" textLength="146" lengthAdjust="spacingAndGlyphs" stroke="#222" stroke-width="0.14"><tspan font-style="italic" fill="#b0183c">N1IC</tspan>-specific phenotype ontology</text>
<rect x="403.8" y="24.50" width="62.30" height="6.9" fill="#c3142e"/>
<text x="400" y="30.60" font-size="7.5" text-anchor="end" font-weight="normal" font-style="normal" fill="#222" stroke="#222" stroke-width="0.14" textLength="31.5" lengthAdjust="spacingAndGlyphs">Leukemia</text>
<rect x="403.8" y="33.43" width="49.70" height="6.9" fill="#c3142e"/>
<text x="400" y="39.53" font-size="7.5" text-anchor="end" font-weight="normal" font-style="normal" fill="#222" stroke="#222" stroke-width="0.14" textLength="66.2" lengthAdjust="spacingAndGlyphs">Oculomotor apraxia</text>
<rect x="403.8" y="42.36" width="49.40" height="6.9" fill="#c3142e"/>
<text x="400" y="48.46" font-size="7.5" text-anchor="end" font-weight="normal" font-style="normal" fill="#222" stroke="#222" stroke-width="0.14" textLength="25.4" lengthAdjust="spacingAndGlyphs">Apraxia</text>
<rect x="403.8" y="51.29" width="41.20" height="6.9" fill="#c3142e"/>
<text x="400" y="57.39" font-size="7.5" text-anchor="end" font-weight="normal" font-style="normal" fill="#222" stroke="#222" stroke-width="0.14" textLength="60.0" lengthAdjust="spacingAndGlyphs">Distal amyotrophy</text>
<rect x="403.8" y="60.22" width="40.70" height="6.9" fill="#c3142e"/>
<text x="400" y="66.32" font-size="7.5" text-anchor="end" font-weight="normal" font-style="normal" fill="#222" stroke="#222" stroke-width="0.14" textLength="23.7" lengthAdjust="spacingAndGlyphs">Ketosis</text>
<rect x="403.8" y="69.15" width="39.20" height="6.9" fill="#c3142e"/>
<text x="400" y="75.25" font-size="7.5" text-anchor="end" font-weight="normal" font-style="normal" fill="#222" stroke="#222" stroke-width="0.14" textLength="76.2" lengthAdjust="spacingAndGlyphs">Aplasia cutis congenita</text>
<rect x="403.8" y="78.08" width="33.00" height="6.9" fill="#c3142e"/>
<text x="400" y="84.18" font-size="7.5" text-anchor="end" font-weight="normal" font-style="normal" fill="#222" stroke="#222" stroke-width="0.14" textLength="61.2" lengthAdjust="spacingAndGlyphs">Prominent occiput</text>
<rect x="403.8" y="87.01" width="28.10" height="6.9" fill="#c3142e"/>
<text x="400" y="93.11" font-size="7.5" text-anchor="end" font-weight="normal" font-style="normal" fill="#222" stroke="#222" stroke-width="0.14" textLength="75.4" lengthAdjust="spacingAndGlyphs">Neoplasm of the colon</text>
<rect x="403.8" y="95.94" width="26.10" height="6.9" fill="#c3142e"/>
<text x="400" y="102.04" font-size="7.5" text-anchor="end" font-weight="normal" font-style="normal" fill="#222" stroke="#222" stroke-width="0.14" textLength="73.1" lengthAdjust="spacingAndGlyphs">Macular degeneration</text>
<rect x="403.8" y="104.87" width="25.80" height="6.9" fill="#c3142e"/>
<text x="400" y="110.97" font-size="7.5" text-anchor="end" font-weight="normal" font-style="normal" fill="#222" stroke="#222" stroke-width="0.14" textLength="90.9" lengthAdjust="spacingAndGlyphs">Displacement of the thumb</text>
<line x1="403.3" y1="20" x2="403.3" y2="116.2" stroke="#222" stroke-width="1"/>
<line x1="402.8" y1="115.7" x2="459.3" y2="115.7" stroke="#222" stroke-width="1"/>
<line x1="403.50" y1="115.7" x2="403.50" y2="118" stroke="#222" stroke-width="0.8"/>
<text x="403.50" y="126.4" font-size="7.9" text-anchor="middle" font-weight="normal" font-style="normal" fill="#222" stroke="#222" stroke-width="0.14" >0</text>
<line x1="412.72" y1="115.7" x2="412.72" y2="118" stroke="#222" stroke-width="0.8"/>
<text x="412.72" y="126.4" font-size="7.9" text-anchor="middle" font-weight="normal" font-style="normal" fill="#222" stroke="#222" stroke-width="0.14" >2</text>
<line x1="421.94" y1="115.7" x2="421.94" y2="118" stroke="#222" stroke-width="0.8"/>
<text x="421.94" y="126.4" font-size="7.9" text-anchor="middle" font-weight="normal" font-style="normal" fill="#222" stroke="#222" stroke-width="0.14" >4</text>
<line x1="431.16" y1="115.7" x2="431.16" y2="118" stroke="#222" stroke-width="0.8"/>
<text x="431.16" y="126.4" font-size="7.9" text-anchor="middle" font-weight="normal" font-style="normal" fill="#222" stroke="#222" stroke-width="0.14" >6</text>
<line x1="440.38" y1="115.7" x2="440.38" y2="118" stroke="#222" stroke-width="0.8"/>
<text x="440.38" y="126.4" font-size="7.9" text-anchor="middle" font-weight="normal" font-style="normal" fill="#222" stroke="#222" stroke-width="0.14" >8</text>
<line x1="449.60" y1="115.7" x2="449.60" y2="118" stroke="#222" stroke-width="0.8"/>
<text x="449.60" y="126.4" font-size="7.9" text-anchor="middle" font-weight="normal" font-style="normal" fill="#222" stroke="#222" stroke-width="0.14" >10</text>
<line x1="458.82" y1="115.7" x2="458.82" y2="118" stroke="#222" stroke-width="0.8"/>
<text x="458.82" y="126.4" font-size="7.9" text-anchor="middle" font-weight="normal" font-style="normal" fill="#222" stroke="#222" stroke-width="0.14" >12</text>
<text x="416.5" y="132.6" font-size="9.3" fill="#222" textLength="30.5" lengthAdjust="spacingAndGlyphs" stroke="#222" stroke-width="0.14">-log<tspan font-size="6.6" dy="2.4">10</tspan><tspan dy="-2.4">(P)</tspan></text>
<text x="7" y="144.8" font-size="11.2" text-anchor="start" font-weight="bold" font-style="normal" fill="#000" stroke="#000" stroke-width="0.14" >C</text>
<g stroke="#222" stroke-width="1.1" fill="none">
<line x1="31.6" y1="152.7" x2="31.6" y2="275.5"/>
<line x1="31.1" y1="275" x2="116.5" y2="275"/>
<line x1="29" y1="169.4" x2="31.6" y2="169.4"/>
<line x1="29" y1="204.3" x2="31.6" y2="204.3"/>
<line x1="29" y1="239.2" x2="31.6" y2="239.2"/>
<line x1="29" y1="274.2" x2="31.6" y2="274.2"/>
<line x1="55.1" y1="275" x2="55.1" y2="277.3"/>
<line x1="94.5" y1="275" x2="94.5" y2="277.3"/>
</g>
<text x="26.3" y="172.3" font-size="8.2" text-anchor="end" font-weight="normal" font-style="normal" fill="#222" stroke="#222" stroke-width="0.14" >10</text>
<text x="26.3" y="207.2" font-size="8.2" text-anchor="end" font-weight="normal" font-style="normal" fill="#222" stroke="#222" stroke-width="0.14" >5</text>
<text x="26.3" y="242.1" font-size="8.2" text-anchor="end" font-weight="normal" font-style="normal" fill="#222" stroke="#222" stroke-width="0.14" >0</text>
<text x="26.3" y="277.1" font-size="8.2" text-anchor="end" font-weight="normal" font-style="normal" fill="#222" stroke="#222" stroke-width="0.14" >−5</text>
<text transform="translate(14.6,240.3) rotate(-90)" font-size="7.9" fill="#222" textLength="52.5" lengthAdjust="spacingAndGlyphs" stroke="#222" stroke-width="0.14">log<tspan font-size="5.6" dy="1.8">2</tspan><tspan dy="-1.8">FC RNA-seq</tspan></text>
<line x1="55.1" y1="226.7" x2="55.1" y2="252.3" stroke="#777" stroke-width="1"/>
<line x1="94.5" y1="224" x2="94.5" y2="252.3" stroke="#333" stroke-width="1"/>
<circle cx="55.1" cy="158.70" r="0.75" fill="#111"/>
<circle cx="55.1" cy="173.10" r="0.75" fill="#111"/>
<circle cx="55.1" cy="192.00" r="0.75" fill="#111"/>
<circle cx="55.1" cy="194.00" r="0.75" fill="#111"/>
<line x1="55.1" y1="195.5" x2="55.1" y2="226.7" stroke="#111" stroke-width="1.55" stroke-dasharray="4 0.6 2.5 0.8 5 0.5 1.5 0.7"/>
<circle cx="94.5" cy="158.70" r="0.75" fill="#111"/>
<circle cx="94.5" cy="188.40" r="0.75" fill="#111"/>
<circle cx="94.5" cy="190.40" r="0.75" fill="#111"/>
<circle cx="94.5" cy="192.40" r="0.75" fill="#111"/>
<circle cx="94.5" cy="194.40" r="0.75" fill="#111"/>
<circle cx="94.5" cy="196.40" r="0.75" fill="#111"/>
<circle cx="94.5" cy="198.50" r="0.75" fill="#111"/>
<line x1="94.5" y1="200" x2="94.5" y2="224" stroke="#111" stroke-width="1.55" stroke-dasharray="4 0.6 2.5 0.8 5 0.5 1.5 0.7"/>
<line x1="55.1" y1="252.3" x2="55.1" y2="263.8" stroke="#111" stroke-width="1.55" stroke-dasharray="4 0.6 2.5 0.8 5 0.5 1.5 0.7"/>
<circle cx="55.1" cy="265.50" r="0.75" fill="#111"/>
<circle cx="55.1" cy="267.30" r="0.75" fill="#111"/>
<circle cx="55.1" cy="269.20" r="0.75" fill="#111"/>
<line x1="94.5" y1="252.3" x2="94.5" y2="264.5" stroke="#111" stroke-width="1.55" stroke-dasharray="4 0.6 2.5 0.8 5 0.5 1.5 0.7"/>
<circle cx="94.5" cy="266.20" r="0.75" fill="#111"/>
<circle cx="94.5" cy="268.00" r="0.75" fill="#111"/>
<circle cx="94.5" cy="269.80" r="0.75" fill="#111"/>
<rect x="40.1" y="235.5" width="29.499999999999993" height="8.0" fill="#d8d8d8" stroke="#555" stroke-width="1"/>
<line x1="40.1" y1="236.9" x2="69.6" y2="236.9" stroke="#555" stroke-width="1.3"/>
<rect x="79.3" y="235.5" width="30.299999999999997" height="8.0" fill="#e98ba0" stroke="#9a4858" stroke-width="1"/>
<line x1="79.3" y1="237.0" x2="109.6" y2="237.0" stroke="#9a4858" stroke-width="1.3"/>
<line x1="32" y1="239.2" x2="116" y2="239.2" stroke="#333" stroke-width="0.8" stroke-dasharray="1.6 1.9"/>
<text x="38.3" y="289.2" font-size="8.8" text-anchor="start" font-weight="normal" font-style="normal" fill="#222" stroke="#222" stroke-width="0.14" textLength="33.7" lengthAdjust="spacingAndGlyphs">Controls</text>
<text x="83.5" y="289.2" font-size="8.8" text-anchor="start" font-weight="normal" font-style="italic" fill="#b0183c" stroke="#b0183c" stroke-width="0.14" textLength="19.5" lengthAdjust="spacingAndGlyphs">N1IC</text>
<g stroke="#222" stroke-width="1.1" fill="none">
<line x1="148" y1="148.5" x2="148" y2="275"/>
<line x1="147.5" y1="274.5" x2="234.1" y2="274.5"/>
<line x1="145.4" y1="152.7" x2="148" y2="152.7"/>
<line x1="145.4" y1="195.4" x2="148" y2="195.4"/>
<line x1="145.4" y1="238.1" x2="148" y2="238.1"/>
<line x1="171.5" y1="274.5" x2="171.5" y2="276.8"/>
<line x1="210.6" y1="274.5" x2="210.6" y2="276.8"/>
</g>
<text x="142.3" y="155.6" font-size="8.2" text-anchor="end" font-weight="normal" font-style="normal" fill="#222" stroke="#222" stroke-width="0.14" >5</text>
<text x="142.3" y="198.3" font-size="8.2" text-anchor="end" font-weight="normal" font-style="normal" fill="#222" stroke="#222" stroke-width="0.14" >0</text>
<text x="142.3" y="241.0" font-size="8.2" text-anchor="end" font-weight="normal" font-style="normal" fill="#222" stroke="#222" stroke-width="0.14" >−5</text>
<line x1="171.5" y1="173.8" x2="171.5" y2="218" stroke="#333" stroke-width="1"/>
<line x1="210.9" y1="172.8" x2="210.9" y2="219" stroke="#555" stroke-width="1"/>
<circle cx="171.5" cy="158.00" r="0.75" fill="#111"/>
<circle cx="171.5" cy="165.80" r="0.75" fill="#111"/>
<circle cx="171.5" cy="172.20" r="0.75" fill="#111"/>
<circle cx="210.9" cy="158.00" r="0.75" fill="#111"/>
<circle cx="210.9" cy="165.40" r="0.75" fill="#111"/>
<circle cx="210.9" cy="167.00" r="0.75" fill="#111"/>
<line x1="171.5" y1="218" x2="171.5" y2="241" stroke="#111" stroke-width="1.55" stroke-dasharray="4 0.6 2.5 0.8 5 0.5 1.5 0.7"/>
<circle cx="171.5" cy="244.50" r="0.75" fill="#111"/>
<circle cx="171.5" cy="246.50" r="0.75" fill="#111"/>
<circle cx="171.5" cy="250.00" r="0.75" fill="#111"/>
<circle cx="171.5" cy="256.00" r="0.75" fill="#111"/>
<circle cx="171.5" cy="258.00" r="0.75" fill="#111"/>
<circle cx="171.5" cy="261.50" r="0.75" fill="#111"/>
<circle cx="171.5" cy="264.50" r="0.75" fill="#111"/>
<circle cx="171.5" cy="269.50" r="0.75" fill="#111"/>
<line x1="210.9" y1="219" x2="210.9" y2="241.5" stroke="#111" stroke-width="1.55" stroke-dasharray="4 0.6 2.5 0.8 5 0.5 1.5 0.7"/>
<circle cx="210.9" cy="247.00" r="0.75" fill="#111"/>
<circle cx="210.9" cy="256.00" r="0.75" fill="#111"/>
<circle cx="210.9" cy="258.00" r="0.75" fill="#111"/>
<circle cx="210.9" cy="262.50" r="0.75" fill="#111"/>
<circle cx="210.9" cy="269.50" r="0.75" fill="#111"/>
<rect x="156.4" y="190.1" width="30.099999999999994" height="11.700000000000017" fill="#e98ba0" stroke="#9a4858" stroke-width="1"/>
<line x1="156.4" y1="192.0" x2="186.5" y2="192.0" stroke="#9a4858" stroke-width="1.3"/>
<rect x="196" y="189.7" width="29.80000000000001" height="13.300000000000011" fill="#94b4d4" stroke="#3f5a78" stroke-width="1"/>
<line x1="196" y1="192.0" x2="225.8" y2="192.0" stroke="#3f5a78" stroke-width="1.3"/>
<line x1="148.5" y1="195.4" x2="233.7" y2="195.4" stroke="#333" stroke-width="0.8" stroke-dasharray="1.6 1.9"/>
<text x="160.7" y="288.9" font-size="8.8" text-anchor="start" font-weight="normal" font-style="italic" fill="#b0183c" stroke="#b0183c" stroke-width="0.14" textLength="20.1" lengthAdjust="spacingAndGlyphs">N1IC</text>
<text x="191.3" y="288.9" font-size="8.8" font-style="italic" fill="#2d6aa3" stroke="#2d6aa3" stroke-width="0.14"><tspan textLength="38" lengthAdjust="spacingAndGlyphs">N1IC Tcf7</tspan><tspan font-size="5.2" dy="-3.6">Δ/Δ</tspan></text>
<text x="272" y="142.5" font-size="11.2" text-anchor="start" font-weight="bold" font-style="normal" fill="#000" stroke="#000" stroke-width="0.14" >D</text>
<path d="M291 175.5 C286 179 284.3 185 286.5 189 C288.5 192 291 192.6 295 193 C303 193.8 312 194.2 318 194.8 C325 195.5 330 196.5 334.4 197.9" fill="none" stroke="#3a3a3a" stroke-width="2.0" stroke-linecap="round"/>
<path d="M291 175.5 C286 179 284.3 185 286.5 189 C288.5 192 291 192.6 295 193 C303 193.8 312 194.2 318 194.8 C325 195.5 330 196.5 334.4 197.9" fill="none" stroke="#f4f4f6" stroke-width="0.85" stroke-linecap="round"/>
<ellipse cx="319.6" cy="155.6" rx="2.5" ry="3.3" transform="rotate(28 319.6 155.6)" fill="#f0f0f4" stroke="#3a3a3a" stroke-width="0.8"/>
<path d="M293.4 177.5 C290.5 175 289.8 167 291.9 162.5 C293.5 159 297 156 302.8 154.7 C306 154.2 310 154.3 313.2 155.7 C316 156.5 319.5 157.5 322.5 159.3 C324.5 161.5 325.5 164 326.7 165.6 C328.5 167.5 330.3 169.5 330.9 170.8 C330.2 172.5 329.5 173.5 328.7 173.9 C327.5 175.5 326 177 324.6 178 C323.5 178.5 322.5 178 321.5 177.5 C320 179 319 180.5 318 181 C315 179.5 311 180 307 180.1 C302 181 297 180 293.4 177.5 Z" fill="#f1f1f5" stroke="#3a3a3a" stroke-width="0.9"/>
<ellipse cx="305" cy="170" rx="10" ry="7" fill="#dcdcea" opacity="0.55"/>
<ellipse cx="315.2" cy="161.4" rx="3.0" ry="4.3" transform="rotate(-28 315.2 161.4)" fill="#ececf2" stroke="#3a3a3a" stroke-width="0.85"/>
<circle cx="323.6" cy="168.6" r="1.0" fill="#111"/>
<circle cx="330.6" cy="171" r="0.6" fill="#222"/>
<path d="M299.8 180.3 l1.2 2.6 l4.6 0.2 l0.4 -2.4 Z" fill="#1a1a1a"/>
<path d="M317.5 179 l0.8 4.6 l3.4 0.8 l0.6 -2.6 l-1.6 -2.8 Z" fill="#1a1a1a"/>
<path d="M324.3 175 l0.6 3.4 l2.4 0.4 l0.6 -2.6 Z" fill="#1a1a1a"/>
<circle cx="303.3" cy="164.5" r="4.4" fill="#d8b600" stroke="#6a5a00" stroke-width="0.4"/>
<path d="M303.85 163.55 L305.15 161.30 A3.7 3.7 0 0 0 301.45 161.30 L302.75 163.55 Z" fill="#111"/>
<path d="M302.20 164.50 L299.60 164.50 A3.7 3.7 0 0 0 301.45 167.70 L302.75 165.45 Z" fill="#111"/>
<path d="M303.85 165.45 L305.15 167.70 A3.7 3.7 0 0 0 307.00 164.50 L304.40 164.50 Z" fill="#111"/>
<circle cx="303.3" cy="164.5" r="0.7" fill="#111"/>
<path d="M293.5 254 C289 258 287.5 263 290.5 267.8 C293 270.5 297 271 300.1 271 C307 271.5 315 271.8 319.5 272.1 C326 273 332 274.5 337.8 278.6" fill="none" stroke="#333" stroke-width="2.0" stroke-linecap="round"/>
<path d="M293.5 254 C289 258 287.5 263 290.5 267.8 C293 270.5 297 271 300.1 271 C307 271.5 315 271.8 319.5 272.1 C326 273 332 274.5 337.8 278.6" fill="none" stroke="#8a8a8a" stroke-width="0.85" stroke-linecap="round"/>
<ellipse cx="324" cy="235.8" rx="2.4" ry="3.3" transform="rotate(20 324 235.8)" fill="#8d8d8d" stroke="#333" stroke-width="0.8"/>
<path d="M295.8 253.8 C292.5 250 292.5 242 298 237.7 C301 235 305 233.8 309 233.5 C313 233.2 317 233.8 319.5 235 C322 236 325 237.5 326.5 238.8 C328.5 241.5 330.5 245 332.4 247.4 C333.5 248.5 334.3 249.6 334.6 250.6 C333.5 252 332.5 253 331.4 253.8 C330 255 329 256.5 327.5 257.5 C326 258.5 325 259.5 324.5 261 C321 260.5 318 259.8 315 259.5 C310 259.8 305 259.5 302.3 258.1 C299.5 257 297.5 255.8 295.8 253.8 Z" fill="#8b8b8b" stroke="#333" stroke-width="0.9"/>
<path d="M297 244 C298 239 302 236 307 235" fill="none" stroke="#b0b0b0" stroke-width="0.8" opacity="0.7"/>
<ellipse cx="318" cy="241.2" rx="3.2" ry="4.3" transform="rotate(-25 318 241.2)" fill="#8f8f8f" stroke="#333" stroke-width="0.85"/>
<ellipse cx="318.3" cy="241.6" rx="1.8" ry="2.9" transform="rotate(-25 318.3 241.6)" fill="#a8a8a8"/>
<ellipse cx="327.6" cy="248.6" rx="1.1" ry="0.6" fill="#d0d0d0"/>
<path d="M319.5 258.5 l0.8 4.6 l3.6 0.6 l0.8 -2.6 l-1.8 -2.8 Z" fill="#2a2a2a"/>
<path d="M327 255 l0.4 3.4 l2.2 0.2 l0.6 -2.8 Z" fill="#2a2a2a"/>
<text x="291.6" y="150" font-size="8.1" text-anchor="start" font-weight="normal" font-style="normal" fill="#222" stroke="#222" stroke-width="0.14" textLength="40" lengthAdjust="spacingAndGlyphs">5x poly(I:C)</text>
<text x="295" y="203.4" font-size="8.3" text-anchor="start" font-weight="normal" font-style="normal" fill="#222" stroke="#222" stroke-width="0.14" textLength="26" lengthAdjust="spacingAndGlyphs">CD45.1</text>
<text x="297.9" y="282.4" font-size="8.3" text-anchor="start" font-weight="normal" font-style="normal" fill="#222" stroke="#222" stroke-width="0.14" textLength="26.5" lengthAdjust="spacingAndGlyphs">CD45.2</text>
<text x="312.7" y="222.9" font-size="8.2" text-anchor="start" font-weight="normal" font-style="normal" fill="#222" stroke="#222" stroke-width="0.14" textLength="11.1" lengthAdjust="spacingAndGlyphs">BM</text>
<circle cx="290.8" cy="216" r="4.3" fill="#eb9fc0" stroke="#8d9aa8" stroke-width="0.7"/>
<circle cx="290.8" cy="216" r="3.5999999999999996" fill="none" stroke="#a8dcea" stroke-width="0.5"/>
<ellipse cx="290.5" cy="216.2" rx="2.15" ry="1.72" fill="#de7fa8"/>
<circle cx="297.3" cy="213.9" r="4.2" fill="#eb9fc0" stroke="#8d9aa8" stroke-width="0.7"/>
<circle cx="297.3" cy="213.9" r="3.5" fill="none" stroke="#a8dcea" stroke-width="0.5"/>
<ellipse cx="297.0" cy="214.1" rx="2.1" ry="1.6800000000000002" fill="#de7fa8"/>
<circle cx="301.2" cy="219.6" r="3.8" fill="#eb9fc0" stroke="#8d9aa8" stroke-width="0.7"/>
<circle cx="301.2" cy="219.6" r="3.0999999999999996" fill="none" stroke="#a8dcea" stroke-width="0.5"/>
<ellipse cx="300.9" cy="219.79999999999998" rx="1.9" ry="1.52" fill="#de7fa8"/>
<circle cx="295.2" cy="222.2" r="4.2" fill="#eb9fc0" stroke="#8d9aa8" stroke-width="0.7"/>
<circle cx="295.2" cy="222.2" r="3.5" fill="none" stroke="#a8dcea" stroke-width="0.5"/>
<ellipse cx="294.9" cy="222.39999999999998" rx="2.1" ry="1.6800000000000002" fill="#de7fa8"/>
<line x1="309.8" y1="229.8" x2="309.8" y2="212" stroke="#333" stroke-width="1.2"/>
<path d="M307.6 213 L309.8 209.4 L312 213 Z" fill="#111"/>
<line x1="336.2" y1="167.5" x2="368" y2="167.5" stroke="#222" stroke-width="1"/>
<path d="M367.5 165.4 L371.5 167.5 L367.5 169.6 Z" fill="#111"/>
<text x="344.4" y="163.7" font-size="8" text-anchor="start" font-weight="normal" font-style="normal" fill="#222" stroke="#222" stroke-width="0.14" textLength="16.8" lengthAdjust="spacingAndGlyphs">LSKs</text>
<text x="335.8" y="180.2" font-size="8.4" text-anchor="start" font-weight="bold" font-style="normal" fill="#111" stroke="#111" stroke-width="0.14" textLength="32.7" lengthAdjust="spacingAndGlyphs">ChIP-seq</text>
<path d="M383.8 172 V158 H396" fill="none" stroke="#111" stroke-width="1.1"/>
<path d="M395.6 155.9 L399.6 158 L395.6 160.1 Z" fill="#111"/>
<polygon points="476.0,165.5 490.0,165.6 509.6,165.8 509.6,174.1 490.0,173.9 476.0,173.8" fill="#d4d4d4" stroke="#6a6a6a" stroke-width="0.7"/>
<path d="M478.89 165.33L480.90 173.54M484.19 165.37L486.20 173.59M489.49 165.42L491.50 173.64M494.79 165.47L496.80 173.68M500.09 165.51L502.10 173.73M505.39 165.56L507.40 173.78" stroke="#444" stroke-width="1.9" stroke-linecap="round" fill="none"/>
<path d="M478.89 165.33L480.90 173.54M484.19 165.37L486.20 173.59M489.49 165.42L491.50 173.64M494.79 165.47L496.80 173.68M500.09 165.51L502.10 173.73M505.39 165.56L507.40 173.78" stroke="#888" stroke-width="0.6" stroke-linecap="round" fill="none"/>
<path d="M475.60 173.54L478.89 165.33M480.90 173.54L484.19 165.37M486.20 173.59L489.49 165.42M491.50 173.64L494.79 165.47M496.80 173.68L500.09 165.51M502.10 173.73L505.39 165.56" stroke="#444" stroke-width="2.7" stroke-linecap="round" fill="none"/>
<path d="M475.60 173.54L478.89 165.33M480.90 173.54L484.19 165.37M486.20 173.59L489.49 165.42M491.50 173.64L494.79 165.47M496.80 173.68L500.09 165.51M502.10 173.73L505.39 165.56" stroke="#9a9a9a" stroke-width="1.3" stroke-linecap="round" fill="none"/>
<path d="M387.89 165.06L389.90 173.39M393.19 165.41L395.20 173.74M398.49 165.76L400.50 174.09M403.79 166.11L405.80 174.44M409.09 166.46L411.10 174.79M414.39 166.81L416.40 175.14M419.69 167.16L421.70 175.49M424.99 167.51L427.00 175.84M430.29 167.86L432.30 176.19M435.59 168.21L437.60 176.54M440.89 168.42L442.90 176.44M446.19 167.95L448.20 175.97M451.49 167.48L453.50 175.50M456.79 167.01L458.80 175.03M462.09 166.54L464.10 174.56M467.39 166.07L469.40 174.09M472.69 165.59L474.70 173.62" stroke="#1d3f28" stroke-width="1.9" stroke-linecap="round" fill="none"/>
<path d="M387.89 165.06L389.90 173.39M393.19 165.41L395.20 173.74M398.49 165.76L400.50 174.09M403.79 166.11L405.80 174.44M409.09 166.46L411.10 174.79M414.39 166.81L416.40 175.14M419.69 167.16L421.70 175.49M424.99 167.51L427.00 175.84M430.29 167.86L432.30 176.19M435.59 168.21L437.60 176.54M440.89 168.42L442.90 176.44M446.19 167.95L448.20 175.97M451.49 167.48L453.50 175.50M456.79 167.01L458.80 175.03M462.09 166.54L464.10 174.56M467.39 166.07L469.40 174.09M472.69 165.59L474.70 173.62" stroke="#4e8f62" stroke-width="0.6" stroke-linecap="round" fill="none"/>
<path d="M384.60 173.04L387.89 165.06M389.90 173.39L393.19 165.41M395.20 173.74L398.49 165.76M400.50 174.09L403.79 166.11M405.80 174.44L409.09 166.46M411.10 174.79L414.39 166.81M416.40 175.14L419.69 167.16M421.70 175.49L424.99 167.51M427.00 175.84L430.29 167.86M432.30 176.19L435.59 168.21M437.60 176.54L440.89 168.42M442.90 176.44L446.19 167.95M448.20 175.97L451.49 167.48M453.50 175.50L456.79 167.01M458.80 175.03L462.09 166.54M464.10 174.56L467.39 166.07M469.40 174.09L472.69 165.59" stroke="#1d3f28" stroke-width="2.7" stroke-linecap="round" fill="none"/>
<path d="M384.60 173.04L387.89 165.06M389.90 173.39L393.19 165.41M395.20 173.74L398.49 165.76M400.50 174.09L403.79 166.11M405.80 174.44L409.09 166.46M411.10 174.79L414.39 166.81M416.40 175.14L419.69 167.16M421.70 175.49L424.99 167.51M427.00 175.84L430.29 167.86M432.30 176.19L435.59 168.21M437.60 176.54L440.89 168.42M442.90 176.44L446.19 167.95M448.20 175.97L451.49 167.48M453.50 175.50L456.79 167.01M458.80 175.03L462.09 166.54M464.10 174.56L467.39 166.07M469.40 174.09L472.69 165.59" stroke="#8fd0a6" stroke-width="1.3" stroke-linecap="round" fill="none"/>
<line x1="384.6" y1="166" x2="384.6" y2="176" stroke="#1d3f28" stroke-width="0.8"/>
<text x="415" y="192.3" font-size="8.6" text-anchor="start" font-weight="bold" font-style="normal" fill="#3aa35a" stroke="#3aa35a" stroke-width="0.14" textLength="12.9" lengthAdjust="spacingAndGlyphs">ON</text>
<text x="440.6" y="192.3" font-size="8.2" text-anchor="start" font-weight="normal" font-style="normal" fill="#222" stroke="#222" stroke-width="0.14" textLength="31.7" lengthAdjust="spacingAndGlyphs">H3K27ac</text>
<text x="7.1" y="315.6" font-size="11.2" text-anchor="start" font-weight="bold" font-style="normal" fill="#000" stroke="#000" stroke-width="0.14" >E</text>
<rect x="19.8" y="325.3" width="45.60000000000001" height="151.0" fill="#fceae4"/>
<rect x="37.9" y="396.1" width="27.5" height="0.9" fill="#faded6" opacity="0.7"/>
<rect x="20.5" y="418.6" width="28.5" height="0.9" fill="#faded6" opacity="0.7"/>
<rect x="40.3" y="462.8" width="17.3" height="0.9" fill="#fbe5df" opacity="0.7"/>
<rect x="32.2" y="370.3" width="32.0" height="0.9" fill="#fbe4dd" opacity="0.7"/>
<rect x="26.2" y="325.4" width="39.2" height="0.9" fill="#fbe3dc" opacity="0.7"/>
<rect x="38.0" y="423.8" width="18.1" height="0.9" fill="#fbe6e0" opacity="0.7"/>
<rect x="19.8" y="395.1" width="41.5" height="0.9" fill="#fbe6e0" opacity="0.7"/>
<rect x="42.2" y="337.7" width="23.2" height="0.9" fill="#fbe3dc" opacity="0.7"/>
<rect x="32.1" y="346.1" width="33.3" height="0.9" fill="#f9d4c9" opacity="0.7"/>
<rect x="35.5" y="337.2" width="29.9" height="0.9" fill="#f9d4c8" opacity="0.7"/>
<rect x="28.0" y="451.5" width="19.0" height="0.9" fill="#fbe6e0" opacity="0.7"/>
<rect x="26.7" y="332.2" width="32.9" height="0.9" fill="#fbe6e0" opacity="0.7"/>
<rect x="27.5" y="325.3" width="23.6" height="0.9" fill="#f9d8ce" opacity="0.7"/>
<rect x="27.0" y="434.9" width="29.0" height="0.9" fill="#fbe4dd" opacity="0.7"/>
<rect x="42.0" y="411.5" width="14.4" height="0.9" fill="#fbe7e1" opacity="0.7"/>
<rect x="20.2" y="420.6" width="38.8" height="0.9" fill="#fae0d7" opacity="0.7"/>
<rect x="20.0" y="355.6" width="15.2" height="0.9" fill="#faddd4" opacity="0.7"/>
<rect x="24.3" y="335.1" width="37.8" height="0.9" fill="#f8d3c7" opacity="0.7"/>
<rect x="27.7" y="459.7" width="25.0" height="0.9" fill="#fbe4dd" opacity="0.7"/>
<rect x="22.3" y="379.1" width="37.6" height="0.9" fill="#fadcd3" opacity="0.7"/>
<rect x="20.6" y="430.4" width="43.9" height="0.9" fill="#fae1d9" opacity="0.7"/>
<rect x="33.7" y="328.6" width="31.7" height="0.9" fill="#fae0d8" opacity="0.7"/>
<rect x="32.2" y="352.2" width="23.7" height="0.9" fill="#f9d6cb" opacity="0.7"/>
<rect x="21.6" y="349.3" width="18.4" height="0.9" fill="#fbe4de" opacity="0.7"/>
<rect x="23.5" y="408.5" width="15.2" height="0.9" fill="#fadcd3" opacity="0.7"/>
<rect x="29.1" y="473.1" width="21.3" height="0.9" fill="#fbe6e0" opacity="0.7"/>
<rect x="30.2" y="390.9" width="27.1" height="0.9" fill="#fadcd3" opacity="0.7"/>
<rect x="20.5" y="326.8" width="29.4" height="0.9" fill="#f8d3c7" opacity="0.7"/>
<rect x="36.5" y="439.2" width="28.9" height="0.9" fill="#fbe7e1" opacity="0.7"/>
<rect x="22.2" y="397.5" width="27.6" height="0.9" fill="#faded5" opacity="0.7"/>
<rect x="26.5" y="332.5" width="28.1" height="0.9" fill="#f9d5ca" opacity="0.7"/>
<rect x="42.1" y="476.1" width="23.3" height="0.9" fill="#fbe6e0" opacity="0.7"/>
<rect x="30.7" y="373.2" width="23.0" height="0.9" fill="#fadcd3" opacity="0.7"/>
<rect x="28.4" y="360.7" width="37.0" height="0.9" fill="#fbe5df" opacity="0.7"/>
<rect x="31.2" y="466.7" width="24.5" height="0.9" fill="#fbe6df" opacity="0.7"/>
<rect x="37.6" y="328.5" width="27.8" height="0.9" fill="#fae2da" opacity="0.7"/>
<rect x="37.5" y="354.9" width="27.9" height="0.9" fill="#f9d9cf" opacity="0.7"/>
<rect x="28.1" y="403.7" width="36.2" height="0.9" fill="#fadfd6" opacity="0.7"/>
<rect x="37.4" y="345.1" width="28.0" height="0.9" fill="#faded5" opacity="0.7"/>
<rect x="34.6" y="346.6" width="30.8" height="0.9" fill="#f9d5ca" opacity="0.7"/>
<rect x="25.5" y="325.4" width="35.1" height="0.9" fill="#fadbd2" opacity="0.7"/>
<rect x="34.6" y="369.3" width="30.8" height="0.9" fill="#f9dad0" opacity="0.7"/>
<rect x="36.6" y="353.2" width="28.8" height="0.9" fill="#fadbd2" opacity="0.7"/>
<rect x="39.6" y="353.5" width="25.8" height="0.9" fill="#f9d8cd" opacity="0.7"/>
<rect x="31.6" y="470.6" width="30.6" height="0.9" fill="#fbe5df" opacity="0.7"/>
<rect x="41.2" y="333.8" width="24.2" height="0.9" fill="#f9d6cb" opacity="0.7"/>
<rect x="36.5" y="409.0" width="19.2" height="0.9" fill="#fae0d8" opacity="0.7"/>
<rect x="35.0" y="426.8" width="27.1" height="0.9" fill="#fbe3db" opacity="0.7"/>
<rect x="34.3" y="396.3" width="31.1" height="0.9" fill="#faded5" opacity="0.7"/>
<rect x="29.9" y="325.8" width="34.4" height="0.9" fill="#fbe4dd" opacity="0.7"/>
<rect x="34.2" y="338.6" width="15.0" height="0.9" fill="#f9d9cf" opacity="0.7"/>
<rect x="21.0" y="370.7" width="17.9" height="0.9" fill="#fbe4dd" opacity="0.7"/>
<rect x="24.2" y="349.4" width="14.8" height="0.9" fill="#fbe4de" opacity="0.7"/>
<rect x="33.7" y="369.7" width="31.7" height="0.9" fill="#fae1da" opacity="0.7"/>
<rect x="19.8" y="340.5" width="26.6" height="0.9" fill="#f9d5ca" opacity="0.7"/>
<rect x="22.4" y="344.8" width="40.2" height="0.9" fill="#fadfd7" opacity="0.7"/>
<rect x="33.8" y="356.6" width="16.7" height="0.9" fill="#fbe7e1" opacity="0.7"/>
<rect x="33.0" y="382.5" width="32.4" height="0.9" fill="#fbe3dc" opacity="0.7"/>
<rect x="38.3" y="434.9" width="27.1" height="0.9" fill="#fbe5de" opacity="0.7"/>
<rect x="33.4" y="356.0" width="31.7" height="0.9" fill="#fbe5df" opacity="0.7"/>
<rect x="33.7" y="466.1" width="24.9" height="0.9" fill="#fbe4de" opacity="0.7"/>
<rect x="22.3" y="451.4" width="31.7" height="0.9" fill="#fbe8e2" opacity="0.7"/>
<rect x="34.2" y="394.7" width="31.2" height="0.9" fill="#fbe6e0" opacity="0.7"/>
<rect x="25.0" y="356.8" width="23.0" height="0.9" fill="#fae0d8" opacity="0.7"/>
<rect x="41.7" y="469.7" width="23.7" height="0.9" fill="#fbe7e1" opacity="0.7"/>
<rect x="42.2" y="391.2" width="23.2" height="0.9" fill="#fbe4de" opacity="0.7"/>
<rect x="42.2" y="362.3" width="23.2" height="0.9" fill="#fae2db" opacity="0.7"/>
<rect x="22.6" y="345.7" width="33.5" height="0.9" fill="#faded6" opacity="0.7"/>
<rect x="37.6" y="366.4" width="27.8" height="0.9" fill="#fbe3dc" opacity="0.7"/>
<rect x="26.0" y="325.4" width="39.4" height="0.9" fill="#fadcd2" opacity="0.7"/>
<rect x="25.9" y="427.2" width="18.6" height="0.9" fill="#fbe6df" opacity="0.7"/>
<rect x="33.7" y="473.6" width="28.8" height="0.9" fill="#fbe7e1" opacity="0.7"/>
<rect x="36.8" y="400.1" width="17.5" height="0.9" fill="#fae0d8" opacity="0.7"/>
<rect x="32.0" y="422.7" width="24.4" height="0.9" fill="#fbe5df" opacity="0.7"/>
<rect x="30.4" y="346.9" width="25.2" height="0.9" fill="#faddd4" opacity="0.7"/>
<rect x="20.6" y="419.6" width="21.7" height="0.9" fill="#fae2db" opacity="0.7"/>
<rect x="40.0" y="368.2" width="25.4" height="0.9" fill="#f9d8ce" opacity="0.7"/>
<rect x="29.6" y="325.5" width="32.1" height="0.9" fill="#f9d6cb" opacity="0.7"/>
<rect x="30.8" y="412.2" width="34.6" height="0.9" fill="#fae1d9" opacity="0.7"/>
<rect x="39.2" y="358.2" width="20.0" height="0.9" fill="#fae1d9" opacity="0.7"/>
<rect x="42.5" y="370.1" width="10.9" height="0.9" fill="#fff" opacity="0.3"/>
<rect x="38.8" y="451.6" width="21.0" height="0.9" fill="#fff" opacity="0.3"/>
<rect x="41.2" y="368.5" width="24.2" height="0.9" fill="#fff" opacity="0.3"/>
<rect x="32.9" y="346.8" width="24.1" height="0.9" fill="#fff" opacity="0.3"/>
<rect x="28.8" y="400.4" width="13.3" height="0.9" fill="#fff" opacity="0.3"/>
<rect x="42.0" y="413.8" width="11.0" height="0.9" fill="#fff" opacity="0.3"/>
<rect x="42.2" y="360.0" width="23.2" height="0.9" fill="#fff" opacity="0.3"/>
<rect x="20.5" y="425.5" width="28.9" height="0.9" fill="#fff" opacity="0.3"/>
<rect x="47.1" y="473.1" width="18.3" height="0.9" fill="#fff" opacity="0.3"/>
<rect x="42.8" y="332.7" width="15.1" height="0.9" fill="#fff" opacity="0.3"/>
<rect x="45.9" y="422.8" width="19.5" height="0.9" fill="#fff" opacity="0.3"/>
<rect x="27.8" y="345.6" width="34.2" height="0.9" fill="#fff" opacity="0.3"/>
<rect x="36.5" y="347.9" width="20.4" height="0.9" fill="#fff" opacity="0.3"/>
<rect x="36.8" y="349.6" width="10.3" height="0.9" fill="#fff" opacity="0.3"/>
<rect x="30.2" y="341.6" width="11.1" height="0.9" fill="#fff" opacity="0.3"/>
<rect x="35.5" y="334.0" width="29.4" height="0.9" fill="#fff" opacity="0.3"/>
<rect x="23.5" y="457.9" width="20.9" height="0.9" fill="#fff" opacity="0.3"/>
<rect x="36.2" y="372.8" width="22.5" height="0.9" fill="#fff" opacity="0.3"/>
<rect x="30.0" y="467.0" width="10.6" height="0.9" fill="#fff" opacity="0.3"/>
<rect x="23.9" y="430.6" width="26.4" height="0.9" fill="#fff" opacity="0.3"/>
<rect x="44.7" y="401.7" width="20.7" height="0.9" fill="#fff" opacity="0.3"/>
<rect x="27.0" y="419.1" width="24.2" height="0.9" fill="#fff" opacity="0.3"/>
<rect x="40.3" y="363.7" width="23.3" height="0.9" fill="#fff" opacity="0.3"/>
<rect x="26.2" y="345.5" width="19.3" height="0.9" fill="#fff" opacity="0.3"/>
<rect x="24.7" y="436.5" width="28.6" height="0.9" fill="#fff" opacity="0.3"/>
<rect x="22.1" y="424.2" width="27.4" height="0.9" fill="#fff" opacity="0.3"/>
<rect x="23.2" y="339.1" width="25.4" height="0.9" fill="#fff" opacity="0.3"/>
<rect x="43.8" y="361.3" width="21.6" height="0.9" fill="#fff" opacity="0.3"/>
<rect x="41.6" y="374.1" width="9.9" height="0.9" fill="#fff" opacity="0.3"/>
<rect x="21.3" y="434.8" width="13.2" height="0.9" fill="#fff" opacity="0.3"/>
<rect x="38.4" y="469.1" width="15.2" height="0.9" fill="#fff" opacity="0.3"/>
<rect x="46.4" y="342.8" width="19.0" height="0.9" fill="#fff" opacity="0.3"/>
<rect x="23.6" y="449.2" width="26.2" height="0.9" fill="#fff" opacity="0.3"/>
<rect x="26.2" y="378.8" width="18.2" height="0.9" fill="#fff" opacity="0.3"/>
<rect x="29.3" y="418.0" width="19.7" height="0.9" fill="#fff" opacity="0.3"/>
<rect x="42.5" y="345.9" width="22.9" height="0.9" fill="#fff" opacity="0.3"/>
<rect x="31.7" y="446.8" width="32.4" height="0.9" fill="#fff" opacity="0.3"/>
<rect x="36.0" y="403.4" width="24.8" height="0.9" fill="#fff" opacity="0.3"/>
<rect x="30.6" y="437.1" width="11.8" height="0.9" fill="#fff" opacity="0.3"/>
<rect x="25.3" y="330.3" width="10.2" height="0.9" fill="#fff" opacity="0.3"/>
<rect x="33.0" y="459.6" width="29.9" height="0.9" fill="#fff" opacity="0.3"/>
<rect x="32.7" y="325.4" width="32.7" height="0.9" fill="#fff" opacity="0.3"/>
<rect x="31.5" y="418.8" width="21.9" height="0.9" fill="#fff" opacity="0.3"/>
<rect x="24.0" y="340.4" width="13.5" height="0.9" fill="#fff" opacity="0.3"/>
<rect x="30.4" y="381.9" width="33.2" height="0.9" fill="#fff" opacity="0.3"/>
<rect x="26.8" y="348.3" width="16.7" height="0.9" fill="#fff" opacity="0.3"/>
<rect x="27.7" y="349.7" width="15.6" height="0.9" fill="#fff" opacity="0.3"/>
<rect x="20.7" y="398.1" width="34.4" height="0.9" fill="#fff" opacity="0.3"/>
<rect x="45.5" y="381.0" width="19.9" height="0.9" fill="#fff" opacity="0.3"/>
<rect x="32.7" y="427.0" width="32.7" height="0.9" fill="#fff" opacity="0.3"/>
<rect x="38.1" y="343.1" width="17.1" height="0.9" fill="#fff" opacity="0.3"/>
<rect x="39.8" y="427.1" width="13.6" height="0.9" fill="#fff" opacity="0.3"/>
<rect x="20.5" y="355.7" width="15.4" height="0.9" fill="#fff" opacity="0.3"/>
<rect x="30.8" y="337.1" width="34.6" height="0.9" fill="#fff" opacity="0.3"/>
<rect x="28.3" y="380.3" width="21.9" height="0.9" fill="#fff" opacity="0.3"/>
<rect x="39.8" y="368.1" width="25.6" height="0.9" fill="#fff" opacity="0.3"/>
<rect x="26.4" y="350.0" width="27.5" height="0.9" fill="#fff" opacity="0.3"/>
<rect x="37.5" y="467.3" width="20.9" height="0.9" fill="#fff" opacity="0.3"/>
<rect x="20.0" y="472.6" width="10.8" height="0.9" fill="#fff" opacity="0.3"/>
<rect x="31.0" y="443.0" width="10.3" height="0.9" fill="#fff" opacity="0.3"/>
<rect x="19.8" y="325.3" width="45.60000000000001" height="1.05" fill="url(#g0_0)"/>
<rect x="19.8" y="326.3" width="45.60000000000001" height="1.05" fill="url(#g0_1)"/>
<rect x="42.6" y="326.3" width="8.1" height="1" fill="#ed8f72" opacity="0.45"/>
<rect x="19.8" y="327.3" width="45.60000000000001" height="1.05" fill="url(#g0_2)"/>
<rect x="19.8" y="328.3" width="45.60000000000001" height="1.05" fill="url(#g0_3)"/>
<rect x="42.6" y="328.3" width="12.9" height="1" fill="#e27a5e" opacity="0.45"/>
<rect x="19.8" y="329.3" width="45.60000000000001" height="1.05" fill="url(#g0_4)"/>
<rect x="19.8" y="330.3" width="45.60000000000001" height="1.05" fill="url(#g0_5)"/>
<rect x="19.8" y="331.3" width="45.60000000000001" height="1.05" fill="url(#g0_6)"/>
<rect x="19.8" y="332.3" width="45.60000000000001" height="1.05" fill="url(#g0_7)"/>
<rect x="19.8" y="333.3" width="45.60000000000001" height="1.05" fill="url(#g0_8)"/>
<rect x="19.8" y="334.3" width="45.60000000000001" height="1.05" fill="url(#g0_9)"/>
<rect x="19.8" y="335.3" width="45.60000000000001" height="1.05" fill="url(#g0_10)"/>
<rect x="19.8" y="336.3" width="45.60000000000001" height="1.05" fill="url(#g0_11)"/>
<rect x="19.8" y="337.3" width="45.60000000000001" height="1.05" fill="url(#g0_12)"/>
<rect x="19.8" y="338.3" width="45.60000000000001" height="1.05" fill="url(#g0_13)"/>
<rect x="19.8" y="339.3" width="45.60000000000001" height="1.05" fill="url(#g0_14)"/>
<rect x="19.8" y="340.3" width="45.60000000000001" height="1.05" fill="url(#g0_15)"/>
<rect x="19.8" y="341.3" width="45.60000000000001" height="1.05" fill="url(#g0_16)"/>
<rect x="19.8" y="342.3" width="45.60000000000001" height="1.05" fill="url(#g0_17)"/>
<rect x="19.8" y="343.3" width="45.60000000000001" height="1.05" fill="url(#g0_18)"/>
<rect x="19.8" y="344.3" width="45.60000000000001" height="1.05" fill="url(#g0_19)"/>
<rect x="42.6" y="344.3" width="12.0" height="1" fill="#eb8c6e" opacity="0.45"/>
<rect x="19.8" y="345.3" width="45.60000000000001" height="1.05" fill="url(#g0_20)"/>
<rect x="19.8" y="346.3" width="45.60000000000001" height="1.05" fill="url(#g0_21)"/>
<rect x="24.6" y="346.3" width="18.0" height="1" fill="#ec8f71" opacity="0.45"/>
<rect x="19.8" y="347.3" width="45.60000000000001" height="1.05" fill="url(#g0_22)"/>
<rect x="19.8" y="348.3" width="45.60000000000001" height="1.05" fill="url(#g0_23)"/>
<rect x="19.8" y="349.3" width="45.60000000000001" height="1.05" fill="url(#g0_24)"/>
<rect x="33.9" y="349.3" width="8.7" height="1" fill="#f3aa92" opacity="0.45"/>
<rect x="19.8" y="350.3" width="45.60000000000001" height="1.05" fill="url(#g0_25)"/>
<rect x="35.4" y="350.3" width="7.2" height="1" fill="#f3a890" opacity="0.45"/>
<rect x="19.8" y="351.3" width="45.60000000000001" height="1.05" fill="url(#g0_26)"/>
<rect x="19.8" y="352.3" width="45.60000000000001" height="1.05" fill="url(#g0_27)"/>
<rect x="19.8" y="353.3" width="45.60000000000001" height="1.05" fill="url(#g0_28)"/>
<rect x="19.8" y="354.3" width="45.60000000000001" height="1.05" fill="url(#g0_29)"/>
<rect x="19.8" y="355.3" width="45.60000000000001" height="1.05" fill="url(#g0_30)"/>
<rect x="27.1" y="355.3" width="15.5" height="1" fill="#f3a991" opacity="0.45"/>
<rect x="19.8" y="356.3" width="45.60000000000001" height="1.05" fill="url(#g0_31)"/>
<rect x="19.8" y="357.3" width="45.60000000000001" height="1.05" fill="url(#g0_32)"/>
<rect x="19.8" y="358.3" width="45.60000000000001" height="1.05" fill="url(#g0_33)"/>
<rect x="19.8" y="359.3" width="45.60000000000001" height="1.05" fill="url(#g0_34)"/>
<rect x="19.8" y="360.3" width="45.60000000000001" height="1.05" fill="url(#g0_35)"/>
<rect x="24.6" y="360.3" width="18.0" height="1" fill="#f5bcaa" opacity="0.45"/>
<rect x="19.8" y="361.3" width="45.60000000000001" height="1.05" fill="url(#g0_36)"/>
<rect x="19.8" y="362.3" width="45.60000000000001" height="1.05" fill="url(#g0_37)"/>
<rect x="19.8" y="363.3" width="45.60000000000001" height="1.05" fill="url(#g0_38)"/>
<rect x="19.8" y="364.3" width="45.60000000000001" height="1.05" fill="url(#g0_39)"/>
<rect x="19.8" y="365.3" width="45.60000000000001" height="1.05" fill="url(#g0_40)"/>
<rect x="19.8" y="366.3" width="45.60000000000001" height="1.05" fill="url(#g0_41)"/>
<rect x="19.8" y="367.3" width="45.60000000000001" height="1.05" fill="url(#g0_42)"/>
<rect x="19.8" y="368.3" width="45.60000000000001" height="1.05" fill="url(#g0_43)"/>
<rect x="19.8" y="369.3" width="45.60000000000001" height="1.05" fill="url(#g0_44)"/>
<rect x="19.8" y="370.3" width="45.60000000000001" height="1.05" fill="url(#g0_45)"/>
<rect x="19.8" y="371.3" width="45.60000000000001" height="1.05" fill="url(#g0_46)"/>
<rect x="19.8" y="372.3" width="45.60000000000001" height="1.05" fill="url(#g0_47)"/>
<rect x="19.8" y="373.3" width="45.60000000000001" height="1.05" fill="url(#g0_48)"/>
<rect x="24.6" y="373.3" width="18.0" height="1" fill="#f7cabc" opacity="0.45"/>
<rect x="19.8" y="374.3" width="45.60000000000001" height="1.05" fill="url(#g0_49)"/>
<rect x="19.8" y="375.3" width="45.60000000000001" height="1.05" fill="url(#g0_50)"/>
<rect x="19.8" y="376.3" width="45.60000000000001" height="1.05" fill="url(#g0_51)"/>
<rect x="19.8" y="377.3" width="45.60000000000001" height="1.05" fill="url(#g0_52)"/>
<rect x="19.8" y="378.3" width="45.60000000000001" height="1.05" fill="url(#g0_53)"/>
<rect x="19.8" y="379.3" width="45.60000000000001" height="1.05" fill="url(#g0_54)"/>
<rect x="19.8" y="380.3" width="45.60000000000001" height="1.05" fill="url(#g0_55)"/>
<rect x="42.6" y="380.3" width="15.2" height="1" fill="#f9dad0" opacity="0.45"/>
<rect x="19.8" y="381.3" width="45.60000000000001" height="1.05" fill="url(#g0_56)"/>
<rect x="19.8" y="382.3" width="45.60000000000001" height="1.05" fill="url(#g0_57)"/>
<rect x="19.8" y="383.3" width="45.60000000000001" height="1.05" fill="url(#g0_58)"/>
<rect x="19.8" y="384.3" width="45.60000000000001" height="1.05" fill="url(#g0_59)"/>
<rect x="19.8" y="385.3" width="45.60000000000001" height="1.05" fill="url(#g0_60)"/>
<rect x="19.8" y="386.3" width="45.60000000000001" height="1.05" fill="url(#g0_61)"/>
<rect x="19.8" y="387.3" width="45.60000000000001" height="1.05" fill="url(#g0_62)"/>
<rect x="19.8" y="388.3" width="45.60000000000001" height="1.05" fill="url(#g0_63)"/>
<rect x="19.8" y="389.3" width="45.60000000000001" height="1.05" fill="url(#g0_64)"/>
<rect x="19.8" y="390.3" width="45.60000000000001" height="1.05" fill="url(#g0_65)"/>
<rect x="19.8" y="391.3" width="45.60000000000001" height="1.05" fill="url(#g0_66)"/>
<rect x="19.8" y="392.3" width="45.60000000000001" height="1.05" fill="url(#g0_67)"/>
<rect x="19.8" y="393.3" width="45.60000000000001" height="1.05" fill="url(#g0_68)"/>
<rect x="19.8" y="394.3" width="45.60000000000001" height="1.05" fill="url(#g0_69)"/>
<rect x="19.8" y="395.3" width="45.60000000000001" height="1.05" fill="url(#g0_70)"/>
<rect x="19.8" y="396.3" width="45.60000000000001" height="1.05" fill="url(#g0_71)"/>
<rect x="19.8" y="397.3" width="45.60000000000001" height="1.05" fill="url(#g0_72)"/>
<rect x="19.8" y="398.3" width="45.60000000000001" height="1.05" fill="url(#g0_73)"/>
<rect x="19.8" y="399.3" width="45.60000000000001" height="1.05" fill="url(#g0_74)"/>
<line x1="42.6" y1="327.5" x2="42.6" y2="476" stroke="#42302c" stroke-width="1.3" stroke-dasharray="2.1 3.8"/>
<rect x="19.8" y="325.3" width="45.60000000000001" height="151" fill="none" stroke="#111" stroke-width="1"/>
<line x1="19.8" y1="476.6" x2="65.4" y2="476.6" stroke="#111" stroke-width="1.3"/>
<path d="M19.80 476.6v1.8 M21.07 476.6v1.8 M22.33 476.6v1.8 M23.60 476.6v1.8 M24.87 476.6v1.8 M26.13 476.6v1.8 M27.40 476.6v1.8 M28.67 476.6v1.8 M29.93 476.6v1.8 M31.20 476.6v1.8 M32.47 476.6v1.8 M33.73 476.6v1.8 M35.00 476.6v1.8 M36.27 476.6v1.8 M37.53 476.6v1.8 M38.80 476.6v1.8 M40.07 476.6v1.8 M41.33 476.6v1.8 M42.60 476.6v1.8 M43.87 476.6v1.8 M45.13 476.6v1.8 M46.40 476.6v1.8 M47.67 476.6v1.8 M48.93 476.6v1.8 M50.20 476.6v1.8 M51.47 476.6v1.8 M52.73 476.6v1.8 M54.00 476.6v1.8 M55.27 476.6v1.8 M56.53 476.6v1.8 M57.80 476.6v1.8 M59.07 476.6v1.8 M60.33 476.6v1.8 M61.60 476.6v1.8 M62.87 476.6v1.8 M64.13 476.6v1.8 M65.40 476.6v1.8" stroke="#111" stroke-width="0.7"/>
<line x1="42.6" y1="476.6" x2="42.6" y2="478.6" stroke="#111" stroke-width="0.9"/>
<rect x="86.8" y="325.3" width="45.500000000000014" height="151.0" fill="#fceae4"/>
<rect x="94.4" y="335.1" width="20.0" height="0.9" fill="#f9d9d0" opacity="0.7"/>
<rect x="97.7" y="373.5" width="28.2" height="0.9" fill="#fae0d8" opacity="0.7"/>
<rect x="102.5" y="343.3" width="24.0" height="0.9" fill="#fbe3db" opacity="0.7"/>
<rect x="106.5" y="405.8" width="25.8" height="0.9" fill="#faded6" opacity="0.7"/>
<rect x="103.5" y="340.1" width="28.8" height="0.9" fill="#fbe3dc" opacity="0.7"/>
<rect x="106.7" y="337.0" width="25.6" height="0.9" fill="#f9d9cf" opacity="0.7"/>
<rect x="87.0" y="338.3" width="44.7" height="0.9" fill="#fae1da" opacity="0.7"/>
<rect x="99.0" y="338.7" width="32.6" height="0.9" fill="#f9d8ce" opacity="0.7"/>
<rect x="100.4" y="379.4" width="23.3" height="0.9" fill="#fadbd2" opacity="0.7"/>
<rect x="107.8" y="330.0" width="18.3" height="0.9" fill="#faddd4" opacity="0.7"/>
<rect x="90.4" y="407.5" width="20.2" height="0.9" fill="#fae0d9" opacity="0.7"/>
<rect x="96.1" y="408.0" width="28.9" height="0.9" fill="#fbe3dc" opacity="0.7"/>
<rect x="100.2" y="329.2" width="30.7" height="0.9" fill="#f9d8ce" opacity="0.7"/>
<rect x="105.5" y="352.1" width="26.8" height="0.9" fill="#f9d8ce" opacity="0.7"/>
<rect x="90.3" y="328.4" width="16.2" height="0.9" fill="#fbe4de" opacity="0.7"/>
<rect x="91.4" y="400.8" width="40.9" height="0.9" fill="#fae1d9" opacity="0.7"/>
<rect x="105.4" y="397.4" width="26.9" height="0.9" fill="#faddd5" opacity="0.7"/>
<rect x="89.8" y="379.4" width="35.6" height="0.9" fill="#f9d9ce" opacity="0.7"/>
<rect x="105.4" y="449.3" width="19.4" height="0.9" fill="#fbe5df" opacity="0.7"/>
<rect x="95.8" y="362.4" width="36.0" height="0.9" fill="#fbe3dc" opacity="0.7"/>
<rect x="106.0" y="332.1" width="23.2" height="0.9" fill="#fae0d9" opacity="0.7"/>
<rect x="99.1" y="330.8" width="14.2" height="0.9" fill="#f8d2c6" opacity="0.7"/>
<rect x="90.5" y="387.0" width="37.2" height="0.9" fill="#fbe6df" opacity="0.7"/>
<rect x="98.5" y="401.5" width="31.4" height="0.9" fill="#fbe2db" opacity="0.7"/>
<rect x="104.3" y="368.7" width="28.0" height="0.9" fill="#fbe6e0" opacity="0.7"/>
<rect x="100.7" y="363.3" width="28.7" height="0.9" fill="#fae1d9" opacity="0.7"/>
<rect x="107.4" y="362.3" width="18.5" height="0.9" fill="#f9d8ce" opacity="0.7"/>
<rect x="108.6" y="334.3" width="23.7" height="0.9" fill="#f9d7cc" opacity="0.7"/>
<rect x="105.6" y="346.9" width="26.7" height="0.9" fill="#fbe7e1" opacity="0.7"/>
<rect x="108.9" y="422.4" width="23.4" height="0.9" fill="#fae1d9" opacity="0.7"/>
<rect x="88.5" y="459.8" width="40.4" height="0.9" fill="#fbe7e1" opacity="0.7"/>
<rect x="89.8" y="410.4" width="23.2" height="0.9" fill="#fadfd7" opacity="0.7"/>
<rect x="94.3" y="389.7" width="32.9" height="0.9" fill="#fbe7e1" opacity="0.7"/>
<rect x="95.8" y="461.3" width="26.6" height="0.9" fill="#fbe5de" opacity="0.7"/>
<rect x="109.4" y="377.2" width="14.0" height="0.9" fill="#fadcd3" opacity="0.7"/>
<rect x="87.8" y="458.7" width="21.8" height="0.9" fill="#fbe4de" opacity="0.7"/>
<rect x="90.5" y="344.3" width="18.0" height="0.9" fill="#fbe3dd" opacity="0.7"/>
<rect x="89.2" y="406.0" width="40.5" height="0.9" fill="#fbe3dc" opacity="0.7"/>
<rect x="105.7" y="438.5" width="26.6" height="0.9" fill="#fbe6e0" opacity="0.7"/>
<rect x="102.9" y="380.0" width="29.4" height="0.9" fill="#fbe6e0" opacity="0.7"/>
<rect x="90.5" y="449.9" width="41.8" height="0.9" fill="#fbe2db" opacity="0.7"/>
<rect x="99.1" y="328.7" width="33.2" height="0.9" fill="#fae0d8" opacity="0.7"/>
<rect x="104.4" y="379.9" width="27.9" height="0.9" fill="#f9dad0" opacity="0.7"/>
<rect x="87.3" y="406.1" width="34.3" height="0.9" fill="#fbe2db" opacity="0.7"/>
<rect x="109.5" y="461.0" width="14.2" height="0.9" fill="#fbe7e1" opacity="0.7"/>
<rect x="103.0" y="359.8" width="29.3" height="0.9" fill="#f9dad0" opacity="0.7"/>
<rect x="90.0" y="345.1" width="34.2" height="0.9" fill="#fbe3dc" opacity="0.7"/>
<rect x="103.1" y="325.6" width="27.9" height="0.9" fill="#fbe5de" opacity="0.7"/>
<rect x="107.8" y="325.5" width="24.5" height="0.9" fill="#faded6" opacity="0.7"/>
<rect x="98.2" y="343.7" width="21.4" height="0.9" fill="#fbe5df" opacity="0.7"/>
<rect x="100.6" y="344.4" width="31.7" height="0.9" fill="#fbe7e1" opacity="0.7"/>
<rect x="93.5" y="376.2" width="38.8" height="0.9" fill="#faded6" opacity="0.7"/>
<rect x="87.1" y="345.8" width="34.7" height="0.9" fill="#f9d5ca" opacity="0.7"/>
<rect x="91.7" y="446.2" width="19.0" height="0.9" fill="#fbe4de" opacity="0.7"/>
<rect x="92.2" y="473.6" width="26.8" height="0.9" fill="#fbe5df" opacity="0.7"/>
<rect x="87.5" y="437.0" width="31.0" height="0.9" fill="#fae1da" opacity="0.7"/>
<rect x="102.6" y="341.6" width="29.2" height="0.9" fill="#fbe6e0" opacity="0.7"/>
<rect x="94.1" y="337.6" width="22.0" height="0.9" fill="#f9d8cd" opacity="0.7"/>
<rect x="106.0" y="347.2" width="24.1" height="0.9" fill="#fbe4dd" opacity="0.7"/>
<rect x="99.1" y="460.3" width="33.2" height="0.9" fill="#fbe5de" opacity="0.7"/>
<rect x="101.7" y="356.5" width="15.7" height="0.9" fill="#fbe7e1" opacity="0.7"/>
<rect x="95.7" y="459.2" width="16.5" height="0.9" fill="#fbe3dd" opacity="0.7"/>
<rect x="108.8" y="466.2" width="23.5" height="0.9" fill="#fbe7e1" opacity="0.7"/>
<rect x="90.3" y="449.6" width="24.3" height="0.9" fill="#fbe3dc" opacity="0.7"/>
<rect x="107.9" y="364.6" width="20.3" height="0.9" fill="#fbe4de" opacity="0.7"/>
<rect x="90.2" y="340.3" width="39.5" height="0.9" fill="#fbe4dd" opacity="0.7"/>
<rect x="89.7" y="337.0" width="39.5" height="0.9" fill="#fadbd2" opacity="0.7"/>
<rect x="88.1" y="427.7" width="35.0" height="0.9" fill="#fadfd7" opacity="0.7"/>
<rect x="102.5" y="416.0" width="23.9" height="0.9" fill="#fbe4de" opacity="0.7"/>
<rect x="105.6" y="389.3" width="24.2" height="0.9" fill="#fadcd3" opacity="0.7"/>
<rect x="92.1" y="342.7" width="28.7" height="0.9" fill="#f9d4c9" opacity="0.7"/>
<rect x="99.0" y="362.7" width="17.4" height="0.9" fill="#fae1da" opacity="0.7"/>
<rect x="106.1" y="369.7" width="26.2" height="0.9" fill="#fadcd4" opacity="0.7"/>
<rect x="91.1" y="339.7" width="18.3" height="0.9" fill="#fae2db" opacity="0.7"/>
<rect x="108.3" y="348.1" width="24.0" height="0.9" fill="#fae0d8" opacity="0.7"/>
<rect x="91.2" y="457.8" width="31.8" height="0.9" fill="#fbe5df" opacity="0.7"/>
<rect x="92.0" y="410.0" width="37.9" height="0.9" fill="#faddd4" opacity="0.7"/>
<rect x="98.6" y="466.9" width="17.1" height="0.9" fill="#fbe6e0" opacity="0.7"/>
<rect x="104.6" y="405.1" width="27.7" height="0.9" fill="#fbe7e1" opacity="0.7"/>
<rect x="88.4" y="437.6" width="41.6" height="0.9" fill="#fae1da" opacity="0.7"/>
<rect x="112.7" y="432.0" width="19.6" height="0.9" fill="#fff" opacity="0.3"/>
<rect x="110.2" y="397.9" width="14.6" height="0.9" fill="#fff" opacity="0.3"/>
<rect x="105.2" y="471.7" width="27.1" height="0.9" fill="#fff" opacity="0.3"/>
<rect x="102.5" y="407.8" width="15.7" height="0.9" fill="#fff" opacity="0.3"/>
<rect x="101.1" y="446.3" width="15.2" height="0.9" fill="#fff" opacity="0.3"/>
<rect x="102.7" y="439.2" width="20.8" height="0.9" fill="#fff" opacity="0.3"/>
<rect x="98.3" y="447.0" width="27.6" height="0.9" fill="#fff" opacity="0.3"/>
<rect x="96.8" y="407.2" width="18.8" height="0.9" fill="#fff" opacity="0.3"/>
<rect x="91.8" y="414.2" width="13.8" height="0.9" fill="#fff" opacity="0.3"/>
<rect x="106.3" y="372.9" width="14.2" height="0.9" fill="#fff" opacity="0.3"/>
<rect x="95.7" y="441.4" width="34.9" height="0.9" fill="#fff" opacity="0.3"/>
<rect x="110.1" y="341.7" width="22.2" height="0.9" fill="#fff" opacity="0.3"/>
<rect x="104.0" y="450.6" width="17.2" height="0.9" fill="#fff" opacity="0.3"/>
<rect x="92.9" y="469.8" width="28.3" height="0.9" fill="#fff" opacity="0.3"/>
<rect x="88.7" y="386.7" width="20.4" height="0.9" fill="#fff" opacity="0.3"/>
<rect x="108.3" y="373.3" width="14.7" height="0.9" fill="#fff" opacity="0.3"/>
<rect x="87.6" y="450.2" width="11.5" height="0.9" fill="#fff" opacity="0.3"/>
<rect x="112.2" y="419.3" width="20.1" height="0.9" fill="#fff" opacity="0.3"/>
<rect x="111.7" y="349.8" width="20.6" height="0.9" fill="#fff" opacity="0.3"/>
<rect x="90.4" y="326.2" width="19.7" height="0.9" fill="#fff" opacity="0.3"/>
<rect x="102.2" y="405.4" width="30.1" height="0.9" fill="#fff" opacity="0.3"/>
<rect x="113.0" y="418.0" width="19.3" height="0.9" fill="#fff" opacity="0.3"/>
<rect x="104.8" y="376.4" width="27.5" height="0.9" fill="#fff" opacity="0.3"/>
<rect x="88.1" y="390.3" width="19.5" height="0.9" fill="#fff" opacity="0.3"/>
<rect x="111.3" y="356.2" width="18.1" height="0.9" fill="#fff" opacity="0.3"/>
<rect x="103.7" y="394.0" width="10.7" height="0.9" fill="#fff" opacity="0.3"/>
<rect x="100.9" y="338.9" width="16.0" height="0.9" fill="#fff" opacity="0.3"/>
<rect x="107.1" y="334.5" width="25.2" height="0.9" fill="#fff" opacity="0.3"/>
<rect x="90.3" y="418.0" width="31.3" height="0.9" fill="#fff" opacity="0.3"/>
<rect x="89.8" y="475.5" width="27.7" height="0.9" fill="#fff" opacity="0.3"/>
<rect x="89.8" y="333.1" width="18.2" height="0.9" fill="#fff" opacity="0.3"/>
<rect x="99.3" y="471.3" width="23.8" height="0.9" fill="#fff" opacity="0.3"/>
<rect x="97.5" y="459.2" width="17.0" height="0.9" fill="#fff" opacity="0.3"/>
<rect x="93.2" y="337.6" width="25.8" height="0.9" fill="#fff" opacity="0.3"/>
<rect x="113.8" y="458.8" width="16.3" height="0.9" fill="#fff" opacity="0.3"/>
<rect x="95.5" y="426.3" width="24.4" height="0.9" fill="#fff" opacity="0.3"/>
<rect x="112.2" y="327.7" width="20.1" height="0.9" fill="#fff" opacity="0.3"/>
<rect x="104.2" y="439.7" width="19.5" height="0.9" fill="#fff" opacity="0.3"/>
<rect x="100.6" y="452.4" width="27.2" height="0.9" fill="#fff" opacity="0.3"/>
<rect x="91.8" y="366.2" width="28.7" height="0.9" fill="#fff" opacity="0.3"/>
<rect x="88.0" y="373.0" width="17.3" height="0.9" fill="#fff" opacity="0.3"/>
<rect x="92.0" y="389.0" width="12.9" height="0.9" fill="#fff" opacity="0.3"/>
<rect x="99.4" y="433.2" width="22.9" height="0.9" fill="#fff" opacity="0.3"/>
<rect x="88.1" y="433.4" width="23.2" height="0.9" fill="#fff" opacity="0.3"/>
<rect x="94.4" y="474.2" width="28.2" height="0.9" fill="#fff" opacity="0.3"/>
<rect x="97.1" y="352.2" width="21.4" height="0.9" fill="#fff" opacity="0.3"/>
<rect x="93.3" y="358.1" width="18.2" height="0.9" fill="#fff" opacity="0.3"/>
<rect x="97.5" y="396.8" width="22.6" height="0.9" fill="#fff" opacity="0.3"/>
<rect x="101.6" y="362.9" width="30.0" height="0.9" fill="#fff" opacity="0.3"/>
<rect x="96.6" y="396.3" width="31.5" height="0.9" fill="#fff" opacity="0.3"/>
<rect x="100.4" y="419.9" width="17.6" height="0.9" fill="#fff" opacity="0.3"/>
<rect x="90.0" y="469.7" width="34.3" height="0.9" fill="#fff" opacity="0.3"/>
<rect x="111.8" y="371.5" width="10.3" height="0.9" fill="#fff" opacity="0.3"/>
<rect x="99.9" y="430.1" width="25.9" height="0.9" fill="#fff" opacity="0.3"/>
<rect x="97.1" y="338.4" width="19.0" height="0.9" fill="#fff" opacity="0.3"/>
<rect x="106.4" y="409.7" width="25.9" height="0.9" fill="#fff" opacity="0.3"/>
<rect x="88.1" y="369.4" width="14.1" height="0.9" fill="#fff" opacity="0.3"/>
<rect x="101.8" y="463.6" width="27.3" height="0.9" fill="#fff" opacity="0.3"/>
<rect x="108.5" y="475.8" width="23.8" height="0.9" fill="#fff" opacity="0.3"/>
<rect x="91.4" y="442.7" width="31.5" height="0.9" fill="#fff" opacity="0.3"/>
<rect x="86.8" y="325.3" width="45.500000000000014" height="1.05" fill="url(#g1_0)"/>
<rect x="86.8" y="326.3" width="45.500000000000014" height="1.05" fill="url(#g1_1)"/>
<rect x="109.6" y="326.3" width="20.0" height="1" fill="#e88668" opacity="0.45"/>
<rect x="86.8" y="327.3" width="45.500000000000014" height="1.05" fill="url(#g1_2)"/>
<rect x="86.8" y="328.3" width="45.500000000000014" height="1.05" fill="url(#g1_3)"/>
<rect x="94.2" y="328.3" width="15.3" height="1" fill="#ee9274" opacity="0.45"/>
<rect x="86.8" y="329.3" width="45.500000000000014" height="1.05" fill="url(#g1_4)"/>
<rect x="86.8" y="330.3" width="45.500000000000014" height="1.05" fill="url(#g1_5)"/>
<rect x="86.8" y="331.3" width="45.500000000000014" height="1.05" fill="url(#g1_6)"/>
<rect x="86.8" y="332.3" width="45.500000000000014" height="1.05" fill="url(#g1_7)"/>
<rect x="86.8" y="333.3" width="45.500000000000014" height="1.05" fill="url(#g1_8)"/>
<rect x="109.6" y="333.3" width="17.0" height="1" fill="#e47d60" opacity="0.45"/>
<rect x="86.8" y="334.3" width="45.500000000000014" height="1.05" fill="url(#g1_9)"/>
<rect x="86.8" y="335.3" width="45.500000000000014" height="1.05" fill="url(#g1_10)"/>
<rect x="86.8" y="336.3" width="45.500000000000014" height="1.05" fill="url(#g1_11)"/>
<rect x="86.8" y="337.3" width="45.500000000000014" height="1.05" fill="url(#g1_12)"/>
<rect x="91.7" y="337.3" width="17.8" height="1" fill="#d76246" opacity="0.45"/>
<rect x="86.8" y="338.3" width="45.500000000000014" height="1.05" fill="url(#g1_13)"/>
<rect x="86.8" y="339.3" width="45.500000000000014" height="1.05" fill="url(#g1_14)"/>
<rect x="109.6" y="339.3" width="19.6" height="1" fill="#f3aa92" opacity="0.45"/>
<rect x="86.8" y="340.3" width="45.500000000000014" height="1.05" fill="url(#g1_15)"/>
<rect x="92.3" y="340.3" width="17.3" height="1" fill="#d86448" opacity="0.45"/>
<rect x="86.8" y="341.3" width="45.500000000000014" height="1.05" fill="url(#g1_16)"/>
<rect x="86.8" y="342.3" width="45.500000000000014" height="1.05" fill="url(#g1_17)"/>
<rect x="90.9" y="342.3" width="18.7" height="1" fill="#f6c2b1" opacity="0.45"/>
<rect x="86.8" y="343.3" width="45.500000000000014" height="1.05" fill="url(#g1_18)"/>
<rect x="86.8" y="344.3" width="45.500000000000014" height="1.05" fill="url(#g1_19)"/>
<rect x="109.6" y="344.3" width="10.5" height="1" fill="#e78366" opacity="0.45"/>
<rect x="86.8" y="345.3" width="45.500000000000014" height="1.05" fill="url(#g1_20)"/>
<rect x="86.8" y="346.3" width="45.500000000000014" height="1.05" fill="url(#g1_21)"/>
<rect x="109.6" y="346.3" width="7.6" height="1" fill="#f2a287" opacity="0.45"/>
<rect x="86.8" y="347.3" width="45.500000000000014" height="1.05" fill="url(#g1_22)"/>
<rect x="86.8" y="348.3" width="45.500000000000014" height="1.05" fill="url(#g1_23)"/>
<rect x="86.8" y="349.3" width="45.500000000000014" height="1.05" fill="url(#g1_24)"/>
<rect x="92.3" y="349.3" width="17.3" height="1" fill="#db6a4e" opacity="0.45"/>
<rect x="86.8" y="350.3" width="45.500000000000014" height="1.05" fill="url(#g1_25)"/>
<rect x="96.3" y="350.3" width="13.2" height="1" fill="#f4b29c" opacity="0.45"/>
<rect x="86.8" y="351.3" width="45.500000000000014" height="1.05" fill="url(#g1_26)"/>
<rect x="86.8" y="352.3" width="45.500000000000014" height="1.05" fill="url(#g1_27)"/>
<rect x="86.8" y="353.3" width="45.500000000000014" height="1.05" fill="url(#g1_28)"/>
<rect x="94.8" y="353.3" width="14.8" height="1" fill="#f09577" opacity="0.45"/>
<rect x="86.8" y="354.3" width="45.500000000000014" height="1.05" fill="url(#g1_29)"/>
<rect x="86.8" y="355.3" width="45.500000000000014" height="1.05" fill="url(#g1_30)"/>
<rect x="86.8" y="356.3" width="45.500000000000014" height="1.05" fill="url(#g1_31)"/>
<rect x="86.8" y="357.3" width="45.500000000000014" height="1.05" fill="url(#g1_32)"/>
<rect x="86.8" y="358.3" width="45.500000000000014" height="1.05" fill="url(#g1_33)"/>
<rect x="86.8" y="359.3" width="45.500000000000014" height="1.05" fill="url(#g1_34)"/>
<rect x="86.8" y="360.3" width="45.500000000000014" height="1.05" fill="url(#g1_35)"/>
<rect x="98.5" y="360.3" width="11.1" height="1" fill="#f5baa6" opacity="0.45"/>
<rect x="86.8" y="361.3" width="45.500000000000014" height="1.05" fill="url(#g1_36)"/>
<rect x="109.6" y="361.3" width="13.1" height="1" fill="#f9d5ca" opacity="0.45"/>
<rect x="86.8" y="362.3" width="45.500000000000014" height="1.05" fill="url(#g1_37)"/>
<rect x="86.8" y="363.3" width="45.500000000000014" height="1.05" fill="url(#g1_38)"/>
<rect x="86.8" y="364.3" width="45.500000000000014" height="1.05" fill="url(#g1_39)"/>
<rect x="109.6" y="364.3" width="11.5" height="1" fill="#f2a78e" opacity="0.45"/>
<rect x="86.8" y="365.3" width="45.500000000000014" height="1.05" fill="url(#g1_40)"/>
<rect x="86.8" y="366.3" width="45.500000000000014" height="1.05" fill="url(#g1_41)"/>
<rect x="109.6" y="366.3" width="9.4" height="1" fill="#f6c4b4" opacity="0.45"/>
<rect x="86.8" y="367.3" width="45.500000000000014" height="1.05" fill="url(#g1_42)"/>
<rect x="100.4" y="367.3" width="9.2" height="1" fill="#f7c8b9" opacity="0.45"/>
<rect x="86.8" y="368.3" width="45.500000000000014" height="1.05" fill="url(#g1_43)"/>
<rect x="86.8" y="369.3" width="45.500000000000014" height="1.05" fill="url(#g1_44)"/>
<rect x="89.9" y="369.3" width="19.7" height="1" fill="#f9dad1" opacity="0.45"/>
<rect x="86.8" y="370.3" width="45.500000000000014" height="1.05" fill="url(#g1_45)"/>
<rect x="86.8" y="371.3" width="45.500000000000014" height="1.05" fill="url(#g1_46)"/>
<rect x="86.8" y="372.3" width="45.500000000000014" height="1.05" fill="url(#g1_47)"/>
<rect x="86.8" y="373.3" width="45.500000000000014" height="1.05" fill="url(#g1_48)"/>
<rect x="86.8" y="374.3" width="45.500000000000014" height="1.05" fill="url(#g1_49)"/>
<rect x="86.8" y="375.3" width="45.500000000000014" height="1.05" fill="url(#g1_50)"/>
<rect x="86.8" y="376.3" width="45.500000000000014" height="1.05" fill="url(#g1_51)"/>
<rect x="86.8" y="377.3" width="45.500000000000014" height="1.05" fill="url(#g1_52)"/>
<rect x="86.8" y="378.3" width="45.500000000000014" height="1.05" fill="url(#g1_53)"/>
<rect x="86.8" y="379.3" width="45.500000000000014" height="1.05" fill="url(#g1_54)"/>
<rect x="86.8" y="380.3" width="45.500000000000014" height="1.05" fill="url(#g1_55)"/>
<rect x="86.8" y="381.3" width="45.500000000000014" height="1.05" fill="url(#g1_56)"/>
<rect x="86.8" y="382.3" width="45.500000000000014" height="1.05" fill="url(#g1_57)"/>
<rect x="86.8" y="383.3" width="45.500000000000014" height="1.05" fill="url(#g1_58)"/>
<rect x="86.8" y="384.3" width="45.500000000000014" height="1.05" fill="url(#g1_59)"/>
<rect x="109.6" y="384.3" width="15.8" height="1" fill="#f8d0c3" opacity="0.45"/>
<rect x="86.8" y="385.3" width="45.500000000000014" height="1.05" fill="url(#g1_60)"/>
<rect x="86.8" y="386.3" width="45.500000000000014" height="1.05" fill="url(#g1_61)"/>
<rect x="86.8" y="387.3" width="45.500000000000014" height="1.05" fill="url(#g1_62)"/>
<rect x="109.6" y="387.3" width="17.6" height="1" fill="#fadfd7" opacity="0.45"/>
<rect x="86.8" y="388.3" width="45.500000000000014" height="1.05" fill="url(#g1_63)"/>
<rect x="86.8" y="389.3" width="45.500000000000014" height="1.05" fill="url(#g1_64)"/>
<rect x="86.8" y="390.3" width="45.500000000000014" height="1.05" fill="url(#g1_65)"/>
<rect x="86.8" y="391.3" width="45.500000000000014" height="1.05" fill="url(#g1_66)"/>
<rect x="86.8" y="392.3" width="45.500000000000014" height="1.05" fill="url(#g1_67)"/>
<rect x="86.8" y="393.3" width="45.500000000000014" height="1.05" fill="url(#g1_68)"/>
<rect x="86.8" y="394.3" width="45.500000000000014" height="1.05" fill="url(#g1_69)"/>
<rect x="86.8" y="395.3" width="45.500000000000014" height="1.05" fill="url(#g1_70)"/>
<rect x="86.8" y="396.3" width="45.500000000000014" height="1.05" fill="url(#g1_71)"/>
<rect x="86.8" y="397.3" width="45.500000000000014" height="1.05" fill="url(#g1_72)"/>
<rect x="86.8" y="398.3" width="45.500000000000014" height="1.05" fill="url(#g1_73)"/>
<rect x="86.8" y="399.3" width="45.500000000000014" height="1.05" fill="url(#g1_74)"/>
<line x1="109.6" y1="327.5" x2="109.6" y2="476" stroke="#42302c" stroke-width="1.1" stroke-dasharray="3.2 2.8"/>
<rect x="86.8" y="325.3" width="45.500000000000014" height="151" fill="none" stroke="#111" stroke-width="1"/>
<line x1="86.8" y1="476.6" x2="132.3" y2="476.6" stroke="#111" stroke-width="1.3"/>
<path d="M86.80 476.6v1.8 M88.06 476.6v1.8 M89.33 476.6v1.8 M90.59 476.6v1.8 M91.86 476.6v1.8 M93.12 476.6v1.8 M94.38 476.6v1.8 M95.65 476.6v1.8 M96.91 476.6v1.8 M98.17 476.6v1.8 M99.44 476.6v1.8 M100.70 476.6v1.8 M101.97 476.6v1.8 M103.23 476.6v1.8 M104.49 476.6v1.8 M105.76 476.6v1.8 M107.02 476.6v1.8 M108.29 476.6v1.8 M109.55 476.6v1.8 M110.81 476.6v1.8 M112.08 476.6v1.8 M113.34 476.6v1.8 M114.61 476.6v1.8 M115.87 476.6v1.8 M117.13 476.6v1.8 M118.40 476.6v1.8 M119.66 476.6v1.8 M120.93 476.6v1.8 M122.19 476.6v1.8 M123.45 476.6v1.8 M124.72 476.6v1.8 M125.98 476.6v1.8 M127.24 476.6v1.8 M128.51 476.6v1.8 M129.77 476.6v1.8 M131.04 476.6v1.8 M132.30 476.6v1.8" stroke="#111" stroke-width="0.7"/>
<line x1="109.6" y1="476.6" x2="109.6" y2="478.6" stroke="#111" stroke-width="0.9"/>
<rect x="155.4" y="325.3" width="45.79999999999998" height="151.0" fill="#fceae4"/>
<rect x="164.4" y="325.4" width="35.7" height="0.9" fill="#fbe5df" opacity="0.7"/>
<rect x="160.7" y="331.7" width="38.0" height="0.9" fill="#fbe5df" opacity="0.7"/>
<rect x="170.6" y="332.4" width="18.1" height="0.9" fill="#f9d7cd" opacity="0.7"/>
<rect x="164.8" y="380.9" width="36.4" height="0.9" fill="#fae1d9" opacity="0.7"/>
<rect x="176.9" y="328.7" width="24.3" height="0.9" fill="#fbe7e2" opacity="0.7"/>
<rect x="163.8" y="336.7" width="37.4" height="0.9" fill="#fae1d9" opacity="0.7"/>
<rect x="168.8" y="337.8" width="31.3" height="0.9" fill="#fbe3dc" opacity="0.7"/>
<rect x="163.5" y="465.3" width="20.3" height="0.9" fill="#fbe5de" opacity="0.7"/>
<rect x="156.1" y="438.8" width="37.3" height="0.9" fill="#fae1d9" opacity="0.7"/>
<rect x="160.4" y="445.8" width="39.3" height="0.9" fill="#fbe4dd" opacity="0.7"/>
<rect x="170.1" y="416.5" width="20.8" height="0.9" fill="#fbe6e0" opacity="0.7"/>
<rect x="163.1" y="326.2" width="26.4" height="0.9" fill="#fae0d8" opacity="0.7"/>
<rect x="177.4" y="400.5" width="23.8" height="0.9" fill="#faddd5" opacity="0.7"/>
<rect x="162.4" y="474.7" width="19.4" height="0.9" fill="#fbe6e0" opacity="0.7"/>
<rect x="170.8" y="396.3" width="16.7" height="0.9" fill="#fae1d9" opacity="0.7"/>
<rect x="169.2" y="336.1" width="32.0" height="0.9" fill="#f9d4c9" opacity="0.7"/>
<rect x="176.2" y="328.8" width="25.0" height="0.9" fill="#fadfd7" opacity="0.7"/>
<rect x="165.8" y="474.3" width="35.4" height="0.9" fill="#fbe7e2" opacity="0.7"/>
<rect x="168.3" y="366.6" width="17.5" height="0.9" fill="#f9dad1" opacity="0.7"/>
<rect x="158.1" y="329.0" width="20.0" height="0.9" fill="#f8d2c6" opacity="0.7"/>
<rect x="175.0" y="351.6" width="26.2" height="0.9" fill="#f9dad0" opacity="0.7"/>
<rect x="161.8" y="374.8" width="25.7" height="0.9" fill="#fadbd2" opacity="0.7"/>
<rect x="156.3" y="394.3" width="17.3" height="0.9" fill="#fadfd7" opacity="0.7"/>
<rect x="171.3" y="331.6" width="29.9" height="0.9" fill="#f9d8cd" opacity="0.7"/>
<rect x="172.9" y="424.2" width="28.3" height="0.9" fill="#fbe5df" opacity="0.7"/>
<rect x="164.0" y="353.3" width="22.8" height="0.9" fill="#fbe8e2" opacity="0.7"/>
<rect x="158.3" y="334.7" width="41.5" height="0.9" fill="#fbe7e1" opacity="0.7"/>
<rect x="160.1" y="326.6" width="19.9" height="0.9" fill="#f9dad0" opacity="0.7"/>
<rect x="159.6" y="435.4" width="28.3" height="0.9" fill="#fbe5df" opacity="0.7"/>
<rect x="175.1" y="409.7" width="26.1" height="0.9" fill="#fae2db" opacity="0.7"/>
<rect x="166.0" y="379.0" width="35.2" height="0.9" fill="#faddd4" opacity="0.7"/>
<rect x="158.2" y="369.9" width="38.8" height="0.9" fill="#fbe6df" opacity="0.7"/>
<rect x="171.2" y="419.6" width="30.0" height="0.9" fill="#faded6" opacity="0.7"/>
<rect x="158.1" y="333.8" width="27.4" height="0.9" fill="#f9d5ca" opacity="0.7"/>
<rect x="162.4" y="331.8" width="27.4" height="0.9" fill="#fadfd7" opacity="0.7"/>
<rect x="161.0" y="412.8" width="38.7" height="0.9" fill="#fae2db" opacity="0.7"/>
<rect x="156.2" y="417.6" width="33.4" height="0.9" fill="#fadfd7" opacity="0.7"/>
<rect x="160.0" y="451.8" width="39.8" height="0.9" fill="#fbe6e0" opacity="0.7"/>
<rect x="174.1" y="355.3" width="26.1" height="0.9" fill="#fae0d8" opacity="0.7"/>
<rect x="163.3" y="336.7" width="36.1" height="0.9" fill="#fbe3dc" opacity="0.7"/>
<rect x="156.9" y="355.8" width="21.7" height="0.9" fill="#f9d9cf" opacity="0.7"/>
<rect x="166.8" y="396.5" width="34.4" height="0.9" fill="#fae1da" opacity="0.7"/>
<rect x="156.2" y="344.7" width="29.2" height="0.9" fill="#fbe4dd" opacity="0.7"/>
<rect x="155.5" y="347.0" width="13.7" height="0.9" fill="#faded6" opacity="0.7"/>
<rect x="162.3" y="357.4" width="38.9" height="0.9" fill="#f9dad0" opacity="0.7"/>
<rect x="173.2" y="388.4" width="21.2" height="0.9" fill="#fae2db" opacity="0.7"/>
<rect x="167.8" y="392.9" width="24.0" height="0.9" fill="#fadcd3" opacity="0.7"/>
<rect x="159.7" y="328.9" width="25.7" height="0.9" fill="#fadbd1" opacity="0.7"/>
<rect x="170.8" y="382.0" width="30.4" height="0.9" fill="#f9dad0" opacity="0.7"/>
<rect x="164.3" y="443.6" width="35.5" height="0.9" fill="#fbe6e0" opacity="0.7"/>
<rect x="164.8" y="384.0" width="36.4" height="0.9" fill="#fbe4de" opacity="0.7"/>
<rect x="156.5" y="340.9" width="44.3" height="0.9" fill="#f9d9cf" opacity="0.7"/>
<rect x="177.9" y="407.6" width="23.3" height="0.9" fill="#fbe4dd" opacity="0.7"/>
<rect x="166.7" y="327.1" width="34.5" height="0.9" fill="#fbe2db" opacity="0.7"/>
<rect x="162.6" y="331.8" width="15.2" height="0.9" fill="#fbe7e1" opacity="0.7"/>
<rect x="165.5" y="361.4" width="18.3" height="0.9" fill="#faded6" opacity="0.7"/>
<rect x="165.5" y="325.7" width="29.1" height="0.9" fill="#f9d5ca" opacity="0.7"/>
<rect x="176.0" y="371.7" width="25.2" height="0.9" fill="#fadcd3" opacity="0.7"/>
<rect x="159.3" y="416.0" width="16.6" height="0.9" fill="#fbe4de" opacity="0.7"/>
<rect x="168.4" y="443.7" width="32.8" height="0.9" fill="#fbe7e2" opacity="0.7"/>
<rect x="165.0" y="350.0" width="36.2" height="0.9" fill="#fae0d8" opacity="0.7"/>
<rect x="156.3" y="407.6" width="37.2" height="0.9" fill="#faded6" opacity="0.7"/>
<rect x="174.1" y="367.5" width="27.1" height="0.9" fill="#fae1d9" opacity="0.7"/>
<rect x="176.2" y="455.3" width="25.0" height="0.9" fill="#fbe4dd" opacity="0.7"/>
<rect x="165.8" y="384.4" width="18.1" height="0.9" fill="#fadcd3" opacity="0.7"/>
<rect x="175.3" y="389.4" width="17.8" height="0.9" fill="#fadbd2" opacity="0.7"/>
<rect x="163.2" y="357.6" width="38.0" height="0.9" fill="#fbe4dd" opacity="0.7"/>
<rect x="161.6" y="363.1" width="27.9" height="0.9" fill="#fbe2db" opacity="0.7"/>
<rect x="159.7" y="404.8" width="21.0" height="0.9" fill="#fbe4dd" opacity="0.7"/>
<rect x="159.3" y="342.8" width="37.9" height="0.9" fill="#f9d5ca" opacity="0.7"/>
<rect x="161.5" y="329.6" width="38.7" height="0.9" fill="#f9d6cb" opacity="0.7"/>
<rect x="157.6" y="364.7" width="39.4" height="0.9" fill="#fbe6e0" opacity="0.7"/>
<rect x="163.5" y="382.0" width="35.9" height="0.9" fill="#fae0d9" opacity="0.7"/>
<rect x="169.2" y="372.3" width="23.8" height="0.9" fill="#fbe7e1" opacity="0.7"/>
<rect x="173.1" y="441.0" width="17.6" height="0.9" fill="#fbe4dd" opacity="0.7"/>
<rect x="174.9" y="412.0" width="26.3" height="0.9" fill="#fae1da" opacity="0.7"/>
<rect x="173.0" y="383.6" width="22.2" height="0.9" fill="#fadfd7" opacity="0.7"/>
<rect x="169.0" y="382.5" width="31.1" height="0.9" fill="#fadcd3" opacity="0.7"/>
<rect x="161.3" y="443.0" width="16.1" height="0.9" fill="#fae1da" opacity="0.7"/>
<rect x="177.6" y="394.4" width="23.6" height="0.9" fill="#fbe6e0" opacity="0.7"/>
<rect x="177.9" y="406.0" width="23.3" height="0.9" fill="#fff" opacity="0.3"/>
<rect x="167.9" y="346.8" width="14.1" height="0.9" fill="#fff" opacity="0.3"/>
<rect x="159.1" y="394.8" width="33.3" height="0.9" fill="#fff" opacity="0.3"/>
<rect x="166.1" y="379.0" width="33.8" height="0.9" fill="#fff" opacity="0.3"/>
<rect x="164.6" y="449.6" width="22.9" height="0.9" fill="#fff" opacity="0.3"/>
<rect x="160.6" y="425.4" width="12.9" height="0.9" fill="#fff" opacity="0.3"/>
<rect x="159.9" y="454.8" width="28.6" height="0.9" fill="#fff" opacity="0.3"/>
<rect x="171.7" y="436.7" width="18.7" height="0.9" fill="#fff" opacity="0.3"/>
<rect x="177.0" y="454.8" width="11.1" height="0.9" fill="#fff" opacity="0.3"/>
<rect x="172.9" y="460.8" width="17.1" height="0.9" fill="#fff" opacity="0.3"/>
<rect x="158.1" y="350.8" width="31.5" height="0.9" fill="#fff" opacity="0.3"/>
<rect x="165.0" y="453.3" width="14.1" height="0.9" fill="#fff" opacity="0.3"/>
<rect x="166.8" y="336.4" width="17.3" height="0.9" fill="#fff" opacity="0.3"/>
<rect x="163.6" y="333.1" width="31.7" height="0.9" fill="#fff" opacity="0.3"/>
<rect x="166.5" y="335.1" width="23.3" height="0.9" fill="#fff" opacity="0.3"/>
<rect x="156.4" y="349.7" width="11.2" height="0.9" fill="#fff" opacity="0.3"/>
<rect x="182.2" y="347.0" width="19.0" height="0.9" fill="#fff" opacity="0.3"/>
<rect x="180.1" y="431.8" width="18.1" height="0.9" fill="#fff" opacity="0.3"/>
<rect x="179.3" y="363.0" width="21.9" height="0.9" fill="#fff" opacity="0.3"/>
<rect x="165.3" y="464.7" width="20.5" height="0.9" fill="#fff" opacity="0.3"/>
<rect x="179.6" y="433.7" width="13.7" height="0.9" fill="#fff" opacity="0.3"/>
<rect x="155.8" y="365.0" width="24.5" height="0.9" fill="#fff" opacity="0.3"/>
<rect x="171.0" y="464.8" width="13.2" height="0.9" fill="#fff" opacity="0.3"/>
<rect x="173.3" y="429.7" width="12.1" height="0.9" fill="#fff" opacity="0.3"/>
<rect x="173.5" y="463.3" width="22.6" height="0.9" fill="#fff" opacity="0.3"/>
<rect x="159.8" y="377.3" width="22.0" height="0.9" fill="#fff" opacity="0.3"/>
<rect x="161.8" y="380.5" width="26.9" height="0.9" fill="#fff" opacity="0.3"/>
<rect x="181.6" y="425.2" width="19.6" height="0.9" fill="#fff" opacity="0.3"/>
<rect x="175.1" y="395.7" width="19.5" height="0.9" fill="#fff" opacity="0.3"/>
<rect x="171.0" y="390.8" width="30.2" height="0.9" fill="#fff" opacity="0.3"/>
<rect x="168.1" y="331.6" width="18.4" height="0.9" fill="#fff" opacity="0.3"/>
<rect x="181.5" y="446.8" width="19.7" height="0.9" fill="#fff" opacity="0.3"/>
<rect x="171.7" y="337.3" width="25.3" height="0.9" fill="#fff" opacity="0.3"/>
<rect x="176.7" y="428.1" width="21.9" height="0.9" fill="#fff" opacity="0.3"/>
<rect x="176.5" y="408.2" width="9.9" height="0.9" fill="#fff" opacity="0.3"/>
<rect x="174.3" y="361.5" width="26.9" height="0.9" fill="#fff" opacity="0.3"/>
<rect x="163.1" y="467.7" width="35.9" height="0.9" fill="#fff" opacity="0.3"/>
<rect x="167.8" y="367.4" width="13.5" height="0.9" fill="#fff" opacity="0.3"/>
<rect x="166.2" y="416.3" width="28.0" height="0.9" fill="#fff" opacity="0.3"/>
<rect x="158.9" y="469.8" width="27.2" height="0.9" fill="#fff" opacity="0.3"/>
<rect x="162.9" y="416.1" width="10.1" height="0.9" fill="#fff" opacity="0.3"/>
<rect x="174.5" y="467.1" width="26.3" height="0.9" fill="#fff" opacity="0.3"/>
<rect x="180.1" y="340.8" width="20.1" height="0.9" fill="#fff" opacity="0.3"/>
<rect x="170.7" y="395.5" width="21.4" height="0.9" fill="#fff" opacity="0.3"/>
<rect x="168.2" y="469.3" width="27.8" height="0.9" fill="#fff" opacity="0.3"/>
<rect x="181.0" y="442.0" width="13.8" height="0.9" fill="#fff" opacity="0.3"/>
<rect x="181.5" y="376.6" width="19.7" height="0.9" fill="#fff" opacity="0.3"/>
<rect x="179.6" y="381.6" width="12.4" height="0.9" fill="#fff" opacity="0.3"/>
<rect x="157.3" y="363.5" width="27.6" height="0.9" fill="#fff" opacity="0.3"/>
<rect x="163.8" y="398.8" width="21.2" height="0.9" fill="#fff" opacity="0.3"/>
<rect x="174.9" y="363.5" width="26.3" height="0.9" fill="#fff" opacity="0.3"/>
<rect x="179.3" y="382.9" width="10.4" height="0.9" fill="#fff" opacity="0.3"/>
<rect x="159.6" y="410.7" width="12.4" height="0.9" fill="#fff" opacity="0.3"/>
<rect x="157.8" y="409.6" width="11.2" height="0.9" fill="#fff" opacity="0.3"/>
<rect x="165.7" y="345.5" width="32.0" height="0.9" fill="#fff" opacity="0.3"/>
<rect x="158.8" y="368.9" width="30.3" height="0.9" fill="#fff" opacity="0.3"/>
<rect x="182.8" y="448.7" width="10.5" height="0.9" fill="#fff" opacity="0.3"/>
<rect x="167.3" y="350.2" width="33.9" height="0.9" fill="#fff" opacity="0.3"/>
<rect x="179.7" y="406.8" width="15.3" height="0.9" fill="#fff" opacity="0.3"/>
<rect x="174.3" y="396.4" width="15.4" height="0.9" fill="#fff" opacity="0.3"/>
<rect x="155.4" y="325.3" width="45.79999999999998" height="1.05" fill="url(#g2_0)"/>
<rect x="155.4" y="326.3" width="45.79999999999998" height="1.05" fill="url(#g2_1)"/>
<rect x="155.4" y="327.3" width="45.79999999999998" height="1.05" fill="url(#g2_2)"/>
<rect x="165.2" y="327.3" width="13.1" height="1" fill="#e37c5f" opacity="0.45"/>
<rect x="155.4" y="328.3" width="45.79999999999998" height="1.05" fill="url(#g2_3)"/>
<rect x="155.4" y="329.3" width="45.79999999999998" height="1.05" fill="url(#g2_4)"/>
<rect x="155.4" y="330.3" width="45.79999999999998" height="1.05" fill="url(#g2_5)"/>
<rect x="155.4" y="331.3" width="45.79999999999998" height="1.05" fill="url(#g2_6)"/>
<rect x="155.4" y="332.3" width="45.79999999999998" height="1.05" fill="url(#g2_7)"/>
<rect x="169.4" y="332.3" width="8.9" height="1" fill="#c9472d" opacity="0.45"/>
<rect x="155.4" y="333.3" width="45.79999999999998" height="1.05" fill="url(#g2_8)"/>
<rect x="155.4" y="334.3" width="45.79999999999998" height="1.05" fill="url(#g2_9)"/>
<rect x="155.4" y="335.3" width="45.79999999999998" height="1.05" fill="url(#g2_10)"/>
<rect x="155.4" y="336.3" width="45.79999999999998" height="1.05" fill="url(#g2_11)"/>
<rect x="155.4" y="337.3" width="45.79999999999998" height="1.05" fill="url(#g2_12)"/>
<rect x="155.4" y="338.3" width="45.79999999999998" height="1.05" fill="url(#g2_13)"/>
<rect x="155.4" y="339.3" width="45.79999999999998" height="1.05" fill="url(#g2_14)"/>
<rect x="155.4" y="340.3" width="45.79999999999998" height="1.05" fill="url(#g2_15)"/>
<rect x="155.4" y="341.3" width="45.79999999999998" height="1.05" fill="url(#g2_16)"/>
<rect x="155.4" y="342.3" width="45.79999999999998" height="1.05" fill="url(#g2_17)"/>
<rect x="178.3" y="342.3" width="16.7" height="1" fill="#e57f62" opacity="0.45"/>
<rect x="155.4" y="343.3" width="45.79999999999998" height="1.05" fill="url(#g2_18)"/>
<rect x="178.3" y="343.3" width="16.5" height="1" fill="#de7054" opacity="0.45"/>
<rect x="155.4" y="344.3" width="45.79999999999998" height="1.05" fill="url(#g2_19)"/>
<rect x="178.3" y="344.3" width="19.9" height="1" fill="#ed9072" opacity="0.45"/>
<rect x="155.4" y="345.3" width="45.79999999999998" height="1.05" fill="url(#g2_20)"/>
<rect x="155.4" y="346.3" width="45.79999999999998" height="1.05" fill="url(#g2_21)"/>
<rect x="178.3" y="346.3" width="19.6" height="1" fill="#e47d61" opacity="0.45"/>
<rect x="155.4" y="347.3" width="45.79999999999998" height="1.05" fill="url(#g2_22)"/>
<rect x="155.4" y="348.3" width="45.79999999999998" height="1.05" fill="url(#g2_23)"/>
<rect x="155.4" y="349.3" width="45.79999999999998" height="1.05" fill="url(#g2_24)"/>
<rect x="157.9" y="349.3" width="20.4" height="1" fill="#f6c3b2" opacity="0.45"/>
<rect x="155.4" y="350.3" width="45.79999999999998" height="1.05" fill="url(#g2_25)"/>
<rect x="178.3" y="350.3" width="16.6" height="1" fill="#f19a7d" opacity="0.45"/>
<rect x="155.4" y="351.3" width="45.79999999999998" height="1.05" fill="url(#g2_26)"/>
<rect x="155.4" y="352.3" width="45.79999999999998" height="1.05" fill="url(#g2_27)"/>
<rect x="155.4" y="353.3" width="45.79999999999998" height="1.05" fill="url(#g2_28)"/>
<rect x="166.1" y="353.3" width="12.2" height="1" fill="#f0987b" opacity="0.45"/>
<rect x="155.4" y="354.3" width="45.79999999999998" height="1.05" fill="url(#g2_29)"/>
<rect x="155.4" y="355.3" width="45.79999999999998" height="1.05" fill="url(#g2_30)"/>
<rect x="155.4" y="356.3" width="45.79999999999998" height="1.05" fill="url(#g2_31)"/>
<rect x="155.4" y="357.3" width="45.79999999999998" height="1.05" fill="url(#g2_32)"/>
<rect x="178.3" y="357.3" width="10.4" height="1" fill="#f5b9a6" opacity="0.45"/>
<rect x="155.4" y="358.3" width="45.79999999999998" height="1.05" fill="url(#g2_33)"/>
<rect x="155.4" y="359.3" width="45.79999999999998" height="1.05" fill="url(#g2_34)"/>
<rect x="155.4" y="360.3" width="45.79999999999998" height="1.05" fill="url(#g2_35)"/>
<rect x="155.4" y="361.3" width="45.79999999999998" height="1.05" fill="url(#g2_36)"/>
<rect x="178.3" y="361.3" width="15.7" height="1" fill="#f4b39e" opacity="0.45"/>
<rect x="155.4" y="362.3" width="45.79999999999998" height="1.05" fill="url(#g2_37)"/>
<rect x="155.4" y="363.3" width="45.79999999999998" height="1.05" fill="url(#g2_38)"/>
<rect x="178.3" y="363.3" width="9.7" height="1" fill="#f8cdbf" opacity="0.45"/>
<rect x="155.4" y="364.3" width="45.79999999999998" height="1.05" fill="url(#g2_39)"/>
<rect x="155.4" y="365.3" width="45.79999999999998" height="1.05" fill="url(#g2_40)"/>
<rect x="178.3" y="365.3" width="13.8" height="1" fill="#f6c1b0" opacity="0.45"/>
<rect x="155.4" y="366.3" width="45.79999999999998" height="1.05" fill="url(#g2_41)"/>
<rect x="162.1" y="366.3" width="16.2" height="1" fill="#f8d3c7" opacity="0.45"/>
<rect x="155.4" y="367.3" width="45.79999999999998" height="1.05" fill="url(#g2_42)"/>
<rect x="155.4" y="368.3" width="45.79999999999998" height="1.05" fill="url(#g2_43)"/>
<rect x="155.4" y="369.3" width="45.79999999999998" height="1.05" fill="url(#g2_44)"/>
<rect x="171.1" y="369.3" width="7.2" height="1" fill="#f8d0c3" opacity="0.45"/>
<rect x="155.4" y="370.3" width="45.79999999999998" height="1.05" fill="url(#g2_45)"/>
<rect x="155.4" y="371.3" width="45.79999999999998" height="1.05" fill="url(#g2_46)"/>
<rect x="155.4" y="372.3" width="45.79999999999998" height="1.05" fill="url(#g2_47)"/>
<rect x="155.4" y="373.3" width="45.79999999999998" height="1.05" fill="url(#g2_48)"/>
<rect x="155.4" y="374.3" width="45.79999999999998" height="1.05" fill="url(#g2_49)"/>
<rect x="155.4" y="375.3" width="45.79999999999998" height="1.05" fill="url(#g2_50)"/>
<rect x="155.4" y="376.3" width="45.79999999999998" height="1.05" fill="url(#g2_51)"/>
<rect x="155.4" y="377.3" width="45.79999999999998" height="1.05" fill="url(#g2_52)"/>
<rect x="155.4" y="378.3" width="45.79999999999998" height="1.05" fill="url(#g2_53)"/>
<rect x="168.6" y="378.3" width="9.7" height="1" fill="#fadfd7" opacity="0.45"/>
<rect x="155.4" y="379.3" width="45.79999999999998" height="1.05" fill="url(#g2_54)"/>
<rect x="155.4" y="380.3" width="45.79999999999998" height="1.05" fill="url(#g2_55)"/>
<rect x="155.4" y="381.3" width="45.79999999999998" height="1.05" fill="url(#g2_56)"/>
<rect x="155.4" y="382.3" width="45.79999999999998" height="1.05" fill="url(#g2_57)"/>
<rect x="155.4" y="383.3" width="45.79999999999998" height="1.05" fill="url(#g2_58)"/>
<rect x="155.4" y="384.3" width="45.79999999999998" height="1.05" fill="url(#g2_59)"/>
<rect x="155.4" y="385.3" width="45.79999999999998" height="1.05" fill="url(#g2_60)"/>
<rect x="155.4" y="386.3" width="45.79999999999998" height="1.05" fill="url(#g2_61)"/>
<rect x="155.4" y="387.3" width="45.79999999999998" height="1.05" fill="url(#g2_62)"/>
<rect x="155.4" y="388.3" width="45.79999999999998" height="1.05" fill="url(#g2_63)"/>
<rect x="155.4" y="389.3" width="45.79999999999998" height="1.05" fill="url(#g2_64)"/>
<rect x="155.4" y="390.3" width="45.79999999999998" height="1.05" fill="url(#g2_65)"/>
<rect x="155.4" y="391.3" width="45.79999999999998" height="1.05" fill="url(#g2_66)"/>
<rect x="155.4" y="392.3" width="45.79999999999998" height="1.05" fill="url(#g2_67)"/>
<rect x="155.4" y="393.3" width="45.79999999999998" height="1.05" fill="url(#g2_68)"/>
<rect x="155.4" y="394.3" width="45.79999999999998" height="1.05" fill="url(#g2_69)"/>
<rect x="155.4" y="395.3" width="45.79999999999998" height="1.05" fill="url(#g2_70)"/>
<rect x="155.4" y="396.3" width="45.79999999999998" height="1.05" fill="url(#g2_71)"/>
<rect x="155.4" y="397.3" width="45.79999999999998" height="1.05" fill="url(#g2_72)"/>
<rect x="155.4" y="398.3" width="45.79999999999998" height="1.05" fill="url(#g2_73)"/>
<rect x="155.4" y="399.3" width="45.79999999999998" height="1.05" fill="url(#g2_74)"/>
<line x1="178.3" y1="327.5" x2="178.3" y2="476" stroke="#42302c" stroke-width="1.1" stroke-dasharray="3.2 2.8"/>
<rect x="155.4" y="325.3" width="45.79999999999998" height="151" fill="none" stroke="#111" stroke-width="1"/>
<line x1="155.4" y1="476.6" x2="201.2" y2="476.6" stroke="#111" stroke-width="1.3"/>
<path d="M155.40 476.6v1.8 M156.67 476.6v1.8 M157.94 476.6v1.8 M159.22 476.6v1.8 M160.49 476.6v1.8 M161.76 476.6v1.8 M163.03 476.6v1.8 M164.31 476.6v1.8 M165.58 476.6v1.8 M166.85 476.6v1.8 M168.12 476.6v1.8 M169.39 476.6v1.8 M170.67 476.6v1.8 M171.94 476.6v1.8 M173.21 476.6v1.8 M174.48 476.6v1.8 M175.76 476.6v1.8 M177.03 476.6v1.8 M178.30 476.6v1.8 M179.57 476.6v1.8 M180.84 476.6v1.8 M182.12 476.6v1.8 M183.39 476.6v1.8 M184.66 476.6v1.8 M185.93 476.6v1.8 M187.21 476.6v1.8 M188.48 476.6v1.8 M189.75 476.6v1.8 M191.02 476.6v1.8 M192.29 476.6v1.8 M193.57 476.6v1.8 M194.84 476.6v1.8 M196.11 476.6v1.8 M197.38 476.6v1.8 M198.66 476.6v1.8 M199.93 476.6v1.8 M201.20 476.6v1.8" stroke="#111" stroke-width="0.7"/>
<line x1="178.3" y1="476.6" x2="178.3" y2="478.6" stroke="#111" stroke-width="0.9"/>
<text x="25.1" y="321.1" font-size="9.6" text-anchor="start" font-weight="normal" font-style="normal" fill="#222" stroke="#222" stroke-width="0.14" textLength="35.8" lengthAdjust="spacingAndGlyphs">Controls</text>
<text x="97.8" y="320.9" font-size="9.4" text-anchor="start" font-weight="normal" font-style="italic" fill="#b0183c" stroke="#b0183c" stroke-width="0.14" textLength="21.6" lengthAdjust="spacingAndGlyphs">N1IC</text>
<text x="155.6" y="320.9" font-size="9.4" font-style="italic" fill="#2d6aa3" stroke="#2d6aa3" stroke-width="0.14"><tspan textLength="38.2" lengthAdjust="spacingAndGlyphs">N1IC Tcf7</tspan><tspan font-size="5.6" dy="-3.8">Δ/Δ</tspan></text>
<text x="18.4" y="486.2" font-size="7.7" text-anchor="middle" font-weight="normal" font-style="normal" fill="#222" stroke="#222" stroke-width="0.14" textLength="18.3" lengthAdjust="spacingAndGlyphs">-2.5 kb</text>
<text x="41.3" y="486.2" font-size="7.7" text-anchor="middle" font-weight="normal" font-style="normal" fill="#222" stroke="#222" stroke-width="0.14" textLength="17" lengthAdjust="spacingAndGlyphs">Center</text>
<text x="64.6" y="486.2" font-size="7.7" text-anchor="middle" font-weight="normal" font-style="normal" fill="#222" stroke="#222" stroke-width="0.14" textLength="16" lengthAdjust="spacingAndGlyphs">2.5 kb</text>
<text x="85.4" y="486.2" font-size="7.7" text-anchor="middle" font-weight="normal" font-style="normal" fill="#222" stroke="#222" stroke-width="0.14" textLength="18.3" lengthAdjust="spacingAndGlyphs">-2.5 kb</text>
<text x="108.3" y="486.2" font-size="7.7" text-anchor="middle" font-weight="normal" font-style="normal" fill="#222" stroke="#222" stroke-width="0.14" textLength="17" lengthAdjust="spacingAndGlyphs">Center</text>
<text x="131.5" y="486.2" font-size="7.7" text-anchor="middle" font-weight="normal" font-style="normal" fill="#222" stroke="#222" stroke-width="0.14" textLength="16" lengthAdjust="spacingAndGlyphs">2.5 kb</text>
<text x="154.0" y="486.2" font-size="7.7" text-anchor="middle" font-weight="normal" font-style="normal" fill="#222" stroke="#222" stroke-width="0.14" textLength="18.3" lengthAdjust="spacingAndGlyphs">-2.5 kb</text>
<text x="177.0" y="486.2" font-size="7.7" text-anchor="middle" font-weight="normal" font-style="normal" fill="#222" stroke="#222" stroke-width="0.14" textLength="17" lengthAdjust="spacingAndGlyphs">Center</text>
<text x="200.4" y="486.2" font-size="7.7" text-anchor="middle" font-weight="normal" font-style="normal" fill="#222" stroke="#222" stroke-width="0.14" textLength="16" lengthAdjust="spacingAndGlyphs">2.5 kb</text>
<rect x="206.2" y="384" width="5.8" height="23" rx="1.2" fill="url(#cbar)"/>
<text x="205" y="377.4" font-size="7.2" text-anchor="start" font-weight="normal" font-style="normal" fill="#222" stroke="#222" stroke-width="0.14" textLength="30" lengthAdjust="spacingAndGlyphs">H3K27ac</text>
<text x="218.6" y="386.3" font-size="6.6" text-anchor="start" font-weight="normal" font-style="normal" fill="#222" stroke="#222" stroke-width="0.14" >1.5</text>
<text x="218.6" y="392.5" font-size="6.6" text-anchor="start" font-weight="normal" font-style="normal" fill="#222" stroke="#222" stroke-width="0.14" >1</text>
<text x="218.6" y="400.3" font-size="6.6" text-anchor="start" font-weight="normal" font-style="normal" fill="#222" stroke="#222" stroke-width="0.14" >0.5</text>
<text x="218.6" y="406.9" font-size="6.6" text-anchor="start" font-weight="normal" font-style="normal" fill="#222" stroke="#222" stroke-width="0.14" >0</text>
<text x="214.3" y="414.2" font-size="6.6" text-anchor="start" font-weight="normal" font-style="normal" fill="#222" stroke="#222" stroke-width="0.14" >−0.5</text>
<rect x="252.5" y="327.3" width="62.10000000000002" height="30.0" fill="none" stroke="#444" stroke-width="0.9"/>
<line x1="252.5" y1="357.3" x2="314.6" y2="357.3" stroke="#222" stroke-width="1.2"/>
<line x1="250.3" y1="327.30" x2="252.5" y2="327.30" stroke="#333" stroke-width="0.8"/>
<text x="248.2" y="330.30" font-size="8.3" text-anchor="end" font-weight="normal" font-style="normal" fill="#222" stroke="#222" stroke-width="0.14" >1.0</text>
<line x1="250.3" y1="342.30" x2="252.5" y2="342.30" stroke="#333" stroke-width="0.8"/>
<text x="248.2" y="345.30" font-size="8.3" text-anchor="end" font-weight="normal" font-style="normal" fill="#222" stroke="#222" stroke-width="0.14" >0.5</text>
<line x1="250.3" y1="357.30" x2="252.5" y2="357.30" stroke="#333" stroke-width="0.8"/>
<text x="248.2" y="360.30" font-size="8.3" text-anchor="end" font-weight="normal" font-style="normal" fill="#222" stroke="#222" stroke-width="0.14" >0</text>
<line x1="283.6" y1="330.3" x2="283.6" y2="357.3" stroke="#a07c8c" stroke-width="1.1" stroke-dasharray="1.4 2.2"/>
<polyline points="252.50,355.01 253.12,354.99 253.74,354.97 254.36,354.95 254.98,354.93 255.60,354.91 256.23,354.88 256.85,354.86 257.47,354.83 258.09,354.80 258.71,354.76 259.33,354.73 259.95,354.69 260.57,354.65 261.19,354.61 261.81,354.56 262.44,354.51 263.06,354.46 263.68,354.40 264.30,354.34 264.92,354.27 265.54,354.20 266.16,354.12 266.78,354.03 267.40,353.94 268.02,353.83 268.65,353.72 269.27,353.60 269.89,353.46 270.51,353.31 271.13,353.15 271.75,352.97 272.37,352.77 272.99,352.55 273.61,352.31 274.24,352.04 274.86,351.75 275.48,351.43 276.10,351.08 276.72,350.69 277.34,350.28 277.96,349.85 278.58,349.39 279.20,348.91 279.82,348.44 280.44,347.98 281.07,347.56 281.69,347.19 282.31,346.91 282.93,346.72 283.55,346.65 284.17,346.70 284.79,346.87 285.41,347.14 286.03,347.49 286.66,347.91 287.28,348.36 287.90,348.84 288.52,349.31 289.14,349.77 289.76,350.22 290.38,350.63 291.00,351.02 291.62,351.37 292.24,351.70 292.87,352.00 293.49,352.27 294.11,352.51 294.73,352.74 295.35,352.94 295.97,353.12 296.59,353.29 297.21,353.44 297.83,353.58 298.45,353.70 299.08,353.82 299.70,353.92 300.32,354.02 300.94,354.11 301.56,354.19 302.18,354.26 302.80,354.33 303.42,354.39 304.04,354.45 304.66,354.50 305.29,354.55 305.91,354.60 306.53,354.64 307.15,354.68 307.77,354.72 308.39,354.76 309.01,354.79 309.63,354.82 310.25,354.85 310.87,354.88 311.50,354.90 312.12,354.93 312.74,354.95 313.36,354.97 313.98,354.99 314.60,355.01" fill="none" stroke="#b51d3d" stroke-width="1.5"/>
<text x="283.6" y="323.5" font-size="9.2" text-anchor="middle" fill="#222" textLength="36.3" lengthAdjust="spacingAndGlyphs" stroke="#222" stroke-width="0.14">Controls</text>
<rect x="252.5" y="386" width="62.10000000000002" height="30.399999999999977" fill="none" stroke="#444" stroke-width="0.9"/>
<line x1="252.5" y1="416.4" x2="314.6" y2="416.4" stroke="#222" stroke-width="1.2"/>
<line x1="250.3" y1="386.00" x2="252.5" y2="386.00" stroke="#333" stroke-width="0.8"/>
<text x="248.2" y="389.00" font-size="8.3" text-anchor="end" font-weight="normal" font-style="normal" fill="#222" stroke="#222" stroke-width="0.14" >1.0</text>
<line x1="250.3" y1="401.20" x2="252.5" y2="401.20" stroke="#333" stroke-width="0.8"/>
<text x="248.2" y="404.20" font-size="8.3" text-anchor="end" font-weight="normal" font-style="normal" fill="#222" stroke="#222" stroke-width="0.14" >0.5</text>
<line x1="250.3" y1="416.40" x2="252.5" y2="416.40" stroke="#333" stroke-width="0.8"/>
<text x="248.2" y="419.40" font-size="8.3" text-anchor="end" font-weight="normal" font-style="normal" fill="#222" stroke="#222" stroke-width="0.14" >0</text>
<line x1="283.6" y1="389" x2="283.6" y2="416.4" stroke="#a07c8c" stroke-width="1.1" stroke-dasharray="1.4 2.2"/>
<polyline points="252.50,412.78 253.12,412.74 253.74,412.71 254.36,412.67 254.98,412.63 255.60,412.59 256.23,412.54 256.85,412.49 257.47,412.44 258.09,412.38 258.71,412.32 259.33,412.26 259.95,412.19 260.57,412.12 261.19,412.04 261.81,411.96 262.44,411.87 263.06,411.77 263.68,411.66 264.30,411.55 264.92,411.43 265.54,411.29 266.16,411.15 266.78,410.99 267.40,410.82 268.02,410.63 268.65,410.43 269.27,410.20 269.89,409.95 270.51,409.68 271.13,409.38 271.75,409.06 272.37,408.69 272.99,408.29 273.61,407.85 274.24,407.37 274.86,406.83 275.48,406.25 276.10,405.61 276.72,404.92 277.34,404.17 277.96,403.37 278.58,402.53 279.20,401.67 279.82,400.81 280.44,399.97 281.07,399.20 281.69,398.54 282.31,398.02 282.93,397.68 283.55,397.55 284.17,397.64 284.79,397.95 285.41,398.44 286.03,399.09 286.66,399.84 287.28,400.67 287.90,401.53 288.52,402.40 289.14,403.24 289.76,404.04 290.38,404.80 291.00,405.50 291.62,406.15 292.24,406.74 292.87,407.29 293.49,407.78 294.11,408.23 294.73,408.63 295.35,409.00 295.97,409.33 296.59,409.64 297.21,409.91 297.83,410.16 298.45,410.39 299.08,410.60 299.70,410.79 300.32,410.96 300.94,411.12 301.56,411.27 302.18,411.41 302.80,411.53 303.42,411.65 304.04,411.75 304.66,411.85 305.29,411.94 305.91,412.03 306.53,412.11 307.15,412.18 307.77,412.25 308.39,412.31 309.01,412.37 309.63,412.43 310.25,412.48 310.87,412.53 311.50,412.58 312.12,412.62 312.74,412.66 313.36,412.70 313.98,412.74 314.60,412.77" fill="none" stroke="#b51d3d" stroke-width="1.5"/>
<text x="270.9" y="382.2" font-size="8.6" font-style="italic" fill="#b0183c" textLength="22.7" lengthAdjust="spacingAndGlyphs" stroke="#b0183c" stroke-width="0.14">N1IC</text>
<rect x="252.5" y="444.4" width="62.10000000000002" height="30.30000000000001" fill="none" stroke="#444" stroke-width="0.9"/>
<line x1="252.5" y1="474.7" x2="314.6" y2="474.7" stroke="#222" stroke-width="1.2"/>
<line x1="250.3" y1="444.40" x2="252.5" y2="444.40" stroke="#333" stroke-width="0.8"/>
<text x="248.2" y="447.40" font-size="8.3" text-anchor="end" font-weight="normal" font-style="normal" fill="#222" stroke="#222" stroke-width="0.14" >1.0</text>
<line x1="250.3" y1="459.55" x2="252.5" y2="459.55" stroke="#333" stroke-width="0.8"/>
<text x="248.2" y="462.55" font-size="8.3" text-anchor="end" font-weight="normal" font-style="normal" fill="#222" stroke="#222" stroke-width="0.14" >0.5</text>
<line x1="250.3" y1="474.70" x2="252.5" y2="474.70" stroke="#333" stroke-width="0.8"/>
<text x="248.2" y="477.70" font-size="8.3" text-anchor="end" font-weight="normal" font-style="normal" fill="#222" stroke="#222" stroke-width="0.14" >0</text>
<line x1="283.6" y1="447.4" x2="283.6" y2="474.7" stroke="#a07c8c" stroke-width="1.1" stroke-dasharray="1.4 2.2"/>
<polyline points="252.50,471.43 253.12,471.41 253.74,471.38 254.36,471.35 254.98,471.32 255.60,471.28 256.23,471.25 256.85,471.21 257.47,471.17 258.09,471.12 258.71,471.08 259.33,471.03 259.95,470.98 260.57,470.92 261.19,470.86 261.81,470.79 262.44,470.72 263.06,470.65 263.68,470.56 264.30,470.47 264.92,470.38 265.54,470.27 266.16,470.16 266.78,470.04 267.40,469.90 268.02,469.76 268.65,469.60 269.27,469.42 269.89,469.23 270.51,469.02 271.13,468.78 271.75,468.53 272.37,468.24 272.99,467.93 273.61,467.59 274.24,467.21 274.86,466.79 275.48,466.34 276.10,465.84 276.72,465.30 277.34,464.71 277.96,464.09 278.58,463.44 279.20,462.77 279.82,462.09 280.44,461.44 281.07,460.84 281.69,460.32 282.31,459.91 282.93,459.65 283.55,459.55 284.17,459.62 284.79,459.86 285.41,460.24 286.03,460.75 286.66,461.34 287.28,461.99 287.90,462.66 288.52,463.33 289.14,463.99 289.76,464.62 290.38,465.21 291.00,465.75 291.62,466.26 292.24,466.72 292.87,467.15 293.49,467.53 294.11,467.88 294.73,468.20 295.35,468.48 295.97,468.74 296.59,468.98 297.21,469.20 297.83,469.39 298.45,469.57 299.08,469.73 299.70,469.88 300.32,470.02 300.94,470.14 301.56,470.26 302.18,470.36 302.80,470.46 303.42,470.55 304.04,470.63 304.66,470.71 305.29,470.78 305.91,470.85 306.53,470.91 307.15,470.97 307.77,471.02 308.39,471.07 309.01,471.12 309.63,471.16 310.25,471.20 310.87,471.24 311.50,471.28 312.12,471.31 312.74,471.34 313.36,471.37 313.98,471.40 314.60,471.43" fill="none" stroke="#b51d3d" stroke-width="1.5"/>
<text x="258" y="441.1" font-size="8.7" font-style="italic" fill="#2a4e8e" stroke="#2a4e8e" stroke-width="0.14"><tspan textLength="44.7" lengthAdjust="spacingAndGlyphs">N1IC Tcf7</tspan><tspan font-size="6" dy="-3.6">Δ/Δ</tspan></text>
<text x="328.1" y="315.8" font-size="11.2" text-anchor="start" font-weight="bold" font-style="normal" fill="#000" stroke="#000" stroke-width="0.14" >F</text>
<text x="389.4" y="314.8" font-size="9.5" fill="#222" textLength="87.6" lengthAdjust="spacingAndGlyphs" stroke="#222" stroke-width="0.14"><tspan font-style="italic" fill="#b0183c">N1IC</tspan> vs Controls EPI</text>
<g stroke="#222" stroke-width="1.1" fill="none">
<line x1="351.8" y1="319.6" x2="351.8" y2="475.3"/>
<line x1="351.3" y1="474.8" x2="513" y2="474.8"/>
<line x1="349" y1="343.3" x2="351.8" y2="343.3"/>
<line x1="349" y1="374.5" x2="351.8" y2="374.5"/>
<line x1="349" y1="405.4" x2="351.8" y2="405.4"/>
<line x1="349" y1="436.7" x2="351.8" y2="436.7"/>
<line x1="349" y1="467.9" x2="351.8" y2="467.9"/>
<line x1="384.8" y1="474.8" x2="384.8" y2="477.6"/>
<line x1="430.6" y1="474.8" x2="430.6" y2="477.6"/>
<line x1="476.2" y1="474.8" x2="476.2" y2="477.6"/>
</g>
<text x="346.6" y="346.4" font-size="8.6" text-anchor="end" font-weight="normal" font-style="normal" fill="#222" stroke="#222" stroke-width="0.14" >10</text>
<text x="346.6" y="377.6" font-size="8.6" text-anchor="end" font-weight="normal" font-style="normal" fill="#222" stroke="#222" stroke-width="0.14" >7.5</text>
<text x="346.6" y="408.5" font-size="8.6" text-anchor="end" font-weight="normal" font-style="normal" fill="#222" stroke="#222" stroke-width="0.14" >5</text>
<text x="346.6" y="439.8" font-size="8.6" text-anchor="end" font-weight="normal" font-style="normal" fill="#222" stroke="#222" stroke-width="0.14" >2.5</text>
<text x="346.6" y="471.0" font-size="8.6" text-anchor="end" font-weight="normal" font-style="normal" fill="#222" stroke="#222" stroke-width="0.14" >0</text>
<text x="384.8" y="486.5" font-size="9" text-anchor="middle" font-weight="normal" font-style="normal" fill="#222" stroke="#222" stroke-width="0.14" >−5</text>
<text x="430.6" y="486.5" font-size="9" text-anchor="middle" font-weight="normal" font-style="normal" fill="#222" stroke="#222" stroke-width="0.14" >0</text>
<text x="476.2" y="486.5" font-size="9" text-anchor="middle" font-weight="normal" font-style="normal" fill="#222" stroke="#222" stroke-width="0.14" >5</text>
<text x="362.2" y="497.9" font-size="8.3" fill="#222" textLength="136.6" lengthAdjust="spacingAndGlyphs" stroke="#222" stroke-width="0.14">ΔEnhancer-promoter interaction strength</text>
<text transform="translate(329.6,429.6) rotate(-90)" font-size="7.6" fill="#222" textLength="57.2" lengthAdjust="spacingAndGlyphs" stroke="#222" stroke-width="0.14">log<tspan font-size="5.4" dy="1.7">2</tspan><tspan dy="-1.7">FC RNA-seq</tspan></text>
<g fill="#b4b4b4">
<circle cx="434.2" cy="320.0" r="1.05"/>
<circle cx="434.2" cy="324.2" r="1.05"/>
<circle cx="406.5" cy="349.7" r="1.05"/>
<circle cx="435.8" cy="345.7" r="1.05"/>
<circle cx="434.2" cy="350.3" r="1.05"/>
<circle cx="431.9" cy="352.8" r="1.05"/>
<circle cx="428.1" cy="354.9" r="1.05"/>
<circle cx="425.0" cy="359.5" r="1.05"/>
<circle cx="434.7" cy="357.7" r="1.05"/>
<circle cx="435.3" cy="359.2" r="1.05"/>
<circle cx="435.8" cy="360.8" r="1.05"/>
<circle cx="428.8" cy="363.8" r="1.05"/>
<circle cx="438.1" cy="363.8" r="1.05"/>
<circle cx="424.2" cy="368.5" r="1.05"/>
<circle cx="428.5" cy="364.0" r="1.05"/>
<circle cx="425.1" cy="368.3" r="1.05"/>
<circle cx="419.0" cy="374.1" r="1.05"/>
<circle cx="418.4" cy="375.5" r="1.05"/>
<circle cx="418.4" cy="380.2" r="1.05"/>
<circle cx="425.1" cy="377.5" r="1.05"/>
<circle cx="418.4" cy="386.9" r="1.05"/>
<circle cx="424.4" cy="386.9" r="1.05"/>
<circle cx="415.7" cy="391.0" r="1.05"/>
<circle cx="418.4" cy="393.0" r="1.05"/>
<circle cx="423.7" cy="391.0" r="1.05"/>
<circle cx="431.1" cy="390.3" r="1.05"/>
<circle cx="433.8" cy="391.0" r="1.05"/>
<circle cx="433.2" cy="384.9" r="1.05"/>
<circle cx="435.2" cy="385.6" r="1.05"/>
<circle cx="427.1" cy="405.8" r="1.05"/>
<circle cx="433.2" cy="406.4" r="1.05"/>
<circle cx="437.9" cy="406.4" r="1.05"/>
<circle cx="436.5" cy="410.5" r="1.05"/>
<circle cx="392.8" cy="452.3" r="1.05"/>
<circle cx="404.2" cy="447.6" r="1.05"/>
<circle cx="404.9" cy="451.0" r="1.05"/>
<circle cx="408.9" cy="443.6" r="1.05"/>
<circle cx="412.0" cy="441.0" r="1.05"/>
<circle cx="410.0" cy="456.0" r="1.05"/>
<circle cx="406.0" cy="462.0" r="1.05"/>
<circle cx="400.0" cy="458.0" r="1.05"/>
<circle cx="436.7" cy="442.8" r="1.05"/>
<circle cx="431.7" cy="413.6" r="1.05"/>
<circle cx="424.0" cy="449.6" r="1.05"/>
<circle cx="421.2" cy="404.1" r="1.05"/>
<circle cx="435.4" cy="427.5" r="1.05"/>
<circle cx="431.9" cy="433.4" r="1.05"/>
<circle cx="433.3" cy="399.9" r="1.05"/>
<circle cx="440.4" cy="436.1" r="1.05"/>
<circle cx="422.3" cy="413.4" r="1.05"/>
<circle cx="426.2" cy="398.5" r="1.05"/>
<circle cx="428.7" cy="454.4" r="1.05"/>
<circle cx="426.3" cy="408.9" r="1.05"/>
<circle cx="429.1" cy="465.0" r="1.05"/>
<circle cx="433.0" cy="404.8" r="1.05"/>
<circle cx="419.7" cy="457.3" r="1.05"/>
<circle cx="422.8" cy="449.1" r="1.05"/>
<circle cx="437.5" cy="435.5" r="1.05"/>
<circle cx="429.9" cy="436.6" r="1.05"/>
<circle cx="419.6" cy="456.1" r="1.05"/>
<circle cx="421.7" cy="438.4" r="1.05"/>
<circle cx="436.1" cy="447.3" r="1.05"/>
<circle cx="432.2" cy="418.3" r="1.05"/>
<circle cx="431.3" cy="403.6" r="1.05"/>
<circle cx="433.7" cy="417.5" r="1.05"/>
<circle cx="426.5" cy="442.5" r="1.05"/>
<circle cx="435.1" cy="412.7" r="1.05"/>
<circle cx="438.8" cy="416.7" r="1.05"/>
<circle cx="427.1" cy="440.6" r="1.05"/>
<circle cx="430.6" cy="410.0" r="1.05"/>
<circle cx="427.3" cy="424.6" r="1.05"/>
<circle cx="424.2" cy="467.3" r="1.05"/>
<circle cx="423.8" cy="445.9" r="1.05"/>
<circle cx="431.9" cy="457.0" r="1.05"/>
<circle cx="427.4" cy="400.2" r="1.05"/>
<circle cx="430.5" cy="420.1" r="1.05"/>
<circle cx="436.6" cy="464.0" r="1.05"/>
<circle cx="426.4" cy="459.3" r="1.05"/>
<circle cx="439.4" cy="425.7" r="1.05"/>
<circle cx="424.9" cy="462.0" r="1.05"/>
<circle cx="432.2" cy="415.3" r="1.05"/>
<circle cx="430.3" cy="437.3" r="1.05"/>
<circle cx="441.6" cy="460.8" r="1.05"/>
<circle cx="435.2" cy="426.0" r="1.05"/>
<circle cx="453.7" cy="433.7" r="1.05"/>
<circle cx="433.4" cy="404.4" r="1.05"/>
<circle cx="432.0" cy="441.9" r="1.05"/>
<circle cx="428.5" cy="453.4" r="1.05"/>
<circle cx="432.1" cy="424.7" r="1.05"/>
<circle cx="409.0" cy="467.7" r="1.05"/>
<circle cx="427.2" cy="458.3" r="1.05"/>
<circle cx="429.6" cy="398.8" r="1.05"/>
<circle cx="420.9" cy="435.6" r="1.05"/>
<circle cx="429.2" cy="416.7" r="1.05"/>
<circle cx="428.6" cy="428.4" r="1.05"/>
<circle cx="443.7" cy="429.8" r="1.05"/>
<circle cx="427.6" cy="416.4" r="1.05"/>
<circle cx="437.4" cy="433.0" r="1.05"/>
<circle cx="446.8" cy="458.9" r="1.05"/>
<circle cx="425.8" cy="418.9" r="1.05"/>
<circle cx="425.3" cy="408.7" r="1.05"/>
<circle cx="418.3" cy="451.4" r="1.05"/>
<circle cx="428.1" cy="435.1" r="1.05"/>
<circle cx="430.6" cy="398.0" r="1.05"/>
<circle cx="432.4" cy="463.0" r="1.05"/>
<circle cx="434.4" cy="459.5" r="1.05"/>
<circle cx="427.2" cy="402.1" r="1.05"/>
<circle cx="434.2" cy="459.5" r="1.05"/>
<circle cx="430.1" cy="432.0" r="1.05"/>
<circle cx="431.6" cy="402.8" r="1.05"/>
<circle cx="421.9" cy="407.0" r="1.05"/>
<circle cx="426.1" cy="431.3" r="1.05"/>
<circle cx="429.1" cy="459.1" r="1.05"/>
<circle cx="432.9" cy="427.6" r="1.05"/>
<circle cx="440.0" cy="449.1" r="1.05"/>
<circle cx="424.1" cy="412.1" r="1.05"/>
<circle cx="452.7" cy="443.5" r="1.05"/>
<circle cx="427.8" cy="428.7" r="1.05"/>
<circle cx="430.7" cy="413.7" r="1.05"/>
<circle cx="427.3" cy="421.7" r="1.05"/>
<circle cx="428.8" cy="413.4" r="1.05"/>
<circle cx="422.0" cy="374.6" r="1.05"/>
<circle cx="421.9" cy="404.6" r="1.05"/>
<circle cx="426.7" cy="402.9" r="1.05"/>
<circle cx="425.3" cy="396.1" r="1.05"/>
<circle cx="430.3" cy="379.7" r="1.05"/>
<circle cx="430.9" cy="392.6" r="1.05"/>
<circle cx="425.6" cy="389.0" r="1.05"/>
<circle cx="416.9" cy="378.9" r="1.05"/>
<circle cx="420.2" cy="375.5" r="1.05"/>
<circle cx="425.8" cy="388.8" r="1.05"/>
<circle cx="418.7" cy="398.2" r="1.05"/>
<circle cx="413.8" cy="375.5" r="1.05"/>
<circle cx="419.8" cy="386.5" r="1.05"/>
<circle cx="430.7" cy="381.0" r="1.05"/>
</g>
<g fill="#b4b4b4">
<circle cx="422.2" cy="443.3" r="1.05"/>
<circle cx="427.3" cy="437.5" r="1.05"/>
<circle cx="423.5" cy="459.4" r="1.05"/>
<circle cx="427.7" cy="457.3" r="1.05"/>
<circle cx="430.1" cy="429.7" r="1.05"/>
<circle cx="440.0" cy="456.4" r="1.05"/>
<circle cx="439.3" cy="459.5" r="1.05"/>
<circle cx="436.7" cy="433.7" r="1.05"/>
<circle cx="428.7" cy="435.3" r="1.05"/>
<circle cx="426.8" cy="430.0" r="1.05"/>
<circle cx="426.3" cy="461.5" r="1.05"/>
<circle cx="423.8" cy="454.7" r="1.05"/>
<circle cx="428.0" cy="442.4" r="1.05"/>
<circle cx="439.1" cy="461.8" r="1.05"/>
<circle cx="430.2" cy="452.4" r="1.05"/>
<circle cx="421.4" cy="438.1" r="1.05"/>
<circle cx="439.3" cy="447.7" r="1.05"/>
<circle cx="429.9" cy="453.4" r="1.05"/>
<circle cx="419.3" cy="447.9" r="1.05"/>
<circle cx="429.1" cy="457.0" r="1.05"/>
<circle cx="421.5" cy="460.7" r="1.05"/>
<circle cx="419.8" cy="434.3" r="1.05"/>
<circle cx="431.1" cy="451.0" r="1.05"/>
<circle cx="423.2" cy="432.1" r="1.05"/>
<circle cx="437.6" cy="436.4" r="1.05"/>
<circle cx="431.1" cy="449.1" r="1.05"/>
<circle cx="427.2" cy="447.8" r="1.05"/>
<circle cx="429.5" cy="459.8" r="1.05"/>
<circle cx="422.5" cy="452.4" r="1.05"/>
<circle cx="423.3" cy="441.5" r="1.05"/>
<circle cx="432.8" cy="438.2" r="1.05"/>
<circle cx="425.0" cy="453.6" r="1.05"/>
<circle cx="419.6" cy="443.6" r="1.05"/>
<circle cx="440.0" cy="461.9" r="1.05"/>
<circle cx="419.6" cy="435.2" r="1.05"/>
<circle cx="423.8" cy="459.7" r="1.05"/>
<circle cx="437.4" cy="457.9" r="1.05"/>
<circle cx="426.1" cy="433.4" r="1.05"/>
<circle cx="436.3" cy="451.9" r="1.05"/>
<circle cx="431.5" cy="461.6" r="1.05"/>
<circle cx="432.4" cy="428.3" r="1.05"/>
<circle cx="436.0" cy="438.2" r="1.05"/>
<circle cx="432.6" cy="459.9" r="1.05"/>
<circle cx="421.0" cy="431.9" r="1.05"/>
<circle cx="420.4" cy="446.8" r="1.05"/>
</g>
<g stroke="#666" stroke-width="0.6" fill="none">
<line x1="455.5" y1="393.9" x2="459.5" y2="393.9"/>
<line x1="454.6" y1="398.8" x2="457.5" y2="400.2"/>
<line x1="444" y1="406.2" x2="459" y2="406.5"/>
<line x1="455" y1="421.5" x2="458" y2="419"/>
<line x1="448" y1="424" x2="459.5" y2="423.8"/>
<line x1="445" y1="436" x2="461" y2="431"/>
<line x1="445" y1="438" x2="462" y2="434.5"/>
<line x1="447" y1="441" x2="476" y2="431"/>
<line x1="447" y1="444" x2="480" y2="437.6"/>
<line x1="447" y1="447" x2="467" y2="444"/>
<line x1="449" y1="451" x2="458" y2="451.2"/>
<line x1="436" y1="432" x2="421" y2="433"/>
<line x1="434" y1="435" x2="414" y2="435.5"/>
<line x1="437" y1="441" x2="424" y2="441.5"/>
<line x1="436" y1="448" x2="420" y2="449.3"/>
<line x1="438" y1="455" x2="425" y2="456"/>
<line x1="441" y1="458" x2="436" y2="462"/>
<line x1="442" y1="459" x2="440" y2="466"/>
<line x1="446" y1="459" x2="450" y2="465"/>
<line x1="442" y1="424" x2="435" y2="421.8"/>
<line x1="440" y1="428" x2="432" y2="428.5"/>
<line x1="481" y1="437.6" x2="487" y2="438"/>
<line x1="478.5" y1="451.5" x2="485" y2="448.5"/>
<line x1="505.8" y1="446.5" x2="503" y2="444.5"/>
<line x1="414" y1="436" x2="442" y2="441"/>
<line x1="420" y1="437.5" x2="441" y2="444"/>
<line x1="437" y1="443" x2="443" y2="446"/>
<line x1="421" y1="450" x2="442" y2="452"/>
<line x1="425" y1="452" x2="443" y2="455"/>
<line x1="423" y1="455" x2="441" y2="449"/>
<line x1="433" y1="442" x2="443" y2="438"/>
<line x1="433" y1="447" x2="444" y2="443"/>
<line x1="426" y1="430" x2="441" y2="433"/>
<line x1="432" y1="434" x2="442" y2="436"/>
<line x1="424" y1="445" x2="440" y2="447"/>
<line x1="430" y1="456" x2="441" y2="458"/>
</g>
<g fill="#a8102f">
<circle cx="440.8" cy="374.5" r="1.1"/>
<circle cx="441.2" cy="384.9" r="1.1"/>
<circle cx="441.2" cy="389.9" r="1.1"/>
<circle cx="440.8" cy="394.2" r="1.1"/>
<circle cx="443.0" cy="400.0" r="1.1"/>
<circle cx="443.9" cy="406.2" r="1.1"/>
<circle cx="440.4" cy="410.8" r="1.1"/>
<circle cx="443.3" cy="417.9" r="1.1"/>
<circle cx="474.6" cy="383.8" r="1.1"/>
<circle cx="454.6" cy="393.9" r="1.1"/>
<circle cx="454.2" cy="398.5" r="1.1"/>
<circle cx="454.6" cy="421.7" r="1.1"/>
<circle cx="479.7" cy="437.7" r="1.1"/>
<circle cx="505.8" cy="446.5" r="1.1"/>
<circle cx="479.7" cy="451.5" r="1.1"/>
<circle cx="478.5" cy="453.5" r="1.1"/>
<circle cx="449.0" cy="451.0" r="1.1"/>
<circle cx="442.0" cy="424.0" r="1.1"/>
<circle cx="441.0" cy="428.0" r="1.1"/>
<circle cx="444.0" cy="432.0" r="1.1"/>
<circle cx="442.0" cy="414.6" r="1.1"/>
<circle cx="443.0" cy="424.7" r="1.1"/>
<circle cx="439.9" cy="403.2" r="1.1"/>
<circle cx="442.5" cy="405.0" r="1.1"/>
<circle cx="442.2" cy="416.9" r="1.1"/>
<circle cx="442.3" cy="412.5" r="1.1"/>
<circle cx="440.7" cy="420.6" r="1.1"/>
<circle cx="443.1" cy="406.9" r="1.1"/>
<circle cx="443.6" cy="409.0" r="1.1"/>
<circle cx="443.4" cy="426.1" r="1.1"/>
<circle cx="442.7" cy="417.8" r="1.1"/>
<circle cx="441.3" cy="421.7" r="1.1"/>
<circle cx="442.0" cy="405.5" r="1.1"/>
<circle cx="444.2" cy="421.1" r="1.1"/>
<circle cx="443.3" cy="413.5" r="1.1"/>
<circle cx="443.0" cy="408.2" r="1.1"/>
<circle cx="443.7" cy="437.0" r="1.1"/>
<circle cx="442.0" cy="456.4" r="1.1"/>
<circle cx="444.9" cy="456.1" r="1.1"/>
<circle cx="443.8" cy="443.7" r="1.1"/>
<circle cx="439.5" cy="428.8" r="1.1"/>
<circle cx="445.1" cy="431.6" r="1.1"/>
<circle cx="445.0" cy="447.1" r="1.1"/>
<circle cx="444.9" cy="456.6" r="1.1"/>
<circle cx="444.0" cy="434.5" r="1.1"/>
<circle cx="443.2" cy="445.3" r="1.1"/>
<circle cx="445.1" cy="428.6" r="1.1"/>
<circle cx="444.3" cy="457.5" r="1.1"/>
<circle cx="441.0" cy="441.4" r="1.1"/>
<circle cx="444.8" cy="431.0" r="1.1"/>
<circle cx="444.4" cy="446.6" r="1.1"/>
<circle cx="445.5" cy="458.7" r="1.1"/>
<circle cx="440.8" cy="429.7" r="1.1"/>
<circle cx="442.3" cy="432.8" r="1.1"/>
<circle cx="449.9" cy="436.6" r="1.1"/>
<circle cx="443.0" cy="431.9" r="1.1"/>
<circle cx="444.5" cy="450.6" r="1.1"/>
<circle cx="442.8" cy="447.6" r="1.1"/>
<circle cx="441.3" cy="429.4" r="1.1"/>
<circle cx="445.3" cy="446.9" r="1.1"/>
<circle cx="444.7" cy="452.8" r="1.1"/>
<circle cx="444.1" cy="455.6" r="1.1"/>
<circle cx="441.4" cy="446.7" r="1.1"/>
<circle cx="443.8" cy="459.6" r="1.1"/>
<circle cx="446.6" cy="446.4" r="1.1"/>
<circle cx="443.6" cy="438.5" r="1.1"/>
<circle cx="443.7" cy="441.9" r="1.1"/>
<circle cx="445.2" cy="438.4" r="1.1"/>
<circle cx="442.6" cy="430.8" r="1.1"/>
<circle cx="442.6" cy="453.1" r="1.1"/>
<circle cx="443.9" cy="428.8" r="1.1"/>
<circle cx="439.8" cy="443.9" r="1.1"/>
<circle cx="443.2" cy="450.7" r="1.1"/>
<circle cx="446.3" cy="441.6" r="1.1"/>
</g>
<text x="439.6" y="371.5" font-size="5.8" text-anchor="start" font-weight="normal" font-style="normal" fill="#3a3a3a" stroke="#3a3a3a" stroke-width="0.14" textLength="17.7" lengthAdjust="spacingAndGlyphs">TRBJ1-5</text>
<text x="424.2" y="381.6" font-size="5.8" text-anchor="start" font-weight="normal" font-style="normal" fill="#3a3a3a" stroke="#3a3a3a" stroke-width="0.14" textLength="13" lengthAdjust="spacingAndGlyphs">TRBC1</text>
<text x="443.9" y="388.4" font-size="5.8" text-anchor="start" font-weight="normal" font-style="normal" fill="#3a3a3a" stroke="#3a3a3a" stroke-width="0.14" textLength="16.5" lengthAdjust="spacingAndGlyphs">TRBJ1-6</text>
<text x="460" y="395" font-size="5.8" text-anchor="start" font-weight="normal" font-style="normal" fill="#3a3a3a" stroke="#3a3a3a" stroke-width="0.14" textLength="13" lengthAdjust="spacingAndGlyphs">SYTL3</text>
<text x="457.7" y="401.5" font-size="5.8" text-anchor="start" font-weight="normal" font-style="normal" fill="#3a3a3a" stroke="#3a3a3a" stroke-width="0.14" textLength="13" lengthAdjust="spacingAndGlyphs">TCTE2</text>
<text x="421.5" y="398.5" font-size="5.8" text-anchor="start" font-weight="normal" font-style="normal" fill="#3a3a3a" stroke="#3a3a3a" stroke-width="0.14" textLength="16.5" lengthAdjust="spacingAndGlyphs">TRBJ1-4</text>
<text x="441.2" y="403" font-size="5.8" text-anchor="start" font-weight="normal" font-style="normal" fill="#3a3a3a" stroke="#3a3a3a" stroke-width="0.14" textLength="7" lengthAdjust="spacingAndGlyphs">CD7</text>
<text x="459.2" y="408.2" font-size="5.8" text-anchor="start" font-weight="normal" font-style="normal" fill="#3a3a3a" stroke="#3a3a3a" stroke-width="0.14" textLength="13.8" lengthAdjust="spacingAndGlyphs">GPR25</text>
<text x="443.5" y="414.5" font-size="5.8" text-anchor="start" font-weight="normal" font-style="normal" fill="#3a3a3a" stroke="#3a3a3a" stroke-width="0.14" textLength="12.3" lengthAdjust="spacingAndGlyphs">SLAMF6</text>
<text x="419.6" y="415.8" font-size="5.8" text-anchor="start" font-weight="normal" font-style="normal" fill="#3a3a3a" stroke="#3a3a3a" stroke-width="0.14" textLength="20" lengthAdjust="spacingAndGlyphs">IGKV6-23</text>
<text x="409.6" y="423" font-size="5.8" text-anchor="start" font-weight="normal" font-style="normal" fill="#3a3a3a" stroke="#3a3a3a" stroke-width="0.14" textLength="21" lengthAdjust="spacingAndGlyphs">TMEM176B</text>
<text x="431" y="423" font-size="5.8" text-anchor="start" font-weight="normal" font-style="normal" fill="#3a3a3a" stroke="#3a3a3a" stroke-width="0.14" textLength="18" lengthAdjust="spacingAndGlyphs">GM16044</text>
<text x="460" y="425.4" font-size="5.8" text-anchor="start" font-weight="normal" font-style="normal" fill="#3a3a3a" stroke="#3a3a3a" stroke-width="0.14" textLength="18.5" lengthAdjust="spacingAndGlyphs">AI847159</text>
<text x="444.6" y="429.7" font-size="5.8" text-anchor="start" font-weight="normal" font-style="normal" fill="#3a3a3a" stroke="#3a3a3a" stroke-width="0.14" textLength="15" lengthAdjust="spacingAndGlyphs">SEMA4A</text>
<text x="416.5" y="429.6" font-size="5.8" text-anchor="start" font-weight="normal" font-style="normal" fill="#3a3a3a" stroke="#3a3a3a" stroke-width="0.14" textLength="17" lengthAdjust="spacingAndGlyphs">B3GALT2</text>
<text x="460.8" y="432.3" font-size="5.8" text-anchor="start" font-weight="normal" font-style="normal" fill="#3a3a3a" stroke="#3a3a3a" stroke-width="0.14" textLength="8" lengthAdjust="spacingAndGlyphs">BHR</text>
<text x="476.2" y="432.6" font-size="5.8" text-anchor="start" font-weight="normal" font-style="normal" fill="#3a3a3a" stroke="#3a3a3a" stroke-width="0.14" textLength="17.6" lengthAdjust="spacingAndGlyphs">GM8890</text>
<text x="420.4" y="434.2" font-size="5.8" text-anchor="start" font-weight="normal" font-style="normal" fill="#3a3a3a" stroke="#3a3a3a" stroke-width="0.14" textLength="11" lengthAdjust="spacingAndGlyphs">GPR4</text>
<text x="462.3" y="435.8" font-size="5.8" text-anchor="start" font-weight="normal" font-style="normal" fill="#3a3a3a" stroke="#3a3a3a" stroke-width="0.14" textLength="18.5" lengthAdjust="spacingAndGlyphs">GM5AC5</text>
<text x="400.4" y="436.5" font-size="5.8" text-anchor="start" font-weight="normal" font-style="normal" fill="#3a3a3a" stroke="#3a3a3a" stroke-width="0.14" textLength="13.1" lengthAdjust="spacingAndGlyphs">JTJUP8</text>
<text x="481.5" y="439.2" font-size="5.8" text-anchor="start" font-weight="normal" font-style="normal" fill="#3a3a3a" stroke="#3a3a3a" stroke-width="0.14" textLength="27.7" lengthAdjust="spacingAndGlyphs">D7ERTD443E</text>
<text x="419.6" y="443.5" font-size="5.8" text-anchor="start" font-weight="normal" font-style="normal" fill="#3a3a3a" stroke="#3a3a3a" stroke-width="0.14" textLength="16.9" lengthAdjust="spacingAndGlyphs">3MAGT2</text>
<text x="495" y="444.3" font-size="5.8" text-anchor="start" font-weight="normal" font-style="normal" fill="#3a3a3a" stroke="#3a3a3a" stroke-width="0.14" textLength="17" lengthAdjust="spacingAndGlyphs">GM8796</text>
<text x="467.4" y="445.4" font-size="5.8" text-anchor="start" font-weight="normal" font-style="normal" fill="#3a3a3a" stroke="#3a3a3a" stroke-width="0.14" textLength="21.6" lengthAdjust="spacingAndGlyphs">TNFRSF23</text>
<text x="486.2" y="449.5" font-size="5.8" text-anchor="start" font-weight="normal" font-style="normal" fill="#3a3a3a" stroke="#3a3a3a" stroke-width="0.14" textLength="17.6" lengthAdjust="spacingAndGlyphs">GM9385</text>
<text x="410.4" y="450.7" font-size="5.8" text-anchor="start" font-weight="normal" font-style="normal" fill="#3a3a3a" stroke="#3a3a3a" stroke-width="0.14" textLength="10.6" lengthAdjust="spacingAndGlyphs">CFA3</text>
<text x="458.2" y="452.6" font-size="5.8" text-anchor="start" font-weight="normal" font-style="normal" fill="#3a3a3a" stroke="#3a3a3a" stroke-width="0.14" textLength="18" lengthAdjust="spacingAndGlyphs">TSC22D1</text>
<text x="477.7" y="456.9" font-size="5.8" text-anchor="start" font-weight="normal" font-style="normal" fill="#3a3a3a" stroke="#3a3a3a" stroke-width="0.14" textLength="15.4" lengthAdjust="spacingAndGlyphs">CADM3</text>
<text x="408" y="458.1" font-size="5.8" text-anchor="start" font-weight="normal" font-style="normal" fill="#3a3a3a" stroke="#3a3a3a" stroke-width="0.14" textLength="16.2" lengthAdjust="spacingAndGlyphs">GM22711</text>
<text x="426.5" y="457.3" font-size="5.8" text-anchor="start" font-weight="normal" font-style="normal" fill="#3a3a3a" stroke="#3a3a3a" stroke-width="0.14" textLength="12" lengthAdjust="spacingAndGlyphs">ITGB7</text>
<text x="442.7" y="458.8" font-size="5.8" text-anchor="start" font-weight="normal" font-style="normal" fill="#3a3a3a" stroke="#3a3a3a" stroke-width="0.14" textLength="23.8" lengthAdjust="spacingAndGlyphs">ATP8B4AAF</text>
<text x="423.5" y="463.9" font-size="5.8" text-anchor="start" font-weight="normal" font-style="normal" fill="#3a3a3a" stroke="#3a3a3a" stroke-width="0.14" textLength="13" lengthAdjust="spacingAndGlyphs">ZFP763</text>
<text x="450.8" y="468" font-size="5.8" text-anchor="start" font-weight="normal" font-style="normal" fill="#3a3a3a" stroke="#3a3a3a" stroke-width="0.14" textLength="14.2" lengthAdjust="spacingAndGlyphs">GDPD1</text>
<text x="431.2" y="470" font-size="5.8" text-anchor="start" font-weight="normal" font-style="normal" fill="#3a3a3a" stroke="#3a3a3a" stroke-width="0.14" textLength="15.3" lengthAdjust="spacingAndGlyphs">CARD11</text>
<text x="427" y="447.3" font-size="5.8" text-anchor="start" font-weight="normal" font-style="normal" fill="#3a3a3a" stroke="#3a3a3a" stroke-width="0.14" textLength="12" lengthAdjust="spacingAndGlyphs">PDE4D</text>
<text x="445" y="442.5" font-size="5.8" text-anchor="start" font-weight="normal" font-style="normal" fill="#3a3a3a" stroke="#3a3a3a" stroke-width="0.14" textLength="12" lengthAdjust="spacingAndGlyphs">MAST1</text>
<text x="472.3" y="382" font-size="7.4" text-anchor="start" font-weight="bold" font-style="normal" fill="#111" stroke="#111" stroke-width="0.14" textLength="23.9" lengthAdjust="spacingAndGlyphs">BCL11B</text>
<text x="458.5" y="421.3" font-size="7.6" text-anchor="start" font-weight="bold" font-style="normal" fill="#111" stroke="#111" stroke-width="0.14" textLength="24.6" lengthAdjust="spacingAndGlyphs">GPR174</text>
<text x="6.3" y="522.5" font-size="11.2" text-anchor="start" font-weight="bold" font-style="normal" fill="#000" stroke="#000" stroke-width="0.14" >G</text>
<text x="76.6" y="522.2" font-size="9.5" fill="#222" textLength="178" lengthAdjust="spacingAndGlyphs" stroke="#222" stroke-width="0.14">GOBP induced by EPI in <tspan font-style="italic" fill="#b0183c">N1IC</tspan> vs Controls</text>
<rect x="197.6" y="529.40" width="44.30" height="6.15" fill="#c3142e"/>
<text x="192.9" y="534.85" font-size="7.5" text-anchor="end" font-weight="normal" font-style="normal" fill="#222" stroke="#222" stroke-width="0.14" textLength="73.5" lengthAdjust="spacingAndGlyphs">Lymphocyte activation</text>
<rect x="197.6" y="536.84" width="40.10" height="6.15" fill="#c3142e"/>
<text x="192.9" y="542.29" font-size="7.5" text-anchor="end" font-weight="normal" font-style="normal" fill="#222" stroke="#222" stroke-width="0.14" textLength="50.7" lengthAdjust="spacingAndGlyphs">T cell activation</text>
<rect x="197.6" y="544.28" width="37.40" height="6.15" fill="#c3142e"/>
<text x="192.9" y="549.73" font-size="7.5" text-anchor="end" font-weight="normal" font-style="normal" fill="#222" stroke="#222" stroke-width="0.14" textLength="65.2" lengthAdjust="spacingAndGlyphs">T cell differentiation</text>
<rect x="197.6" y="551.72" width="30.20" height="6.15" fill="#c3142e"/>
<text x="192.9" y="557.17" font-size="7.5" text-anchor="end" font-weight="normal" font-style="normal" fill="#222" stroke="#222" stroke-width="0.14" textLength="48.3" lengthAdjust="spacingAndGlyphs">T cell selection</text>
<rect x="197.6" y="559.16" width="30.20" height="6.15" fill="#c3142e"/>
<text x="192.9" y="564.61" font-size="7.5" text-anchor="end" font-weight="normal" font-style="normal" fill="#222" stroke="#222" stroke-width="0.14" textLength="88.3" lengthAdjust="spacingAndGlyphs">Lymphocyte differentiation</text>
<rect x="197.6" y="566.60" width="28.20" height="6.15" fill="#c3142e"/>
<text x="192.9" y="572.05" font-size="7.5" text-anchor="end" font-weight="normal" font-style="normal" fill="#222" stroke="#222" stroke-width="0.14" textLength="89.9" lengthAdjust="spacingAndGlyphs">Alpha beta T cell activation</text>
<rect x="197.6" y="574.04" width="22.20" height="6.15" fill="#c3142e"/>
<text x="192.9" y="579.49" font-size="7.5" text-anchor="end" font-weight="normal" font-style="normal" fill="#222" stroke="#222" stroke-width="0.14" textLength="82.1" lengthAdjust="spacingAndGlyphs">Leukocyte differentiation</text>
<rect x="197.6" y="581.48" width="22.20" height="6.15" fill="#c3142e"/>
<text x="192.9" y="586.93" font-size="7.5" text-anchor="end" font-weight="normal" font-style="normal" fill="#222" stroke="#222" stroke-width="0.14" textLength="105.2" lengthAdjust="spacingAndGlyphs">Alpha beta T cell differentiation</text>
<rect x="197.6" y="588.92" width="22.20" height="6.15" fill="#c3142e"/>
<text x="192.9" y="594.37" font-size="7.5" text-anchor="end" font-weight="normal" font-style="normal" fill="#222" stroke="#222" stroke-width="0.14" textLength="76.6" lengthAdjust="spacingAndGlyphs">Positive T cell selection</text>
<rect x="197.6" y="596.36" width="22.00" height="6.15" fill="#c3142e"/>
<text x="192.9" y="601.81" font-size="7.5" text-anchor="end" font-weight="normal" font-style="normal" fill="#222" stroke="#222" stroke-width="0.14" textLength="142.1" lengthAdjust="spacingAndGlyphs">Positive reg. of leukocyte cell-cell adhesion</text>
<rect x="197.6" y="603.80" width="20.10" height="6.15" fill="#c3142e"/>
<text x="192.9" y="609.25" font-size="7.5" text-anchor="end" font-weight="normal" font-style="normal" fill="#222" stroke="#222" stroke-width="0.14" textLength="102.7" lengthAdjust="spacingAndGlyphs">Regulation of cell-cell adhesion</text>
<rect x="197.6" y="611.24" width="20.10" height="6.15" fill="#c3142e"/>
<text x="192.9" y="616.69" font-size="7.5" text-anchor="end" font-weight="normal" font-style="normal" fill="#222" stroke="#222" stroke-width="0.14" textLength="58.1" lengthAdjust="spacingAndGlyphs">Cell-cell adhesion</text>
<rect x="197.6" y="618.68" width="20.10" height="6.15" fill="#c3142e"/>
<text x="192.9" y="624.13" font-size="7.5" text-anchor="end" font-weight="normal" font-style="normal" fill="#222" stroke="#222" stroke-width="0.14" textLength="108.3" lengthAdjust="spacingAndGlyphs">Positive reg. of cell-cell adhesion</text>
<rect x="197.6" y="626.12" width="19.20" height="6.15" fill="#c3142e"/>
<text x="192.9" y="631.57" font-size="7.5" text-anchor="end" font-weight="normal" font-style="normal" fill="#222" stroke="#222" stroke-width="0.14" textLength="119.1" lengthAdjust="spacingAndGlyphs">Regulation of lymphocyte activation</text>
<rect x="197.6" y="633.56" width="18.40" height="6.15" fill="#c3142e"/>
<text x="192.9" y="639.01" font-size="7.5" text-anchor="end" font-weight="normal" font-style="normal" fill="#222" stroke="#222" stroke-width="0.14" textLength="85.8" lengthAdjust="spacingAndGlyphs">Lymphocyte costimulation</text>
<rect x="197.6" y="641.00" width="18.40" height="6.15" fill="#c3142e"/>
<text x="192.9" y="646.45" font-size="7.5" text-anchor="end" font-weight="normal" font-style="normal" fill="#222" stroke="#222" stroke-width="0.14" textLength="82.7" lengthAdjust="spacingAndGlyphs">T cell tolerance induction</text>
<rect x="197.6" y="648.44" width="18.00" height="6.15" fill="#c3142e"/>
<text x="192.9" y="653.89" font-size="7.5" text-anchor="end" font-weight="normal" font-style="normal" fill="#222" stroke="#222" stroke-width="0.14" textLength="144.3" lengthAdjust="spacingAndGlyphs">Reg. of integrin-mediated cell-cell adhesion</text>
<rect x="197.6" y="655.88" width="17.50" height="6.15" fill="#c3142e"/>
<text x="192.9" y="661.33" font-size="7.5" text-anchor="end" font-weight="normal" font-style="normal" fill="#222" stroke="#222" stroke-width="0.14" textLength="97.5" lengthAdjust="spacingAndGlyphs">Immune system development</text>
<rect x="197.6" y="663.32" width="17.00" height="6.15" fill="#c3142e"/>
<text x="192.9" y="668.77" font-size="7.5" text-anchor="end" font-weight="normal" font-style="normal" fill="#222" stroke="#222" stroke-width="0.14" textLength="116.0" lengthAdjust="spacingAndGlyphs">Cell adhesion mediated by integrin</text>
<rect x="197.6" y="670.76" width="17.00" height="6.15" fill="#c3142e"/>
<text x="192.9" y="676.21" font-size="7.5" text-anchor="end" font-weight="normal" font-style="normal" fill="#222" stroke="#222" stroke-width="0.14" textLength="92.3" lengthAdjust="spacingAndGlyphs">Leukocyte cell-cell adhesion</text>
<line x1="197" y1="526" x2="197" y2="681" stroke="#222" stroke-width="1.2"/>
<line x1="196.4" y1="680.6" x2="240.6" y2="680.6" stroke="#222" stroke-width="1.1"/>
<line x1="196.90" y1="680.6" x2="196.90" y2="683" stroke="#222" stroke-width="0.8"/>
<line x1="205.60" y1="680.6" x2="205.60" y2="683" stroke="#222" stroke-width="0.8"/>
<line x1="214.30" y1="680.6" x2="214.30" y2="683" stroke="#222" stroke-width="0.8"/>
<line x1="223.00" y1="680.6" x2="223.00" y2="683" stroke="#222" stroke-width="0.8"/>
<line x1="231.70" y1="680.6" x2="231.70" y2="683" stroke="#222" stroke-width="0.8"/>
<line x1="240.40" y1="680.6" x2="240.40" y2="683" stroke="#222" stroke-width="0.8"/>
<text x="196.6" y="692.3" font-size="7.4" text-anchor="middle" font-weight="normal" font-style="normal" fill="#222" stroke="#222" stroke-width="0.14" >0</text>
<text x="240.4" y="692.3" font-size="7.4" text-anchor="middle" font-weight="normal" font-style="normal" fill="#222" stroke="#222" stroke-width="0.14" >5</text>
<text x="204" y="698.2" font-size="8.6" fill="#222" textLength="30.4" lengthAdjust="spacingAndGlyphs" stroke="#222" stroke-width="0.14">-log<tspan font-size="6.6" dy="2.6">10</tspan><tspan dy="-2.6">(P)</tspan></text>
<text x="325" y="521.5" font-size="11.2" text-anchor="start" font-weight="bold" font-style="normal" fill="#000" stroke="#000" stroke-width="0.14" >H</text>
<text x="421" y="547.3" font-size="9.6" font-style="italic" text-anchor="middle" fill="#222" textLength="29" lengthAdjust="spacingAndGlyphs" stroke="#222" stroke-width="0.14">Bcl11b</text>
<g stroke="#222" stroke-width="1.1" fill="none">
<line x1="351.8" y1="548.1" x2="351.8" y2="666.6" stroke-width="1.35"/>
<line x1="350.7" y1="666.1" x2="489" y2="666.1"/>
<line x1="348.9" y1="666.10" x2="351.8" y2="666.10"/>
<line x1="348.9" y1="628.03" x2="351.8" y2="628.03"/>
<line x1="348.9" y1="589.96" x2="351.8" y2="589.96"/>
<line x1="348.9" y1="551.89" x2="351.8" y2="551.89"/>
<line x1="379.2" y1="666.1" x2="379.2" y2="668.5"/>
<line x1="420.5" y1="666.1" x2="420.5" y2="668.5"/>
<line x1="461.5" y1="666.1" x2="461.5" y2="668.5"/>
</g>
<text x="346.4" y="669.00" font-size="8.1" text-anchor="end" font-weight="normal" font-style="normal" fill="#222" stroke="#222" stroke-width="0.14" >0</text>
<text x="346.4" y="630.93" font-size="8.1" text-anchor="end" font-weight="normal" font-style="normal" fill="#222" stroke="#222" stroke-width="0.14" >5</text>
<text x="346.4" y="592.86" font-size="8.1" text-anchor="end" font-weight="normal" font-style="normal" fill="#222" stroke="#222" stroke-width="0.14" >10</text>
<text x="346.4" y="554.79" font-size="8.1" text-anchor="end" font-weight="normal" font-style="normal" fill="#222" stroke="#222" stroke-width="0.14" >15</text>
<text transform="translate(332.3,608.2) rotate(-90)" font-size="7.8" text-anchor="middle" fill="#222" textLength="15.5" lengthAdjust="spacingAndGlyphs" stroke="#222" stroke-width="0.14">TPM</text>
<rect x="408" y="576.2" width="25.1" height="89.90" fill="#c3142e"/>
<path d="M420.5 576.2V569.5M413 569.5H428" stroke="#222" stroke-width="1.1" fill="none"/>
<path d="M372 665.6H386M455 665.6H468" stroke="#111" stroke-width="1.6"/>
<line x1="379.3" y1="562.0" x2="419.6" y2="562.0" stroke="#222" stroke-width="1.15"/>
<line x1="420.3" y1="564.2" x2="461.5" y2="564.2" stroke="#222" stroke-width="1.15"/>
<text x="399.6" y="563.9" font-size="10" text-anchor="middle" font-weight="normal" font-style="normal" fill="#222" stroke="#222" stroke-width="0.14" textLength="10.6" lengthAdjust="spacingAndGlyphs">***</text>
<text x="441" y="566.0" font-size="10" text-anchor="middle" font-weight="normal" font-style="normal" fill="#222" stroke="#222" stroke-width="0.14" textLength="10.3" lengthAdjust="spacingAndGlyphs">***</text>
<text transform="translate(381.8,674.2) rotate(-28)" font-size="8.3" text-anchor="end" fill="#222" stroke="#222" stroke-width="0.14">Controls</text>
<text transform="translate(423.3,676.3) rotate(-29)" font-size="8.3" text-anchor="end" fill="#b0183c" stroke="#b0183c" stroke-width="0.14">N1IC</text>
<text transform="translate(468.5,674.5) rotate(-28)" font-size="8.3" text-anchor="end" fill="#2d6aa3" stroke="#2d6aa3" stroke-width="0.14">N1IC Tcf7<tspan font-size="5" dy="-3">Δ/Δ</tspan></text>
<rect x="0.5" y="0.5" width="519" height="709" fill="none" stroke="#000" stroke-width="1.2"/>
</svg>
</body></html>
